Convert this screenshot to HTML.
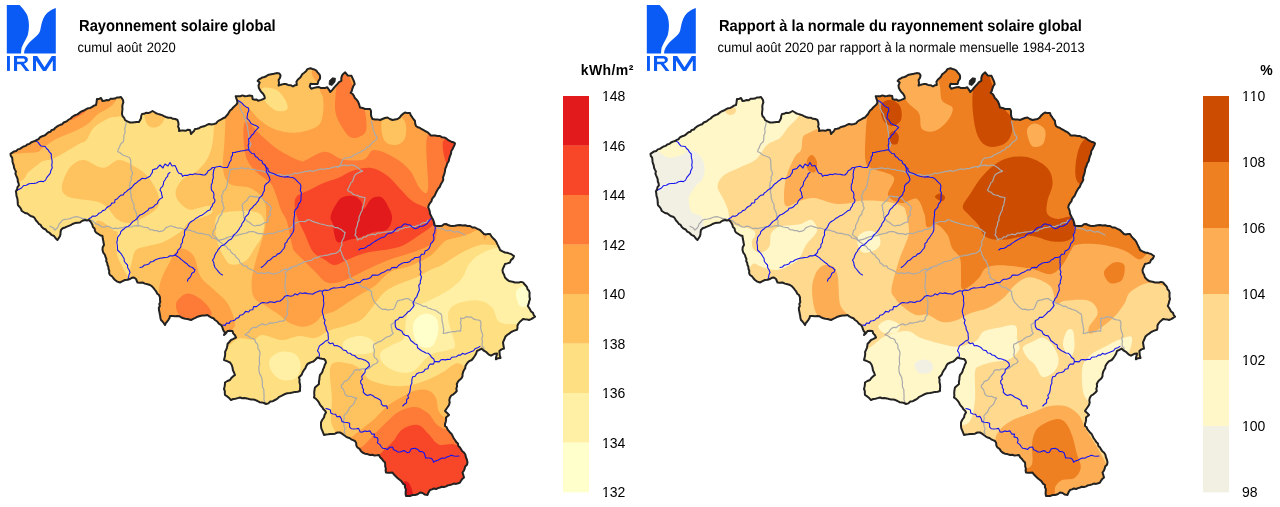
<!DOCTYPE html>
<html><head><meta charset="utf-8"><style>
html,body{margin:0;padding:0;background:#fff;width:1280px;height:507px;overflow:hidden}
svg{display:block}
svg{will-change:transform}
text{font-family:"Liberation Sans",sans-serif;fill:#000}
.t{font-weight:bold;font-size:14.75px;text-rendering:geometricPrecision}
.s{font-size:13px;text-rendering:geometricPrecision}
.lab{font-size:14px;font-kerning:none}
.unit{font-weight:bold;font-size:14px}
</style></head><body>
<svg width="1280" height="507" viewBox="0 0 1280 507">
<defs><clipPath id="bel"><path d="M10.5,153.8 L12.3,152.6 L14.1,151.4 L16.2,151.0 L17.8,149.4 L19.9,148.9 L21.7,147.7 L23.5,146.5 L25.6,145.9 L27.2,144.5 L29.3,143.9 L31.0,142.5 L32.9,141.6 L35.0,141.0 L36.7,139.9 L38.6,139.2 L39.9,137.4 L41.6,136.5 L43.6,135.8 L45.4,135.0 L46.9,133.6 L48.5,132.3 L50.5,131.8 L51.7,129.9 L53.9,129.5 L55.2,127.9 L56.8,126.7 L58.5,125.6 L60.3,124.8 L62.3,124.2 L63.7,122.5 L65.6,121.8 L67.3,120.8 L68.9,119.5 L70.7,118.5 L72.1,117.0 L73.8,115.9 L75.5,115.0 L77.5,114.4 L79.1,113.1 L80.7,111.9 L82.5,111.0 L84.5,110.2 L86.3,109.2 L88.2,108.2 L90.3,107.9 L92.2,106.9 L94.0,105.6 L96.0,105.0 L96.4,103.0 L96.7,101.0 L97.0,99.0 L99.1,98.9 L101.0,98.0 L102.5,101.0 L104.6,100.8 L106.6,99.9 L108.8,100.2 L110.6,98.8 L112.8,98.7 L114.9,98.6 L116.8,97.5 L118.9,97.4 L121.0,97.0 L123.0,100.0 L123.4,102.3 L122.6,104.5 L122.3,106.7 L122.5,109.0 L122.2,111.5 L122.0,114.0 L122.6,116.2 L124.2,117.9 L125.0,120.0 L127.4,121.4 L130.0,122.5 L132.3,122.5 L134.5,122.3 L136.7,122.1 L139.0,122.0 L140.1,120.1 L141.0,118.2 L141.2,116.0 L142.0,114.0 L144.0,113.8 L145.9,112.8 L148.0,113.1 L150.0,112.5 L152.5,111.0 L154.3,112.0 L156.0,113.2 L158.0,113.9 L160.0,114.5 L162.1,115.1 L164.0,116.1 L166.0,117.0 L168.3,117.8 L170.7,117.7 L172.9,118.8 L175.3,119.0 L177.5,120.0 L178.2,122.1 L178.6,124.3 L178.1,126.6 L179.1,128.7 L179.0,131.0 L181.2,130.5 L183.4,130.5 L185.6,130.8 L187.8,129.7 L190.0,130.0 L190.6,132.0 L191.0,134.0 L192.4,132.4 L194.0,130.9 L195.0,129.0 L197.1,128.7 L199.1,128.2 L200.9,127.0 L203.0,126.5 L205.0,126.0 L206.9,124.9 L209.0,124.0 L211.5,124.4 L214.0,124.0 L216.1,123.4 L217.5,121.5 L219.3,120.4 L221.2,119.4 L223.0,118.3 L225.0,117.5 L226.4,115.8 L227.9,114.2 L229.0,112.3 L230.1,110.5 L231.9,109.1 L233.2,107.4 L234.8,105.9 L236.5,104.5 L237.5,102.5 L237.1,100.4 L236.3,98.4 L235.7,96.3 L238.0,96.3 L240.3,96.2 L242.6,95.4 L244.9,96.2 L247.2,95.9 L249.5,95.5 L252.2,95.9 L252.6,99.1 L254.6,99.7 L256.6,99.5 L258.1,100.7 L261.3,99.9 L264.8,98.3 L264.4,95.9 L263.1,93.7 L261.3,92.0 L260.0,90.1 L258.9,88.0 L258.5,85.7 L259.7,82.5 L257.7,80.9 L258.9,79.4 L260.7,78.5 L262.4,77.4 L264.4,77.0 L266.3,76.3 L267.9,75.0 L270.0,74.6 L273.9,73.8 L276.6,73.1 L279.4,73.4 L280.6,75.4 L279.9,77.9 L278.6,80.1 L279.0,82.9 L278.6,85.7 L280.9,84.7 L283.4,84.1 L285.8,84.0 L288.1,84.9 L290.7,85.2 L292.9,86.5 L294.7,85.3 L296.8,84.9 L296.4,81.7 L297.9,79.5 L300.0,77.8 L301.2,76.1 L302.2,74.3 L303.9,73.0 L306.0,71.3 L307.4,69.1 L310.5,68.3 L312.5,69.0 L314.5,69.5 L316.3,70.6 L317.6,72.3 L319.6,74.6 L320.1,76.6 L320.0,78.6 L318.4,81.0 L317.6,84.1 L314.5,84.1 L312.5,84.1 L310.5,83.7 L309.7,86.5 L311.3,88.8 L314.0,87.9 L316.8,87.2 L319.0,87.1 L321.0,88.1 L323.1,88.0 L325.2,88.1 L327.1,87.2 L329.4,90.4 L330.2,92.0 L332.6,89.6 L334.1,87.7 L335.7,85.9 L337.3,84.1 L339.0,82.1 L341.3,80.9 L341.3,78.1 L342.1,75.4 L343.5,73.7 L345.2,72.3 L347.6,75.4 L351.5,75.8 L353.1,79.4 L354.1,81.7 L354.7,84.1 L353.2,86.3 L352.3,88.8 L351.8,90.9 L350.7,92.8 L352.7,94.0 L353.9,95.9 L354.8,98.0 L356.5,99.6 L357.9,101.4 L359.0,104.0 L360.0,107.5 L362.6,107.9 L365.0,109.0 L367.5,109.0 L370.0,109.0 L371.0,110.9 L371.0,113.0 L371.0,115.1 L371.6,117.1 L372.5,119.0 L375.0,119.5 L377.5,119.4 L380.0,120.0 L382.5,119.0 L384.9,118.0 L387.5,117.5 L389.9,119.0 L392.5,120.0 L395.0,119.5 L397.5,119.0 L399.6,117.6 L401.1,115.6 L402.9,113.9 L405.0,112.5 L407.5,113.1 L410.0,113.0 L410.8,115.3 L412.2,117.2 L413.5,119.2 L415.0,121.0 L415.2,123.6 L416.0,126.0 L417.7,127.2 L419.7,127.7 L421.4,129.0 L423.3,129.9 L425.0,131.0 L427.3,132.1 L429.2,133.7 L430.8,135.6 L433.1,135.5 L435.4,135.5 L437.7,136.1 L440.0,136.0 L441.8,137.2 L444.0,137.4 L446.0,138.2 L447.6,139.6 L449.3,140.7 L451.2,141.7 L453.3,142.2 L455.0,143.3 L454.4,145.4 L453.4,147.3 L452.5,149.2 L451.3,151.0 L451.0,153.6 L450.0,156.0 L449.2,158.6 L448.7,161.3 L447.2,163.5 L446.5,166.0 L445.3,168.6 L444.9,171.5 L444.4,173.6 L443.7,175.6 L443.0,177.6 L443.3,179.9 L442.3,181.8 L440.8,184.3 L439.7,187.0 L438.3,188.5 L437.3,190.2 L436.3,192.0 L435.5,193.8 L434.7,195.7 L433.3,197.2 L432.0,199.1 L431.4,201.4 L429.9,203.2 L428.8,205.1 L428.2,207.4 L429.1,209.4 L429.8,211.5 L430.0,213.8 L431.0,215.7 L432.0,217.7 L433.0,219.5 L433.7,221.4 L434.3,223.4 L434.6,225.4 L437.3,226.1 L440.0,226.0 L442.1,225.7 L443.9,224.3 L446.0,224.0 L448.1,225.0 L450.2,225.8 L452.5,226.0 L455.0,225.8 L457.5,225.2 L460.0,225.0 L462.5,225.4 L465.1,225.3 L467.5,226.0 L470.1,226.0 L472.4,227.5 L475.0,227.5 L477.4,228.9 L480.0,230.0 L482.0,232.0 L484.0,234.0 L486.0,234.5 L488.0,233.9 L490.0,234.0 L491.4,236.3 L493.1,238.2 L495.0,240.0 L496.3,241.9 L497.2,243.9 L498.2,245.9 L499.3,247.9 L500.0,250.0 L502.5,251.3 L505.0,252.5 L507.1,252.7 L509.0,253.4 L511.0,254.0 L514.0,256.0 L513.0,258.4 L510.9,260.1 L510.0,262.5 L507.5,263.4 L505.0,264.0 L504.2,266.0 L503.2,268.0 L502.5,270.0 L502.9,272.6 L504.2,275.0 L505.0,277.5 L507.5,280.0 L509.9,281.3 L512.5,281.7 L515.0,282.5 L517.0,282.5 L519.0,282.5 L521.0,281.9 L523.0,282.4 L524.3,284.0 L525.7,285.5 L527.0,287.1 L527.5,289.2 L529.0,290.7 L529.6,292.7 L529.5,294.8 L529.5,297.0 L530.0,299.0 L529.2,301.3 L528.7,303.7 L527.8,306.0 L529.0,307.8 L530.1,309.6 L531.1,311.5 L533.0,312.9 L533.7,315.0 L535.0,316.7 L533.1,318.0 L531.1,319.1 L529.0,320.0 L527.0,319.4 L525.0,319.3 L523.0,319.0 L521.4,320.6 L519.7,322.0 L518.3,323.8 L517.4,325.7 L517.5,327.7 L517.0,329.7 L515.0,330.4 L513.1,331.2 L511.2,332.0 L509.2,333.6 L507.1,335.0 L505.3,336.8 L504.6,338.8 L503.7,340.7 L503.0,342.7 L503.5,345.6 L504.0,348.6 L501.5,349.4 L499.4,351.0 L499.6,353.4 L499.8,355.7 L500.6,358.0 L498.1,358.2 L495.9,359.3 L496.0,357.3 L496.7,355.4 L497.0,353.4 L494.8,353.7 L492.9,354.6 L491.0,355.7 L488.5,354.3 L486.4,352.2 L483.8,350.7 L481.7,348.6 L479.4,349.9 L477.0,351.0 L476.2,353.5 L474.9,355.8 L473.4,358.0 L471.7,360.0 L469.3,361.1 L467.5,362.8 L466.3,364.5 L465.4,366.2 L465.2,368.4 L464.0,370.0 L463.1,372.0 L462.6,374.0 L462.5,376.3 L461.5,378.2 L459.6,379.9 L458.0,381.7 L456.8,384.0 L457.1,386.3 L456.3,388.7 L456.8,391.0 L455.2,392.7 L453.4,394.3 L451.3,395.5 L450.0,397.5 L449.3,400.0 L449.7,402.5 L449.0,405.0 L447.7,407.0 L446.3,409.0 L445.0,411.0 L447.1,412.9 L449.0,415.0 L446.0,417.5 L446.1,419.7 L445.7,421.8 L445.0,423.8 L445.0,426.0 L446.7,427.3 L447.5,429.3 L448.8,430.8 L450.0,432.5 L451.7,434.1 L452.7,436.1 L453.6,438.2 L455.0,440.0 L456.2,441.9 L457.9,443.5 L458.3,445.9 L460.0,447.5 L461.1,449.4 L462.3,451.2 L464.0,452.5 L465.4,454.8 L466.0,457.5 L467.0,459.9 L467.5,462.5 L467.0,464.7 L465.2,466.4 L464.7,468.6 L463.9,470.7 L462.5,472.5 L463.3,475.0 L464.0,477.5 L462.3,478.9 L461.1,480.6 L460.0,482.5 L458.1,483.3 L456.1,483.9 L453.9,483.6 L452.0,484.4 L450.0,485.0 L447.9,485.3 L446.1,486.4 L444.1,487.0 L441.9,486.8 L440.0,487.5 L438.0,488.1 L436.1,489.0 L433.9,488.5 L432.0,489.4 L430.0,490.0 L428.5,492.4 L427.5,495.0 L424.9,494.6 L422.6,493.0 L420.0,492.5 L417.7,494.2 L415.0,495.0 L412.4,495.1 L410.0,496.0 L408.0,496.1 L406.0,496.0 L405.6,493.8 L405.7,491.6 L405.9,489.4 L404.9,487.2 L405.0,485.0 L403.0,483.6 L401.7,481.6 L400.0,480.0 L398.3,478.7 L396.7,477.3 L395.2,475.8 L393.7,474.3 L392.5,472.5 L390.3,472.8 L388.2,472.7 L386.0,472.5 L385.6,470.5 L385.9,468.5 L385.2,466.5 L385.2,464.5 L385.0,462.5 L383.2,460.8 L381.9,458.9 L380.1,457.2 L379.0,455.0 L376.8,455.3 L374.5,455.5 L372.2,454.7 L370.0,455.0 L367.5,454.1 L364.9,453.7 L362.5,452.5 L360.8,450.9 L359.5,448.8 L357.5,447.5 L356.3,445.5 L356.2,443.0 L355.0,441.0 L353.1,440.2 L351.2,439.3 L349.5,438.0 L347.5,437.5 L345.6,436.3 L343.8,435.0 L342.0,433.6 L340.0,432.5 L337.4,432.5 L335.0,433.7 L332.5,434.0 L330.3,433.9 L328.2,434.3 L326.1,434.6 L324.0,435.0 L323.2,432.8 L322.3,430.6 L321.3,428.4 L321.0,426.0 L321.0,422.5 L322.2,419.8 L324.0,417.5 L324.6,414.8 L326.0,412.5 L325.1,410.7 L323.4,409.3 L322.5,407.5 L321.0,406.0 L319.8,404.4 L319.0,402.5 L317.6,400.6 L316.0,398.9 L314.0,397.5 L314.4,395.5 L314.2,393.5 L314.3,391.5 L314.6,389.5 L315.0,387.5 L317.0,385.7 L319.0,384.0 L318.9,381.7 L319.4,379.5 L319.5,377.2 L320.0,375.0 L321.4,373.4 L322.5,371.5 L323.0,369.4 L324.0,367.5 L324.7,364.9 L326.0,362.5 L325.4,360.5 L324.0,359.0 L321.8,358.7 L319.6,358.2 L317.5,357.5 L315.0,360.0 L313.4,361.5 L311.3,362.1 L309.4,363.0 L307.5,364.0 L306.2,366.1 L305.3,368.4 L303.7,370.4 L302.5,372.5 L301.8,374.5 L300.4,376.0 L299.0,377.5 L299.6,379.7 L299.4,382.0 L300.0,384.2 L300.2,386.5 L300.0,388.7 L300.0,391.0 L297.6,391.8 L295.0,391.9 L292.5,392.5 L290.0,393.0 L287.4,393.2 L285.0,394.0 L282.9,395.1 L280.9,396.2 L278.8,397.2 L277.1,398.9 L275.0,400.0 L272.8,401.2 L270.3,401.5 L268.4,403.4 L266.0,404.0 L264.0,403.0 L261.8,402.4 L259.5,402.2 L257.5,401.0 L255.5,400.1 L253.3,399.6 L251.2,399.4 L249.0,399.0 L246.8,398.4 L244.6,397.9 L242.2,398.3 L240.0,397.5 L237.7,398.1 L235.5,398.7 L233.2,399.0 L231.0,400.0 L229.2,398.1 L227.2,396.4 L225.0,395.0 L224.8,393.0 L224.8,390.9 L224.0,389.0 L224.5,386.9 L224.9,384.7 L225.0,382.5 L227.4,381.0 L230.0,380.0 L231.3,378.0 L233.0,376.4 L235.0,375.0 L234.0,372.5 L232.9,370.1 L232.5,367.5 L231.6,364.8 L230.0,362.5 L228.0,361.6 L226.1,360.7 L224.0,360.0 L224.5,358.0 L225.0,356.0 L225.2,354.0 L225.1,351.9 L226.0,350.0 L226.8,348.1 L227.3,346.1 L227.5,344.0 L229.3,342.0 L231.0,340.0 L233.5,338.8 L236.0,337.5 L235.0,335.3 L233.2,333.4 L232.5,331.0 L230.0,330.7 L227.5,331.0 L226.0,333.2 L224.0,335.0 L225.0,332.5 L223.6,330.8 L222.8,328.9 L222.2,326.8 L221.0,325.0 L218.8,323.6 L217.2,321.5 L215.0,320.0 L213.4,318.3 L211.2,317.5 L209.3,316.4 L207.5,315.0 L205.0,315.4 L202.5,315.5 L200.0,316.0 L197.6,316.7 L195.4,317.9 L193.2,318.9 L191.0,320.0 L187.5,319.0 L185.4,318.8 L183.4,318.2 L181.4,317.5 L179.6,316.3 L177.5,316.0 L175.0,316.2 L172.5,315.9 L170.0,316.0 L169.5,318.1 L168.4,319.8 L167.2,321.5 L165.8,323.1 L165.0,325.0 L163.8,323.2 L162.5,321.5 L161.0,320.0 L160.4,318.0 L160.2,316.0 L159.8,314.0 L159.4,312.0 L159.0,310.0 L158.8,308.0 L159.8,306.0 L159.3,304.0 L160.3,302.1 L160.0,300.0 L160.0,297.4 L159.0,295.0 L157.3,293.7 L156.3,291.7 L155.0,290.0 L153.6,288.1 L152.0,286.3 L150.0,285.0 L147.5,284.2 L144.9,283.6 L142.5,282.5 L140.0,282.8 L137.5,282.5 L136.0,279.0 L134.0,277.5 L131.8,277.8 L130.0,279.0 L127.6,279.8 L125.0,280.0 L122.5,281.2 L120.0,282.5 L117.3,281.6 L115.0,280.0 L113.4,278.3 L112.0,276.3 L110.0,275.0 L109.1,273.1 L109.3,270.9 L108.5,269.0 L108.4,266.9 L107.5,265.0 L107.2,262.9 L106.2,261.1 L106.4,258.9 L105.5,257.0 L105.0,255.0 L103.3,252.7 L102.5,250.0 L102.7,247.3 L104.0,245.0 L103.6,242.8 L103.2,240.5 L102.7,238.3 L102.5,236.0 L100.1,235.2 L98.1,233.8 L96.0,232.5 L94.9,230.7 L94.6,228.6 L92.9,227.1 L92.5,225.0 L91.6,223.2 L90.5,221.5 L89.0,220.0 L87.0,220.4 L85.0,220.0 L82.3,220.8 L80.0,222.5 L77.5,222.8 L74.9,223.1 L72.5,224.0 L70.7,225.1 L68.8,225.9 L66.9,226.7 L65.0,227.5 L62.7,228.3 L61.0,230.0 L60.6,232.0 L60.5,234.0 L60.0,236.0 L58.8,238.0 L57.5,240.0 L55.6,238.2 L54.0,236.0 L51.4,234.8 L49.4,232.7 L47.2,231.6 L45.7,229.5 L43.4,228.5 L41.6,226.8 L40.6,224.9 L38.7,223.8 L37.5,222.0 L36.0,220.5 L35.0,218.7 L33.7,217.0 L31.4,216.3 L29.3,215.1 L27.4,213.5 L25.0,213.0 L21.8,211.0 L20.9,208.8 L19.5,206.8 L17.9,205.0 L17.7,202.7 L17.6,200.4 L17.3,198.2 L16.5,196.0 L16.3,193.6 L15.9,191.3 L17.1,189.4 L17.5,187.1 L18.9,185.4 L18.6,183.4 L17.8,181.5 L17.7,179.4 L17.1,177.5 L16.2,175.6 L15.4,173.7 L15.9,171.5 L14.9,169.6 L14.0,167.7 L13.8,165.6 L13.1,163.7 L12.5,161.7 L12.4,159.6 L12.1,157.6 L10.8,155.8Z"/></clipPath></defs>
<g fill="#0a5af5">
<path d="M6.8,5 L19.5,5 C22,7.5 26,12 27.5,16 C29.5,22 29.3,29 27.8,35 C26.5,39 23,43.5 21.7,47.5 C21.2,50 21.1,52 21.1,53.6 L6.8,53.6 Z"/>
<path d="M55.8,53.6 L55.8,7.9 C51.5,9 47.5,12 45,15.5 C42,20 41,26 40.2,30.5 C39.3,34 36,36.5 32,40 C28,43.5 25.5,47 24.6,50 C24.2,51.5 24.1,52.5 24.1,53.6 Z"/>
<rect x="7" y="56" width="2.9" height="14.9"/>
<path d="M14,56 L14,70.9 L17.1,70.9 L17.1,64.2 L20.6,64.2 L25.8,70.9 L29.4,70.9 L23.9,63.8 C26.5,63 27.9,61.3 27.9,59.8 C27.9,57.2 26,56 23,56 Z M17.1,58.6 L22.6,58.6 C24.2,58.6 24.9,59.2 24.9,60.2 C24.9,61.2 24.2,61.7 22.6,61.7 L17.1,61.7 Z"/>
<path d="M33,56 L33,70.9 L36,70.9 L36,60.5 L43,70.9 L46,70.9 L52.8,60.5 L52.8,70.9 L55.8,70.9 L55.8,56 L51.8,56 L44.5,67.2 L37.2,56 Z"/>
</g>
<g transform="translate(640,0)"><g fill="#0a5af5">
<path d="M6.8,5 L19.5,5 C22,7.5 26,12 27.5,16 C29.5,22 29.3,29 27.8,35 C26.5,39 23,43.5 21.7,47.5 C21.2,50 21.1,52 21.1,53.6 L6.8,53.6 Z"/>
<path d="M55.8,53.6 L55.8,7.9 C51.5,9 47.5,12 45,15.5 C42,20 41,26 40.2,30.5 C39.3,34 36,36.5 32,40 C28,43.5 25.5,47 24.6,50 C24.2,51.5 24.1,52.5 24.1,53.6 Z"/>
<rect x="7" y="56" width="2.9" height="14.9"/>
<path d="M14,56 L14,70.9 L17.1,70.9 L17.1,64.2 L20.6,64.2 L25.8,70.9 L29.4,70.9 L23.9,63.8 C26.5,63 27.9,61.3 27.9,59.8 C27.9,57.2 26,56 23,56 Z M17.1,58.6 L22.6,58.6 C24.2,58.6 24.9,59.2 24.9,60.2 C24.9,61.2 24.2,61.7 22.6,61.7 L17.1,61.7 Z"/>
<path d="M33,56 L33,70.9 L36,70.9 L36,60.5 L43,70.9 L46,70.9 L52.8,60.5 L52.8,70.9 L55.8,70.9 L55.8,56 L51.8,56 L44.5,67.2 L37.2,56 Z"/>
</g></g>
<text x="79" y="31" class="t" transform="translate(0,31) scale(1,1.09) translate(0,-31)">Rayonnement solaire global</text>
<text x="77.5" y="52" class="s" style="word-spacing:1px" transform="translate(0,52) scale(1,1.06) translate(0,-52)">cumul août 2020</text>
<text x="719" y="31" class="t" style="font-size:14.68px" transform="translate(0,31) scale(1,1.09) translate(0,-31)">Rapport à la normale du rayonnement solaire global</text>
<text x="717.5" y="52" class="s" transform="translate(0,52) scale(1,1.06) translate(0,-52)">cumul août 2020 par rapport à la normale mensuelle 1984-2013</text>
<rect x="563" y="96.00" width="26" height="49.80" fill="#e31a1c"/>
<rect x="563" y="145.50" width="26" height="49.80" fill="#f84728"/>
<rect x="563" y="195.00" width="26" height="49.80" fill="#fd7b37"/>
<rect x="563" y="244.50" width="26" height="49.80" fill="#fea245"/>
<rect x="563" y="294.00" width="26" height="49.80" fill="#fec35e"/>
<rect x="563" y="343.50" width="26" height="49.80" fill="#fedf82"/>
<rect x="563" y="393.00" width="26" height="49.80" fill="#fff0a6"/>
<rect x="563" y="442.50" width="26" height="49.80" fill="#ffffcc"/>
<text x="602" y="101" class="lab">148</text>
<rect x="602.30" y="99.80" width="2.80" height="1.9" fill="#fff"/>
<rect x="606.95" y="99.80" width="3.00" height="1.9" fill="#fff"/>
<text x="602" y="151" class="lab">146</text>
<rect x="602.30" y="149.80" width="2.80" height="1.9" fill="#fff"/>
<rect x="606.95" y="149.80" width="3.00" height="1.9" fill="#fff"/>
<text x="602" y="200" class="lab">144</text>
<rect x="602.30" y="198.80" width="2.80" height="1.9" fill="#fff"/>
<rect x="606.95" y="198.80" width="3.00" height="1.9" fill="#fff"/>
<text x="602" y="250" class="lab">142</text>
<rect x="602.30" y="248.80" width="2.80" height="1.9" fill="#fff"/>
<rect x="606.95" y="248.80" width="3.00" height="1.9" fill="#fff"/>
<text x="602" y="299" class="lab">140</text>
<rect x="602.30" y="297.80" width="2.80" height="1.9" fill="#fff"/>
<rect x="606.95" y="297.80" width="3.00" height="1.9" fill="#fff"/>
<text x="602" y="349" class="lab">138</text>
<rect x="602.30" y="347.80" width="2.80" height="1.9" fill="#fff"/>
<rect x="606.95" y="347.80" width="3.00" height="1.9" fill="#fff"/>
<text x="602" y="398" class="lab">136</text>
<rect x="602.30" y="396.80" width="2.80" height="1.9" fill="#fff"/>
<rect x="606.95" y="396.80" width="3.00" height="1.9" fill="#fff"/>
<text x="602" y="448" class="lab">134</text>
<rect x="602.30" y="446.80" width="2.80" height="1.9" fill="#fff"/>
<rect x="606.95" y="446.80" width="3.00" height="1.9" fill="#fff"/>
<text x="602" y="497" class="lab">132</text>
<rect x="602.30" y="495.80" width="2.80" height="1.9" fill="#fff"/>
<rect x="606.95" y="495.80" width="3.00" height="1.9" fill="#fff"/>
<text x="580.8" y="75" class="unit" style="letter-spacing:0.4px">kWh/m²</text>
<rect x="1203" y="96.00" width="26" height="66.30" fill="#cc4c02"/>
<rect x="1203" y="162.00" width="26" height="66.30" fill="#ee8022"/>
<rect x="1203" y="228.00" width="26" height="66.30" fill="#fdae55"/>
<rect x="1203" y="294.00" width="26" height="66.30" fill="#fed98e"/>
<rect x="1203" y="360.00" width="26" height="66.30" fill="#fff7c8"/>
<rect x="1203" y="426.00" width="26" height="66.30" fill="#f2f0e2"/>
<text x="1242" y="101" class="lab">110</text>
<rect x="1242.30" y="99.80" width="2.80" height="1.9" fill="#fff"/>
<rect x="1246.95" y="99.80" width="3.00" height="1.9" fill="#fff"/>
<rect x="1250.09" y="99.80" width="2.80" height="1.9" fill="#fff"/>
<rect x="1254.74" y="99.80" width="3.00" height="1.9" fill="#fff"/>
<text x="1242" y="167" class="lab">108</text>
<rect x="1242.30" y="165.80" width="2.80" height="1.9" fill="#fff"/>
<rect x="1246.95" y="165.80" width="3.00" height="1.9" fill="#fff"/>
<text x="1242" y="233" class="lab">106</text>
<rect x="1242.30" y="231.80" width="2.80" height="1.9" fill="#fff"/>
<rect x="1246.95" y="231.80" width="3.00" height="1.9" fill="#fff"/>
<text x="1242" y="299" class="lab">104</text>
<rect x="1242.30" y="297.80" width="2.80" height="1.9" fill="#fff"/>
<rect x="1246.95" y="297.80" width="3.00" height="1.9" fill="#fff"/>
<text x="1242" y="365" class="lab">102</text>
<rect x="1242.30" y="363.80" width="2.80" height="1.9" fill="#fff"/>
<rect x="1246.95" y="363.80" width="3.00" height="1.9" fill="#fff"/>
<text x="1242" y="431" class="lab">100</text>
<rect x="1242.30" y="429.80" width="2.80" height="1.9" fill="#fff"/>
<rect x="1246.95" y="429.80" width="3.00" height="1.9" fill="#fff"/>
<text x="1242" y="497" class="lab">98</text>
<text x="1260.3" y="75" class="unit" style="letter-spacing:0px">%</text>
<g transform="translate(0,0)">
<g clip-path="url(#bel)">
<path d="M10.5,153.8 L12.3,152.6 L14.1,151.4 L16.2,151.0 L17.8,149.4 L19.9,148.9 L21.7,147.7 L23.5,146.5 L25.6,145.9 L27.2,144.5 L29.3,143.9 L31.0,142.5 L32.9,141.6 L35.0,141.0 L36.7,139.9 L38.6,139.2 L39.9,137.4 L41.6,136.5 L43.6,135.8 L45.4,135.0 L46.9,133.6 L48.5,132.3 L50.5,131.8 L51.7,129.9 L53.9,129.5 L55.2,127.9 L56.8,126.7 L58.5,125.6 L60.3,124.8 L62.3,124.2 L63.7,122.5 L65.6,121.8 L67.3,120.8 L68.9,119.5 L70.7,118.5 L72.1,117.0 L73.8,115.9 L75.5,115.0 L77.5,114.4 L79.1,113.1 L80.7,111.9 L82.5,111.0 L84.5,110.2 L86.3,109.2 L88.2,108.2 L90.3,107.9 L92.2,106.9 L94.0,105.6 L96.0,105.0 L96.4,103.0 L96.7,101.0 L97.0,99.0 L99.1,98.9 L101.0,98.0 L102.5,101.0 L104.6,100.8 L106.6,99.9 L108.8,100.2 L110.6,98.8 L112.8,98.7 L114.9,98.6 L116.8,97.5 L118.9,97.4 L121.0,97.0 L123.0,100.0 L123.4,102.3 L122.6,104.5 L122.3,106.7 L122.5,109.0 L122.2,111.5 L122.0,114.0 L122.6,116.2 L124.2,117.9 L125.0,120.0 L127.4,121.4 L130.0,122.5 L132.3,122.5 L134.5,122.3 L136.7,122.1 L139.0,122.0 L140.1,120.1 L141.0,118.2 L141.2,116.0 L142.0,114.0 L144.0,113.8 L145.9,112.8 L148.0,113.1 L150.0,112.5 L152.5,111.0 L154.3,112.0 L156.0,113.2 L158.0,113.9 L160.0,114.5 L162.1,115.1 L164.0,116.1 L166.0,117.0 L168.3,117.8 L170.7,117.7 L172.9,118.8 L175.3,119.0 L177.5,120.0 L178.2,122.1 L178.6,124.3 L178.1,126.6 L179.1,128.7 L179.0,131.0 L181.2,130.5 L183.4,130.5 L185.6,130.8 L187.8,129.7 L190.0,130.0 L190.6,132.0 L191.0,134.0 L192.4,132.4 L194.0,130.9 L195.0,129.0 L197.1,128.7 L199.1,128.2 L200.9,127.0 L203.0,126.5 L205.0,126.0 L206.9,124.9 L209.0,124.0 L211.5,124.4 L214.0,124.0 L216.1,123.4 L217.5,121.5 L219.3,120.4 L221.2,119.4 L223.0,118.3 L225.0,117.5 L226.4,115.8 L227.9,114.2 L229.0,112.3 L230.1,110.5 L231.9,109.1 L233.2,107.4 L234.8,105.9 L236.5,104.5 L237.5,102.5 L237.1,100.4 L236.3,98.4 L235.7,96.3 L238.0,96.3 L240.3,96.2 L242.6,95.4 L244.9,96.2 L247.2,95.9 L249.5,95.5 L252.2,95.9 L252.6,99.1 L254.6,99.7 L256.6,99.5 L258.1,100.7 L261.3,99.9 L264.8,98.3 L264.4,95.9 L263.1,93.7 L261.3,92.0 L260.0,90.1 L258.9,88.0 L258.5,85.7 L259.7,82.5 L257.7,80.9 L258.9,79.4 L260.7,78.5 L262.4,77.4 L264.4,77.0 L266.3,76.3 L267.9,75.0 L270.0,74.6 L273.9,73.8 L276.6,73.1 L279.4,73.4 L280.6,75.4 L279.9,77.9 L278.6,80.1 L279.0,82.9 L278.6,85.7 L280.9,84.7 L283.4,84.1 L285.8,84.0 L288.1,84.9 L290.7,85.2 L292.9,86.5 L294.7,85.3 L296.8,84.9 L296.4,81.7 L297.9,79.5 L300.0,77.8 L301.2,76.1 L302.2,74.3 L303.9,73.0 L306.0,71.3 L307.4,69.1 L310.5,68.3 L312.5,69.0 L314.5,69.5 L316.3,70.6 L317.6,72.3 L319.6,74.6 L320.1,76.6 L320.0,78.6 L318.4,81.0 L317.6,84.1 L314.5,84.1 L312.5,84.1 L310.5,83.7 L309.7,86.5 L311.3,88.8 L314.0,87.9 L316.8,87.2 L319.0,87.1 L321.0,88.1 L323.1,88.0 L325.2,88.1 L327.1,87.2 L329.4,90.4 L330.2,92.0 L332.6,89.6 L334.1,87.7 L335.7,85.9 L337.3,84.1 L339.0,82.1 L341.3,80.9 L341.3,78.1 L342.1,75.4 L343.5,73.7 L345.2,72.3 L347.6,75.4 L351.5,75.8 L353.1,79.4 L354.1,81.7 L354.7,84.1 L353.2,86.3 L352.3,88.8 L351.8,90.9 L350.7,92.8 L352.7,94.0 L353.9,95.9 L354.8,98.0 L356.5,99.6 L357.9,101.4 L359.0,104.0 L360.0,107.5 L362.6,107.9 L365.0,109.0 L367.5,109.0 L370.0,109.0 L371.0,110.9 L371.0,113.0 L371.0,115.1 L371.6,117.1 L372.5,119.0 L375.0,119.5 L377.5,119.4 L380.0,120.0 L382.5,119.0 L384.9,118.0 L387.5,117.5 L389.9,119.0 L392.5,120.0 L395.0,119.5 L397.5,119.0 L399.6,117.6 L401.1,115.6 L402.9,113.9 L405.0,112.5 L407.5,113.1 L410.0,113.0 L410.8,115.3 L412.2,117.2 L413.5,119.2 L415.0,121.0 L415.2,123.6 L416.0,126.0 L417.7,127.2 L419.7,127.7 L421.4,129.0 L423.3,129.9 L425.0,131.0 L427.3,132.1 L429.2,133.7 L430.8,135.6 L433.1,135.5 L435.4,135.5 L437.7,136.1 L440.0,136.0 L441.8,137.2 L444.0,137.4 L446.0,138.2 L447.6,139.6 L449.3,140.7 L451.2,141.7 L453.3,142.2 L455.0,143.3 L454.4,145.4 L453.4,147.3 L452.5,149.2 L451.3,151.0 L451.0,153.6 L450.0,156.0 L449.2,158.6 L448.7,161.3 L447.2,163.5 L446.5,166.0 L445.3,168.6 L444.9,171.5 L444.4,173.6 L443.7,175.6 L443.0,177.6 L443.3,179.9 L442.3,181.8 L440.8,184.3 L439.7,187.0 L438.3,188.5 L437.3,190.2 L436.3,192.0 L435.5,193.8 L434.7,195.7 L433.3,197.2 L432.0,199.1 L431.4,201.4 L429.9,203.2 L428.8,205.1 L428.2,207.4 L429.1,209.4 L429.8,211.5 L430.0,213.8 L431.0,215.7 L432.0,217.7 L433.0,219.5 L433.7,221.4 L434.3,223.4 L434.6,225.4 L437.3,226.1 L440.0,226.0 L442.1,225.7 L443.9,224.3 L446.0,224.0 L448.1,225.0 L450.2,225.8 L452.5,226.0 L455.0,225.8 L457.5,225.2 L460.0,225.0 L462.5,225.4 L465.1,225.3 L467.5,226.0 L470.1,226.0 L472.4,227.5 L475.0,227.5 L477.4,228.9 L480.0,230.0 L482.0,232.0 L484.0,234.0 L486.0,234.5 L488.0,233.9 L490.0,234.0 L491.4,236.3 L493.1,238.2 L495.0,240.0 L496.3,241.9 L497.2,243.9 L498.2,245.9 L499.3,247.9 L500.0,250.0 L502.5,251.3 L505.0,252.5 L507.1,252.7 L509.0,253.4 L511.0,254.0 L514.0,256.0 L513.0,258.4 L510.9,260.1 L510.0,262.5 L507.5,263.4 L505.0,264.0 L504.2,266.0 L503.2,268.0 L502.5,270.0 L502.9,272.6 L504.2,275.0 L505.0,277.5 L507.5,280.0 L509.9,281.3 L512.5,281.7 L515.0,282.5 L517.0,282.5 L519.0,282.5 L521.0,281.9 L523.0,282.4 L524.3,284.0 L525.7,285.5 L527.0,287.1 L527.5,289.2 L529.0,290.7 L529.6,292.7 L529.5,294.8 L529.5,297.0 L530.0,299.0 L529.2,301.3 L528.7,303.7 L527.8,306.0 L529.0,307.8 L530.1,309.6 L531.1,311.5 L533.0,312.9 L533.7,315.0 L535.0,316.7 L533.1,318.0 L531.1,319.1 L529.0,320.0 L527.0,319.4 L525.0,319.3 L523.0,319.0 L521.4,320.6 L519.7,322.0 L518.3,323.8 L517.4,325.7 L517.5,327.7 L517.0,329.7 L515.0,330.4 L513.1,331.2 L511.2,332.0 L509.2,333.6 L507.1,335.0 L505.3,336.8 L504.6,338.8 L503.7,340.7 L503.0,342.7 L503.5,345.6 L504.0,348.6 L501.5,349.4 L499.4,351.0 L499.6,353.4 L499.8,355.7 L500.6,358.0 L498.1,358.2 L495.9,359.3 L496.0,357.3 L496.7,355.4 L497.0,353.4 L494.8,353.7 L492.9,354.6 L491.0,355.7 L488.5,354.3 L486.4,352.2 L483.8,350.7 L481.7,348.6 L479.4,349.9 L477.0,351.0 L476.2,353.5 L474.9,355.8 L473.4,358.0 L471.7,360.0 L469.3,361.1 L467.5,362.8 L466.3,364.5 L465.4,366.2 L465.2,368.4 L464.0,370.0 L463.1,372.0 L462.6,374.0 L462.5,376.3 L461.5,378.2 L459.6,379.9 L458.0,381.7 L456.8,384.0 L457.1,386.3 L456.3,388.7 L456.8,391.0 L455.2,392.7 L453.4,394.3 L451.3,395.5 L450.0,397.5 L449.3,400.0 L449.7,402.5 L449.0,405.0 L447.7,407.0 L446.3,409.0 L445.0,411.0 L447.1,412.9 L449.0,415.0 L446.0,417.5 L446.1,419.7 L445.7,421.8 L445.0,423.8 L445.0,426.0 L446.7,427.3 L447.5,429.3 L448.8,430.8 L450.0,432.5 L451.7,434.1 L452.7,436.1 L453.6,438.2 L455.0,440.0 L456.2,441.9 L457.9,443.5 L458.3,445.9 L460.0,447.5 L461.1,449.4 L462.3,451.2 L464.0,452.5 L465.4,454.8 L466.0,457.5 L467.0,459.9 L467.5,462.5 L467.0,464.7 L465.2,466.4 L464.7,468.6 L463.9,470.7 L462.5,472.5 L463.3,475.0 L464.0,477.5 L462.3,478.9 L461.1,480.6 L460.0,482.5 L458.1,483.3 L456.1,483.9 L453.9,483.6 L452.0,484.4 L450.0,485.0 L447.9,485.3 L446.1,486.4 L444.1,487.0 L441.9,486.8 L440.0,487.5 L438.0,488.1 L436.1,489.0 L433.9,488.5 L432.0,489.4 L430.0,490.0 L428.5,492.4 L427.5,495.0 L424.9,494.6 L422.6,493.0 L420.0,492.5 L417.7,494.2 L415.0,495.0 L412.4,495.1 L410.0,496.0 L408.0,496.1 L406.0,496.0 L405.6,493.8 L405.7,491.6 L405.9,489.4 L404.9,487.2 L405.0,485.0 L403.0,483.6 L401.7,481.6 L400.0,480.0 L398.3,478.7 L396.7,477.3 L395.2,475.8 L393.7,474.3 L392.5,472.5 L390.3,472.8 L388.2,472.7 L386.0,472.5 L385.6,470.5 L385.9,468.5 L385.2,466.5 L385.2,464.5 L385.0,462.5 L383.2,460.8 L381.9,458.9 L380.1,457.2 L379.0,455.0 L376.8,455.3 L374.5,455.5 L372.2,454.7 L370.0,455.0 L367.5,454.1 L364.9,453.7 L362.5,452.5 L360.8,450.9 L359.5,448.8 L357.5,447.5 L356.3,445.5 L356.2,443.0 L355.0,441.0 L353.1,440.2 L351.2,439.3 L349.5,438.0 L347.5,437.5 L345.6,436.3 L343.8,435.0 L342.0,433.6 L340.0,432.5 L337.4,432.5 L335.0,433.7 L332.5,434.0 L330.3,433.9 L328.2,434.3 L326.1,434.6 L324.0,435.0 L323.2,432.8 L322.3,430.6 L321.3,428.4 L321.0,426.0 L321.0,422.5 L322.2,419.8 L324.0,417.5 L324.6,414.8 L326.0,412.5 L325.1,410.7 L323.4,409.3 L322.5,407.5 L321.0,406.0 L319.8,404.4 L319.0,402.5 L317.6,400.6 L316.0,398.9 L314.0,397.5 L314.4,395.5 L314.2,393.5 L314.3,391.5 L314.6,389.5 L315.0,387.5 L317.0,385.7 L319.0,384.0 L318.9,381.7 L319.4,379.5 L319.5,377.2 L320.0,375.0 L321.4,373.4 L322.5,371.5 L323.0,369.4 L324.0,367.5 L324.7,364.9 L326.0,362.5 L325.4,360.5 L324.0,359.0 L321.8,358.7 L319.6,358.2 L317.5,357.5 L315.0,360.0 L313.4,361.5 L311.3,362.1 L309.4,363.0 L307.5,364.0 L306.2,366.1 L305.3,368.4 L303.7,370.4 L302.5,372.5 L301.8,374.5 L300.4,376.0 L299.0,377.5 L299.6,379.7 L299.4,382.0 L300.0,384.2 L300.2,386.5 L300.0,388.7 L300.0,391.0 L297.6,391.8 L295.0,391.9 L292.5,392.5 L290.0,393.0 L287.4,393.2 L285.0,394.0 L282.9,395.1 L280.9,396.2 L278.8,397.2 L277.1,398.9 L275.0,400.0 L272.8,401.2 L270.3,401.5 L268.4,403.4 L266.0,404.0 L264.0,403.0 L261.8,402.4 L259.5,402.2 L257.5,401.0 L255.5,400.1 L253.3,399.6 L251.2,399.4 L249.0,399.0 L246.8,398.4 L244.6,397.9 L242.2,398.3 L240.0,397.5 L237.7,398.1 L235.5,398.7 L233.2,399.0 L231.0,400.0 L229.2,398.1 L227.2,396.4 L225.0,395.0 L224.8,393.0 L224.8,390.9 L224.0,389.0 L224.5,386.9 L224.9,384.7 L225.0,382.5 L227.4,381.0 L230.0,380.0 L231.3,378.0 L233.0,376.4 L235.0,375.0 L234.0,372.5 L232.9,370.1 L232.5,367.5 L231.6,364.8 L230.0,362.5 L228.0,361.6 L226.1,360.7 L224.0,360.0 L224.5,358.0 L225.0,356.0 L225.2,354.0 L225.1,351.9 L226.0,350.0 L226.8,348.1 L227.3,346.1 L227.5,344.0 L229.3,342.0 L231.0,340.0 L233.5,338.8 L236.0,337.5 L235.0,335.3 L233.2,333.4 L232.5,331.0 L230.0,330.7 L227.5,331.0 L226.0,333.2 L224.0,335.0 L225.0,332.5 L223.6,330.8 L222.8,328.9 L222.2,326.8 L221.0,325.0 L218.8,323.6 L217.2,321.5 L215.0,320.0 L213.4,318.3 L211.2,317.5 L209.3,316.4 L207.5,315.0 L205.0,315.4 L202.5,315.5 L200.0,316.0 L197.6,316.7 L195.4,317.9 L193.2,318.9 L191.0,320.0 L187.5,319.0 L185.4,318.8 L183.4,318.2 L181.4,317.5 L179.6,316.3 L177.5,316.0 L175.0,316.2 L172.5,315.9 L170.0,316.0 L169.5,318.1 L168.4,319.8 L167.2,321.5 L165.8,323.1 L165.0,325.0 L163.8,323.2 L162.5,321.5 L161.0,320.0 L160.4,318.0 L160.2,316.0 L159.8,314.0 L159.4,312.0 L159.0,310.0 L158.8,308.0 L159.8,306.0 L159.3,304.0 L160.3,302.1 L160.0,300.0 L160.0,297.4 L159.0,295.0 L157.3,293.7 L156.3,291.7 L155.0,290.0 L153.6,288.1 L152.0,286.3 L150.0,285.0 L147.5,284.2 L144.9,283.6 L142.5,282.5 L140.0,282.8 L137.5,282.5 L136.0,279.0 L134.0,277.5 L131.8,277.8 L130.0,279.0 L127.6,279.8 L125.0,280.0 L122.5,281.2 L120.0,282.5 L117.3,281.6 L115.0,280.0 L113.4,278.3 L112.0,276.3 L110.0,275.0 L109.1,273.1 L109.3,270.9 L108.5,269.0 L108.4,266.9 L107.5,265.0 L107.2,262.9 L106.2,261.1 L106.4,258.9 L105.5,257.0 L105.0,255.0 L103.3,252.7 L102.5,250.0 L102.7,247.3 L104.0,245.0 L103.6,242.8 L103.2,240.5 L102.7,238.3 L102.5,236.0 L100.1,235.2 L98.1,233.8 L96.0,232.5 L94.9,230.7 L94.6,228.6 L92.9,227.1 L92.5,225.0 L91.6,223.2 L90.5,221.5 L89.0,220.0 L87.0,220.4 L85.0,220.0 L82.3,220.8 L80.0,222.5 L77.5,222.8 L74.9,223.1 L72.5,224.0 L70.7,225.1 L68.8,225.9 L66.9,226.7 L65.0,227.5 L62.7,228.3 L61.0,230.0 L60.6,232.0 L60.5,234.0 L60.0,236.0 L58.8,238.0 L57.5,240.0 L55.6,238.2 L54.0,236.0 L51.4,234.8 L49.4,232.7 L47.2,231.6 L45.7,229.5 L43.4,228.5 L41.6,226.8 L40.6,224.9 L38.7,223.8 L37.5,222.0 L36.0,220.5 L35.0,218.7 L33.7,217.0 L31.4,216.3 L29.3,215.1 L27.4,213.5 L25.0,213.0 L21.8,211.0 L20.9,208.8 L19.5,206.8 L17.9,205.0 L17.7,202.7 L17.6,200.4 L17.3,198.2 L16.5,196.0 L16.3,193.6 L15.9,191.3 L17.1,189.4 L17.5,187.1 L18.9,185.4 L18.6,183.4 L17.8,181.5 L17.7,179.4 L17.1,177.5 L16.2,175.6 L15.4,173.7 L15.9,171.5 L14.9,169.6 L14.0,167.7 L13.8,165.6 L13.1,163.7 L12.5,161.7 L12.4,159.6 L12.1,157.6 L10.8,155.8Z" fill="#fec35e"/>
<path d="M125.0,88.0 C160.7,91.0 199.2,99.7 214.0,106.0 C228.8,112.3 214.3,118.9 214.0,125.6 C213.7,132.3 213.3,140.1 212.0,146.0 C210.7,151.9 208.8,156.6 206.0,161.0 C203.2,165.4 198.7,169.7 195.0,172.5 C191.3,175.3 187.2,175.1 184.0,178.0 C180.8,180.9 177.0,186.2 176.0,190.0 C175.0,193.8 175.9,197.3 178.0,200.6 C180.1,203.8 185.2,208.3 188.8,209.5 C192.4,210.7 195.9,208.4 199.4,207.8 C202.9,207.2 207.9,205.1 210.0,206.0 C212.1,206.9 213.6,210.9 211.8,213.0 C210.0,215.1 203.2,216.9 199.4,218.4 C195.6,219.9 191.8,219.9 188.8,222.0 C185.9,224.1 184.7,228.1 181.7,230.8 C178.7,233.5 174.6,235.9 171.0,238.0 C167.4,240.1 164.4,241.8 160.0,243.3 C155.6,244.8 148.5,245.6 144.4,246.8 C140.3,248.0 137.6,248.0 135.5,250.4 C133.4,252.8 132.9,257.7 132.0,261.0 C131.1,264.3 130.7,266.0 130.0,270.0 C129.3,274.0 133.0,280.8 128.0,285.0 C123.0,289.2 121.3,293.3 100.0,295.0 C78.7,296.7 16.7,329.5 0.0,295.0 C-16.7,260.5 -20.8,122.5 0.0,88.0 C20.8,53.5 89.3,85.0 125.0,88.0Z" fill="#fedf82"/>
<path d="M264.0,87.6 C266.6,87.1 273.1,87.8 276.7,90.0 C280.3,92.2 283.9,97.3 285.6,100.5 C287.3,103.7 288.5,107.7 287.0,109.4 C285.5,111.1 280.1,111.8 276.7,110.7 C273.3,109.6 269.0,106.0 266.4,103.0 C263.8,100.0 261.4,95.4 261.0,92.8 C260.6,90.2 261.4,88.1 264.0,87.6Z" fill="#fedf82"/>
<path d="M215.4,230.8 C215.2,225.5 214.2,218.3 218.0,215.0 C221.8,211.7 232.1,211.5 238.5,211.0 C244.9,210.5 251.9,210.5 256.2,212.0 C260.4,213.5 263.0,216.0 264.0,220.0 C265.0,224.0 263.6,231.2 262.0,236.0 C260.4,240.8 257.1,244.4 254.4,248.6 C251.7,252.8 249.4,258.3 245.6,261.0 C241.8,263.7 234.9,265.2 231.4,264.6 C227.9,264.0 226.4,260.5 224.3,257.5 C222.2,254.5 220.5,251.2 219.0,246.8 C217.5,242.4 215.6,236.1 215.4,230.8Z" fill="#fedf82"/>
<path d="M212.0,352.0 C213.6,341.8 220.3,351.2 224.7,349.0 C229.1,346.8 233.7,340.2 238.5,338.6 C243.3,337.1 249.6,340.3 253.6,339.7 C257.6,339.1 257.9,334.9 262.6,335.0 C267.3,335.1 275.9,339.8 282.0,340.0 C288.1,340.2 293.5,336.3 299.0,336.0 C304.5,335.7 310.0,338.9 315.0,338.0 C320.0,337.1 323.2,332.9 328.8,330.7 C334.4,328.5 342.9,326.8 348.5,324.8 C354.1,322.9 358.1,322.3 362.3,319.0 C366.6,315.7 370.5,309.3 374.0,305.0 C377.5,300.7 379.8,296.5 383.3,293.3 C386.8,290.1 389.3,288.4 395.0,285.7 C400.7,283.0 411.7,279.6 417.5,277.0 C423.3,274.4 426.2,271.8 430.0,270.0 C433.8,268.2 437.2,267.3 440.0,266.0 C442.8,264.7 442.8,264.4 446.7,262.0 C450.6,259.6 457.8,254.6 463.3,251.8 C468.9,249.0 474.7,246.1 480.0,245.0 C485.3,243.9 484.2,245.0 495.0,245.0 C505.8,245.0 536.7,228.3 545.0,245.0 C553.3,261.7 555.8,323.8 545.0,345.0 C534.2,366.2 494.2,368.9 480.0,372.0 C465.8,375.1 464.7,364.8 460.0,363.7 C455.3,362.6 454.7,364.3 452.0,365.6 C449.3,366.9 447.9,369.3 444.0,371.6 C440.1,373.9 434.2,377.1 428.3,379.4 C422.4,381.7 415.2,384.4 408.6,385.4 C402.0,386.4 395.5,386.4 388.9,385.4 C382.3,384.4 373.8,382.0 369.2,379.4 C364.6,376.8 364.6,372.2 361.3,369.6 C358.0,367.0 354.4,364.4 349.4,363.7 C344.3,363.0 333.9,359.6 331.0,365.6 C328.1,371.7 332.0,390.8 332.0,400.0 C332.0,409.2 330.3,414.7 331.0,421.0 C331.7,427.3 337.8,434.0 336.0,438.0 C334.2,442.0 326.0,448.0 320.0,445.0 C314.0,442.0 317.5,425.8 300.0,420.0 C282.5,414.2 229.7,421.3 215.0,410.0 C200.3,398.7 210.4,362.2 212.0,352.0Z" fill="#fedf82"/>
<path d="M3.0,150.0 C19.2,133.7 79.5,100.0 100.0,90.0 C120.5,80.0 122.3,86.0 126.0,90.0 C129.7,94.0 124.8,109.3 122.0,114.0 C119.2,118.7 113.7,115.8 109.0,118.0 C104.3,120.2 97.8,123.7 94.0,127.5 C90.2,131.3 88.5,137.8 86.0,140.6 C83.5,143.3 83.0,141.8 79.0,144.0 C75.0,146.2 66.4,151.5 62.0,154.0 C57.6,156.5 55.7,157.8 52.5,159.0 C49.3,160.2 45.5,160.0 43.0,161.0 C40.5,162.0 40.0,163.1 37.5,165.0 C35.0,166.9 30.5,170.0 28.0,172.5 C25.5,175.0 26.7,177.4 22.5,180.0 C18.3,182.6 6.2,193.0 3.0,188.0 C-0.2,183.0 -13.2,166.3 3.0,150.0Z" fill="#fec35e"/>
<path d="M145.0,108.0 C148.0,105.3 162.0,105.7 165.0,108.0 C168.0,110.3 164.7,118.8 163.0,122.0 C161.3,125.2 157.7,127.2 155.0,127.5 C152.3,127.8 148.7,127.2 147.0,124.0 C145.3,120.8 142.0,110.7 145.0,108.0Z" fill="#fec35e"/>
<path d="M61.8,187.5 C61.8,182.6 66.1,172.3 69.7,167.8 C73.3,163.2 78.0,159.9 83.5,159.9 C89.0,159.9 97.1,167.8 103.0,167.8 C108.9,167.8 113.4,159.9 119.0,159.9 C124.6,159.9 131.9,164.8 136.8,167.8 C141.7,170.7 145.0,173.0 148.6,177.6 C152.2,182.2 157.0,190.5 158.5,195.4 C160.0,200.3 159.8,203.6 157.5,207.2 C155.2,210.8 149.4,214.4 144.7,217.0 C139.9,219.6 133.6,222.7 129.0,223.0 C124.4,223.3 120.7,221.6 117.0,219.0 C113.3,216.4 110.6,210.1 107.0,207.2 C103.4,204.2 101.6,203.0 95.4,201.3 C89.2,199.7 75.3,199.6 69.7,197.3 C64.1,195.0 61.8,192.4 61.8,187.5Z" fill="#fec35e"/>
<path d="M95.0,224.0 C98.2,213.8 110.4,229.4 114.2,230.8 C118.0,232.2 117.5,230.5 117.8,232.6 C118.1,234.7 116.0,239.2 116.0,243.3 C116.0,247.5 116.6,253.4 117.8,257.5 C119.0,261.6 121.3,263.4 123.0,268.0 C124.7,272.6 132.7,281.0 128.0,285.0 C123.3,289.0 100.5,302.2 95.0,292.0 C89.5,281.8 91.8,234.2 95.0,224.0Z" fill="#fec35e"/>
<path d="M345.5,340.0 C348.3,338.2 355.6,336.0 360.0,336.0 C364.4,336.0 369.5,337.7 372.0,340.0 C374.5,342.3 376.2,347.7 375.0,350.0 C373.8,352.3 369.2,353.5 365.0,354.0 C360.8,354.5 353.7,354.2 350.0,353.0 C346.3,351.8 343.8,349.2 343.0,347.0 C342.2,344.8 342.7,341.8 345.5,340.0Z" fill="#fff0a6"/>
<path d="M381.0,352.0 C382.7,349.2 388.2,347.3 392.0,345.0 C395.8,342.7 401.7,342.2 404.0,338.0 C406.3,333.8 404.7,325.3 406.0,320.0 C407.3,314.7 409.1,308.8 412.0,306.0 C414.9,303.2 417.7,305.5 423.6,303.0 C429.5,300.5 441.0,295.0 447.3,291.0 C453.6,287.0 457.9,283.3 461.5,279.0 C465.1,274.7 465.9,268.9 468.6,265.0 C471.4,261.1 473.7,258.3 478.0,255.5 C482.3,252.7 489.9,249.2 494.6,248.4 C499.3,247.6 498.8,249.6 506.4,250.7 C514.0,251.8 534.4,243.1 540.0,255.0 C545.6,266.9 543.7,310.5 540.0,322.0 C536.3,333.5 524.8,324.0 518.0,324.0 C511.2,324.0 503.6,324.8 499.3,322.0 C495.0,319.2 495.8,311.1 492.2,307.5 C488.6,303.9 484.3,300.8 478.0,300.4 C471.7,300.0 459.4,302.1 454.4,305.0 C449.4,307.9 447.9,311.3 448.0,318.0 C448.1,324.7 455.0,339.7 455.0,345.0 C455.0,350.3 452.2,348.3 448.0,350.0 C443.8,351.7 435.9,351.4 430.0,355.0 C424.1,358.6 418.4,368.9 412.6,371.6 C406.8,374.3 400.1,372.6 395.0,371.0 C389.9,369.4 384.3,365.2 382.0,362.0 C379.7,358.8 379.3,354.8 381.0,352.0Z" fill="#fff0a6"/>
<path d="M269.5,360.0 C270.8,356.7 275.8,353.0 280.0,352.0 C284.2,351.0 291.6,351.8 295.0,354.0 C298.4,356.2 300.4,361.0 300.6,365.0 C300.8,369.0 299.1,375.5 296.0,378.0 C292.9,380.5 286.0,381.0 282.0,380.0 C278.0,379.0 274.1,375.3 272.0,372.0 C269.9,368.7 268.2,363.3 269.5,360.0Z" fill="#fff0a6"/>
<path d="M414.0,322.0 C415.7,318.3 420.3,314.7 424.0,314.0 C427.7,313.3 433.7,315.0 436.0,318.0 C438.3,321.0 438.7,327.3 438.0,332.0 C437.3,336.7 435.0,343.7 432.0,346.0 C429.0,348.3 423.0,347.7 420.0,346.0 C417.0,344.3 415.0,340.0 414.0,336.0 C413.0,332.0 412.3,325.7 414.0,322.0Z" fill="#ffffcc"/>
<path d="M516.0,292.0 C516.7,288.7 521.3,286.3 524.0,286.0 C526.7,285.7 531.0,287.0 532.0,290.0 C533.0,293.0 532.0,301.3 530.0,304.0 C528.0,306.7 522.3,308.0 520.0,306.0 C517.7,304.0 515.3,295.3 516.0,292.0Z" fill="#ffffcc"/>
<path d="M3.0,150.0 C18.3,139.7 80.8,101.7 100.0,92.0 C119.2,82.3 115.9,89.8 118.0,92.0 C120.1,94.2 115.9,101.3 112.5,105.0 C109.1,108.7 101.6,111.3 97.5,114.4 C93.4,117.5 91.8,121.0 88.0,123.8 C84.2,126.5 80.3,128.5 75.0,131.0 C69.7,133.5 61.3,136.2 56.0,139.0 C50.7,141.8 46.1,145.8 43.0,148.0 C39.9,150.2 40.7,151.2 37.5,152.0 C34.3,152.8 28.9,152.7 24.0,153.0 C19.1,153.3 11.5,154.5 8.0,154.0 C4.5,153.5 -12.3,160.3 3.0,150.0Z" fill="#fea245"/>
<path d="M230.0,92.0 C232.0,89.8 234.9,97.8 238.0,100.5 C241.1,103.2 244.7,104.6 248.5,108.0 C252.3,111.4 256.3,117.3 261.0,121.0 C265.7,124.7 270.7,128.1 276.7,130.0 C282.7,131.9 290.2,133.2 297.0,132.5 C303.8,131.8 313.4,129.2 317.7,126.0 C322.0,122.8 322.1,117.7 323.0,113.0 C323.9,108.3 323.5,102.2 323.0,98.0 C322.5,93.8 319.7,93.5 320.0,88.0 C320.3,82.5 298.3,68.8 325.0,65.0 C351.7,61.2 453.2,37.8 480.0,65.0 C506.8,92.2 486.0,200.8 486.0,228.0 C486.0,255.2 482.7,227.5 480.0,228.4 C477.3,229.3 473.3,232.0 470.0,233.4 C466.7,234.8 463.8,235.7 460.0,236.8 C456.2,237.9 450.3,238.5 447.0,240.0 C443.7,241.5 442.8,243.3 440.0,246.0 C437.2,248.7 435.0,252.7 430.0,256.0 C425.0,259.3 416.7,263.3 410.0,266.0 C403.3,268.7 395.9,268.6 390.0,272.0 C384.1,275.4 380.0,282.1 374.4,286.2 C368.8,290.3 363.2,292.7 356.6,296.8 C350.0,300.9 340.3,308.0 334.7,311.0 C329.1,314.0 326.1,313.0 322.8,315.0 C319.5,317.0 318.3,320.8 315.0,322.8 C311.7,324.8 307.3,326.8 303.0,326.8 C298.7,326.8 293.2,324.8 289.3,322.8 C285.4,320.8 283.0,317.6 279.4,315.0 C275.8,312.4 271.9,310.0 267.6,307.0 C263.3,304.0 256.4,301.8 253.8,297.2 C251.2,292.6 251.4,285.6 251.8,279.4 C252.2,273.2 254.3,266.6 256.0,260.0 C257.7,253.4 260.3,246.7 262.0,240.0 C263.7,233.3 265.7,226.7 266.0,220.0 C266.3,213.3 266.7,205.3 264.0,200.0 C261.3,194.7 255.7,190.7 250.0,188.0 C244.3,185.3 234.5,187.2 230.0,184.0 C225.5,180.8 223.9,176.1 223.0,169.0 C222.1,161.9 224.0,150.6 224.5,141.4 C225.0,132.2 225.1,122.0 226.0,113.8 C226.9,105.6 228.0,94.2 230.0,92.0Z" fill="#fea245"/>
<path d="M159.0,290.0 C159.7,279.1 165.9,269.5 169.4,262.6 C172.9,255.7 175.8,250.0 179.8,248.8 C183.8,247.7 190.2,251.1 193.6,255.7 C197.0,260.3 197.1,270.7 200.5,276.4 C203.9,282.1 209.7,285.4 214.3,290.0 C218.9,294.6 224.6,298.2 228.0,304.0 C231.4,309.8 235.5,320.1 235.0,324.8 C234.5,329.5 230.8,331.1 225.0,332.0 C219.2,332.9 210.0,330.7 200.0,330.0 C190.0,329.3 171.8,334.7 165.0,328.0 C158.2,321.3 158.3,300.9 159.0,290.0Z" fill="#fea245"/>
<path d="M340.0,445.0 C341.5,434.8 345.4,441.7 349.0,439.0 C352.6,436.3 357.5,432.4 361.8,429.0 C366.1,425.6 370.3,422.5 374.6,418.7 C378.9,414.9 383.2,409.4 387.4,406.0 C391.6,402.6 395.3,400.6 400.0,398.0 C404.7,395.4 410.9,391.8 415.6,390.5 C420.4,389.2 425.1,389.2 428.5,390.5 C431.9,391.8 434.3,394.6 436.0,398.0 C437.7,401.4 437.0,407.6 438.7,411.0 C440.4,414.4 443.4,417.0 446.4,418.7 C449.4,420.4 452.8,421.1 456.7,421.3 C460.6,421.5 467.8,406.9 470.0,420.0 C472.2,433.1 491.7,486.7 470.0,500.0 C448.3,513.3 361.7,509.2 340.0,500.0 C318.3,490.8 338.5,455.2 340.0,445.0Z" fill="#fea245"/>
<path d="M382.0,120.0 C383.8,115.7 391.2,113.7 395.0,114.0 C398.8,114.3 403.3,118.0 405.0,122.0 C406.7,126.0 406.5,134.2 405.0,138.0 C403.5,141.8 399.5,144.7 396.0,145.0 C392.5,145.3 386.3,144.2 384.0,140.0 C381.7,135.8 380.2,124.3 382.0,120.0Z" fill="#fec35e"/>
<path d="M70.0,115.0 C72.8,112.3 85.3,104.7 88.0,104.0 C90.7,103.3 87.7,108.8 86.0,111.0 C84.3,113.2 80.5,115.5 78.0,117.0 C75.5,118.5 72.3,120.3 71.0,120.0 C69.7,119.7 67.2,117.7 70.0,115.0Z" fill="#fd7b37"/>
<path d="M335.6,95.0 C336.0,89.9 336.3,86.3 338.0,82.5 C339.7,78.7 343.4,71.2 346.0,72.0 C348.6,72.8 350.6,81.6 353.6,87.6 C356.6,93.6 361.9,101.2 364.0,108.0 C366.1,114.8 366.9,124.0 366.4,128.7 C365.9,133.4 363.6,134.5 361.0,136.0 C358.4,137.5 354.0,138.8 351.0,137.6 C348.0,136.4 345.6,132.8 343.0,128.7 C340.4,124.6 336.8,118.6 335.6,113.0 C334.4,107.4 335.2,100.1 335.6,95.0Z" fill="#fd7b37"/>
<path d="M245.0,122.0 C247.8,119.3 256.1,131.4 261.7,136.0 C267.2,140.6 271.9,145.6 278.3,149.7 C284.7,153.8 295.2,159.1 300.0,160.7 C304.8,162.3 302.8,160.9 307.0,159.4 C311.2,157.9 319.0,151.7 325.0,151.7 C331.0,151.7 336.5,158.1 343.0,159.4 C349.5,160.7 358.8,161.0 364.0,159.4 C369.2,157.8 368.9,150.3 374.0,150.0 C379.1,149.7 388.6,154.3 394.6,157.7 C400.6,161.1 405.8,165.4 410.0,170.5 C414.2,175.6 417.0,185.5 420.0,188.5 C423.0,191.5 426.7,197.6 428.0,188.5 C429.3,179.4 423.5,143.8 428.0,134.0 C432.5,124.2 451.3,120.7 455.0,130.0 C458.7,139.3 452.5,175.8 450.0,190.0 C447.5,204.2 442.2,208.3 440.0,215.0 C437.8,221.7 437.8,225.8 437.0,230.0 C436.2,234.2 436.2,237.5 435.0,240.0 C433.8,242.5 432.2,243.5 430.0,245.0 C427.8,246.5 425.2,247.5 421.5,249.0 C417.8,250.5 412.9,252.2 407.7,254.0 C402.4,255.8 397.0,256.8 390.0,259.5 C383.0,262.2 372.5,266.9 365.5,270.2 C358.5,273.4 352.9,276.9 347.8,279.0 C342.7,281.1 338.8,282.6 335.0,283.0 C331.2,283.4 328.1,283.3 324.8,281.4 C321.5,279.5 318.3,274.9 315.0,271.6 C311.7,268.3 308.3,265.0 305.0,261.7 C301.7,258.4 297.2,254.6 295.0,251.8 C292.8,249.0 293.3,250.0 292.0,245.0 C290.7,240.0 288.8,227.6 287.0,221.8 C285.2,216.0 282.8,214.5 281.0,210.0 C279.2,205.5 277.8,199.5 276.0,195.0 C274.2,190.5 273.8,187.1 270.0,182.8 C266.2,178.5 257.6,174.1 253.4,169.0 C249.2,163.9 246.4,160.2 245.0,152.4 C243.6,144.6 242.2,124.7 245.0,122.0Z" fill="#fd7b37"/>
<path d="M176.0,304.0 C176.6,299.9 182.6,294.5 186.7,293.7 C190.8,292.9 196.4,296.1 200.5,299.0 C204.6,301.9 209.8,307.8 211.0,311.0 C212.2,314.2 212.1,316.8 207.4,318.0 C202.7,319.2 188.2,320.3 183.0,318.0 C177.8,315.7 175.4,308.1 176.0,304.0Z" fill="#fd7b37"/>
<path d="M350.0,450.0 C352.0,441.2 357.7,449.7 361.8,447.0 C365.9,444.3 370.3,438.3 374.6,434.0 C378.9,429.7 383.2,425.1 387.4,421.3 C391.6,417.5 395.3,413.4 400.0,411.0 C404.7,408.6 410.9,406.6 415.6,407.0 C420.4,407.4 425.1,410.8 428.5,413.6 C431.9,416.4 433.4,421.2 436.0,423.8 C438.6,426.4 441.0,427.7 444.0,429.0 C447.0,430.3 449.7,430.7 454.0,431.5 C458.3,432.3 467.3,422.6 470.0,434.0 C472.7,445.4 490.0,489.0 470.0,500.0 C450.0,511.0 370.0,508.3 350.0,500.0 C330.0,491.7 348.0,458.8 350.0,450.0Z" fill="#fd7b37"/>
<path d="M297.0,196.0 C299.1,193.8 303.1,193.1 307.4,191.0 C311.7,188.9 317.9,185.5 323.0,183.3 C328.1,181.1 332.9,180.1 338.0,178.0 C343.1,175.9 348.0,172.2 353.6,170.5 C359.2,168.8 365.9,167.2 371.5,168.0 C377.1,168.8 382.3,172.2 387.0,175.6 C391.7,179.0 395.4,184.2 399.7,188.5 C404.0,192.8 407.9,197.9 412.6,201.3 C417.3,204.7 424.6,206.1 428.0,209.0 C431.4,211.9 432.3,216.2 433.0,219.0 C433.7,221.8 434.5,223.2 432.0,226.0 C429.5,228.8 422.7,232.8 418.0,236.0 C413.3,239.2 408.7,242.8 404.0,245.0 C399.3,247.2 396.4,247.7 390.0,249.0 C383.6,250.3 372.5,251.2 365.5,253.0 C358.5,254.8 352.9,257.5 347.8,259.5 C342.7,261.5 338.5,265.0 334.7,265.0 C330.9,265.0 328.4,261.9 324.8,259.7 C321.2,257.5 316.3,256.0 313.0,251.8 C309.7,247.6 307.7,240.4 305.0,234.6 C302.3,228.8 298.7,221.8 297.0,216.7 C295.3,211.6 294.6,207.4 294.6,204.0 C294.6,200.6 294.9,198.2 297.0,196.0Z" fill="#f84728"/>
<path d="M443.0,141.5 C444.5,137.0 453.8,134.1 456.0,138.0 C458.2,141.9 457.5,160.5 456.0,165.0 C454.5,169.5 449.2,168.9 447.0,165.0 C444.8,161.1 441.5,146.0 443.0,141.5Z" fill="#f84728"/>
<path d="M370.0,470.0 C371.6,462.4 375.9,459.3 379.7,454.6 C383.5,449.9 388.8,446.1 392.6,441.8 C396.5,437.5 398.6,431.8 402.8,429.0 C407.0,426.2 413.7,424.2 418.0,425.0 C422.3,425.8 425.1,430.8 428.5,434.0 C431.9,437.2 434.4,442.7 438.7,444.4 C442.9,446.1 448.8,443.1 454.0,444.4 C459.2,445.7 467.3,442.7 470.0,452.0 C472.7,461.3 486.7,492.0 470.0,500.0 C453.3,508.0 386.7,505.0 370.0,500.0 C353.3,495.0 368.4,477.6 370.0,470.0Z" fill="#f84728"/>
<path d="M330.5,216.7 C330.9,213.5 333.7,208.2 335.6,205.0 C337.5,201.8 339.0,198.9 342.0,197.4 C345.0,195.9 350.4,195.3 353.6,196.0 C356.8,196.7 359.3,199.1 361.0,201.3 C362.7,203.5 362.2,209.4 364.0,209.0 C365.8,208.6 368.5,200.6 371.5,198.7 C374.5,196.8 378.8,195.7 381.8,197.4 C384.8,199.1 387.8,205.4 389.5,209.0 C391.2,212.6 392.4,215.6 392.0,219.0 C391.6,222.4 390.0,227.3 387.0,229.5 C384.0,231.7 378.3,230.8 374.0,232.0 C369.7,233.2 365.2,235.7 361.0,237.0 C356.8,238.3 352.3,239.1 348.5,240.0 C344.7,240.9 340.4,243.2 338.0,242.3 C335.6,241.4 335.2,237.6 334.4,234.6 C333.6,231.6 333.6,227.4 333.0,224.4 C332.4,221.4 330.1,219.9 330.5,216.7Z" fill="#e31a1c"/>
<path d="M400.0,485.0 C400.7,482.0 405.8,480.2 408.0,482.0 C410.2,483.8 413.7,493.0 413.0,496.0 C412.3,499.0 406.2,501.8 404.0,500.0 C401.8,498.2 399.3,488.0 400.0,485.0Z" fill="#e31a1c"/>
<g fill="none" stroke-linejoin="round" stroke-linecap="round"><path d="M122.4,98.0 L122.4,100.5 L123.0,102.9 L124.1,105.2 L124.9,107.5 L125.0,110.0 L125.2,112.3 L125.7,114.6 L125.3,117.0 L126.4,119.2 L126.3,121.6 L126.0,123.9 L125.5,126.2 L124.7,128.4 L125.0,130.8 L125.0,133.1 L123.9,135.3 L123.8,137.7 L123.7,140.0 L123.1,142.1 L121.1,143.6 L120.0,145.5 L119.3,147.6 L118.1,149.5 L117.7,151.8 L119.8,152.5 L121.5,154.1 L123.4,155.3 L125.5,156.0 L127.6,156.7 L129.6,157.7 L130.7,160.0 L130.7,162.6 L130.9,165.1 L130.9,167.7 L131.3,170.2 L132.5,172.5 L132.1,175.0 L131.0,177.3 L131.4,180.0 L130.1,182.3 L130.0,184.8 L129.6,187.3 L130.8,189.6 L130.2,192.3 L131.2,194.6 L131.0,197.2 L131.8,199.6 L132.5,202.0 L134.0,204.0 L134.0,206.5 L134.2,208.9 L135.5,211.0 L136.4,213.4 L136.8,215.9 L136.4,218.5 L138.0,220.8 L137.9,223.4 L138.5,225.8" stroke="#aaaaaa" stroke-width="1.2"/><path d="M50.0,226.2 L52.9,227.7 L55.0,230.0 L56.9,228.3 L58.3,226.3 L59.2,223.8 L61.0,222.0 L62.5,220.0 L65.0,219.3 L67.6,219.0 L70.1,218.6 L72.5,217.5 L75.0,216.9 L77.5,216.7 L80.0,217.5 L82.4,218.6 L85.0,218.6 L87.4,219.8 L90.0,220.0 L92.4,220.5 L94.0,222.2 L95.8,223.8 L98.2,224.3 L100.0,225.8 L102.1,226.9 L104.3,227.2 L106.8,226.1 L109.0,226.5 L111.1,227.7 L113.2,228.7 L115.5,228.1 L117.7,228.7 L119.9,227.9 L122.3,227.9 L124.5,227.0 L126.9,227.0 L129.2,227.0 L131.6,226.8 L133.8,226.0 L136.1,225.7 L138.5,225.8 L140.9,226.0 L143.1,227.0 L145.5,227.4 L147.9,227.7 L149.9,229.6 L152.3,229.8 L154.5,230.6 L157.0,230.6 L159.2,231.7 L161.9,231.2 L164.2,229.9 L166.0,227.6 L168.5,226.7 L171.0,225.8 L173.3,226.7 L175.6,227.3 L177.9,228.2 L180.5,228.0 L182.8,228.7 L185.0,229.8 L187.5,230.2 L190.0,230.2 L192.2,231.2 L194.6,231.7 L196.8,232.9 L199.2,233.4 L201.7,233.4 L204.1,234.2 L206.5,234.6 L208.8,234.9 L210.6,236.2 L212.2,238.0 L214.4,238.5 L216.6,239.1 L218.3,240.6 L220.5,239.9 L222.9,239.4 L225.1,238.6 L227.2,237.6 L229.5,236.8 L231.9,236.3 L234.3,235.8 L236.7,235.6 L239.0,234.6 L241.5,234.1 L243.9,233.5 L246.4,233.1 L248.7,231.9 L251.2,231.5 L253.8,231.7 L256.1,232.6 L258.3,233.6 L260.8,233.6 L263.3,233.9 L265.6,234.6 L267.9,233.5 L270.4,233.4 L272.9,233.6 L275.2,232.7 L277.5,231.7 L279.9,231.2 L282.4,231.1 L284.5,229.5 L286.9,229.3 L289.3,228.7 L291.8,227.2 L293.3,224.9 L295.2,222.8 L297.7,222.3 L300.1,221.5 L302.6,221.5 L305.2,221.7 L307.4,219.7 L310.0,220.0 L312.0,221.1 L314.1,221.9 L316.2,222.7 L318.4,223.2 L320.6,224.0 L322.8,224.3 L325.0,225.0 L327.5,225.6 L330.0,225.9 L332.6,225.8 L334.9,227.6 L337.5,227.5 L339.3,228.8 L341.5,229.6 L343.1,231.3 L345.0,232.5" stroke="#aaaaaa" stroke-width="1.2"/><path d="M236.0,97.0 L236.2,99.5 L237.2,101.6 L239.4,103.3 L240.2,105.5 L240.0,108.1 L241.1,110.2 L242.1,112.4 L243.6,114.3 L244.0,116.7 L244.9,118.9 L246.0,121.0 L246.4,123.6 L247.5,126.0 L247.6,128.7 L248.2,131.2 L248.5,133.8 L248.8,136.4 L249.0,139.1 L249.7,141.6 L251.0,144.0 L249.8,147.0 L248.8,150.0" stroke="#aaaaaa" stroke-width="1.2"/><path d="M230.0,169.6 L229.9,172.1 L229.0,174.5 L228.8,177.0 L228.0,179.4 L227.5,181.9 L227.2,184.4 L226.6,187.1 L225.5,189.5 L223.2,191.2 L222.8,194.0 L221.3,196.2 L222.3,198.5 L221.7,201.1 L223.1,203.3 L223.1,205.8 L224.2,208.0 L223.3,210.0 L222.0,211.9 L221.8,214.2 L220.1,215.8 L218.8,217.7 L218.3,219.9 L217.4,222.0 L216.3,224.0 L215.5,226.1 L215.6,228.6 L213.7,230.2 L213.1,232.4 L212.4,234.6 L214.6,236.4 L216.9,238.1 L218.3,240.6" stroke="#aaaaaa" stroke-width="1.2"/><path d="M230.0,169.6 L232.2,169.0 L234.4,168.6 L236.7,168.8 L238.9,168.3 L241.1,167.9 L243.4,168.2 L245.7,168.9 L247.9,168.0 L250.0,169.0 L252.2,169.5 L254.6,169.3 L256.7,170.3 L259.1,170.5 L261.3,170.9 L263.5,171.3 L265.6,172.5 L267.9,172.4 L269.9,173.9 L272.2,174.1 L274.4,174.5 L276.6,174.8 L279.0,174.3 L281.2,174.8 L283.4,175.5 L285.6,175.3 L287.9,175.1 L290.1,174.9 L292.3,174.6 L294.3,173.0 L296.6,173.4 L298.8,173.1 L301.0,172.5 L303.2,172.1 L305.4,171.3 L307.7,171.4 L309.8,170.4 L312.3,171.4 L314.5,170.9 L316.7,170.0 L318.9,169.6 L321.1,168.9 L323.4,169.5 L325.6,168.6 L327.9,168.7 L330.1,168.3 L332.2,167.4 L334.4,166.8 L336.6,166.6 L338.9,166.5 L341.1,166.0 L343.2,165.3 L345.5,165.2 L347.8,165.8 L350.0,165.0 L352.7,165.1 L355.2,166.0 L357.5,167.5 L359.9,169.5 L362.5,171.2" stroke="#aaaaaa" stroke-width="1.2"/><path d="M371.5,121.0 L372.0,123.3 L372.4,125.6 L373.0,127.9 L373.4,130.2 L374.4,132.4 L374.8,134.7 L376.8,136.5 L376.7,139.0 L374.8,140.9 L372.4,142.3 L370.8,144.5 L369.0,146.6 L366.5,147.3 L365.0,149.7 L362.5,150.5 L360.5,152.1 L358.1,153.0 L356.0,154.3 L353.8,155.0 L352.0,156.7 L349.7,157.3 L347.5,158.0 L344.9,157.9 L343.0,159.4 L341.5,161.8 L340.8,164.6 L337.5,167.5" stroke="#aaaaaa" stroke-width="1.2"/><path d="M362.5,171.2 L359.8,172.1 L357.3,173.3 L355.0,175.0 L354.0,177.0 L353.3,179.2 L352.7,181.4 L350.8,182.9 L350.0,185.0 L348.8,187.5 L347.5,190.0 L349.1,191.6 L351.4,192.3 L352.9,194.1 L355.0,195.0 L357.6,195.3 L359.9,196.7 L362.4,197.2 L365.0,197.5 L364.7,200.0 L364.1,202.5 L363.8,205.0 L362.5,207.4 L362.3,210.2 L360.9,212.5 L360.0,215.0 L358.9,217.4 L359.1,220.1 L357.7,222.4 L357.5,225.0 L356.6,227.4 L355.7,229.9 L355.9,232.6 L355.0,235.0 L356.8,237.2 L357.5,240.0" stroke="#aaaaaa" stroke-width="1.2"/><path d="M345.0,232.5 L344.4,235.1 L343.9,237.7 L342.5,240.0 L341.6,242.4 L341.9,245.2 L340.6,247.5 L340.0,250.0" stroke="#aaaaaa" stroke-width="1.2"/><path d="M357.5,240.0 L359.4,238.8 L361.9,239.0 L363.5,236.9 L366.0,237.0 L367.7,235.2 L370.0,235.0 L372.4,234.1 L375.2,234.8 L377.4,233.0 L380.0,233.2 L382.5,232.5 L385.0,232.2 L387.5,231.9 L390.0,231.7 L392.5,231.0 L395.0,231.2 L397.7,231.0 L399.8,229.1 L402.4,228.6 L404.8,227.5 L407.5,227.5 L409.9,226.6 L412.5,226.4 L415.1,226.6 L417.5,225.3 L420.0,225.0 L421.7,223.4 L423.8,222.7 L426.4,222.7 L427.7,220.4 L430.0,220.0" stroke="#aaaaaa" stroke-width="1.2"/><path d="M435.0,227.5 L437.5,228.1 L440.0,228.6 L442.6,228.8 L445.0,230.0 L447.4,231.0 L450.1,230.1 L452.5,231.3 L454.9,232.3 L457.6,231.4 L460.0,232.5 L462.5,233.8 L465.0,235.0" stroke="#aaaaaa" stroke-width="1.2"/><path d="M218.3,240.6 L220.2,242.3 L222.3,243.6 L224.1,245.4 L226.4,246.5 L227.7,248.8 L230.0,250.0 L231.1,252.1 L232.8,253.7 L234.9,254.9 L236.0,257.0 L237.7,258.6 L239.3,260.2 L239.9,262.7 L242.0,264.0 L243.7,266.0 L246.6,265.9 L248.0,268.3 L250.4,269.3 L252.7,270.3 L254.9,271.4 L256.8,273.0 L259.1,273.3 L261.4,272.9 L263.7,273.3 L266.0,273.3 L268.3,272.4 L270.6,273.4 L272.9,273.8 L275.2,273.8 L277.5,273.0 L279.7,272.3 L281.4,270.7 L283.5,269.8 L285.7,269.1 L288.3,269.5 L290.0,267.7 L292.2,267.2 L294.2,266.2 L296.7,266.1 L298.4,264.4 L300.7,263.9 L302.7,262.9 L304.6,261.5 L307.0,261.3 L309.3,260.7 L311.6,260.3 L313.5,258.5 L315.8,257.9 L318.1,257.4 L320.1,256.1 L322.6,256.0 L324.8,255.3 L327.5,255.2 L329.9,254.4 L332.4,253.6 L335.1,253.5 L337.5,252.4 L340.0,250.0" stroke="#aaaaaa" stroke-width="1.2"/><path d="M242.0,205.0 L243.5,203.1 L245.3,201.5 L247.3,200.1 L248.4,197.8 L250.0,196.0 L252.4,196.4 L254.8,196.9 L257.3,196.7 L259.6,197.6 L262.0,198.0 L263.4,199.8 L264.8,201.7 L267.2,202.6 L268.6,204.5 L270.4,205.9 L271.5,208.0 L270.4,210.2 L270.0,212.6 L270.5,215.2 L268.4,217.1 L267.9,219.5 L268.0,222.0 L265.8,222.4 L263.6,223.2 L261.7,224.5 L259.6,225.4 L257.2,225.3 L255.0,226.0 L252.8,225.2 L251.0,223.7 L249.3,222.3 L247.2,221.3 L245.8,219.4 L244.0,218.0 L243.5,215.4 L243.7,212.7 L242.8,210.2 L242.6,207.6 L242.0,205.0" stroke="#aaaaaa" stroke-width="1.2"/><path d="M292.2,267.2 L290.4,268.6 L288.5,269.6 L286.6,271.0 L285.0,272.5 L285.6,275.0 L285.8,277.5 L285.2,280.0 L285.4,282.5 L285.0,285.0 L284.9,287.6 L285.5,290.1 L286.1,292.5 L286.6,295.0 L286.8,297.5 L287.5,300.0 L288.1,302.5 L287.6,305.0 L288.0,307.5 L286.9,310.0 L287.5,312.5 L287.3,315.2 L285.3,317.3 L285.0,320.0 L282.7,321.3 L279.9,321.0 L277.6,322.1 L275.0,322.5 L272.5,323.1 L269.9,322.8 L267.6,324.5 L265.1,324.9 L262.4,323.9 L260.0,325.0 L258.0,326.0 L256.3,327.6 L253.7,327.3 L251.7,328.4 L250.0,330.0 L248.8,332.1 L246.8,333.4 L245.0,335.0 L247.3,335.5 L249.1,336.7 L250.9,338.2 L253.2,338.5 L255.0,340.0 L255.5,342.2 L257.3,343.9 L258.0,346.1 L257.9,348.5 L259.3,350.4 L260.0,352.5 L259.9,354.9 L259.4,357.2 L259.4,359.6 L259.4,362.0 L259.7,364.4 L258.8,366.8 L258.9,369.0 L259.1,371.3 L259.6,373.6 L260.7,375.6 L261.7,377.7 L262.0,380.0 L262.5,382.4 L262.3,384.8 L262.6,387.2 L263.8,389.5 L263.9,391.9 L264.0,394.4 L264.1,396.8 L263.9,399.3 L264.7,401.6 L265.0,404.0" stroke="#aaaaaa" stroke-width="1.2"/><path d="M340.0,250.0 L341.4,252.0 L341.9,254.4 L343.0,256.6 L343.8,258.8 L345.8,260.5 L346.8,262.7 L347.5,265.0 L348.6,267.4 L348.9,269.9 L348.6,272.6 L350.1,274.9 L350.0,277.5 L352.0,279.0 L354.3,280.1 L356.2,281.7 L358.1,283.4 L360.0,285.0 L361.7,286.6 L363.8,287.5 L366.2,287.8 L367.9,289.4 L370.0,290.3 L371.6,292.0 L371.6,294.3 L372.2,296.5 L372.8,298.7 L373.8,300.8 L375.2,302.9 L377.0,304.6 L378.5,306.5 L380.4,308.1 L382.5,309.5 L385.2,309.1 L387.9,310.1 L390.6,309.5 L393.3,309.5 L394.8,307.5 L395.6,305.2 L396.5,302.9 L397.7,300.8 L399.8,300.2 L402.0,299.8 L404.1,299.2 L406.2,298.5 L408.5,298.7 L410.4,300.2 L412.6,301.3 L414.7,302.6 L417.0,303.3 L419.3,304.2 L421.5,305.2 L423.5,306.4 L426.1,306.4 L427.9,308.0 L430.3,308.6 L432.4,309.5 L434.8,310.1 L436.9,311.3 L438.8,312.8 L441.0,313.9 L441.8,316.4 L441.9,319.1 L442.2,321.7 L442.9,324.3 L443.2,326.9 L443.8,330.1 L443.2,333.4 L445.7,333.1 L448.1,332.4 L450.6,332.0 L453.1,331.7 L455.6,331.6 L458.0,330.8 L460.6,331.2 L460.8,328.6 L461.3,326.0 L460.4,323.4 L461.0,320.8 L460.6,318.2 L463.6,318.5 L466.3,316.7 L469.3,317.1 L471.6,317.2 L473.4,318.9 L475.6,319.6 L477.8,320.0 L480.0,320.4 L480.9,322.5 L480.9,324.7 L480.6,327.0 L480.9,329.2 L481.4,331.3 L482.3,333.4 L482.8,336.0 L481.7,338.6 L482.5,341.2 L482.0,343.8 L482.3,346.4 L484.0,347.9 L484.1,350.5 L486.0,352.0" stroke="#aaaaaa" stroke-width="1.2"/><path d="M395.5,320.4 L393.7,323.0 L391.0,324.7 L391.3,327.0 L391.9,329.1 L392.0,331.4 L393.3,333.4 L391.3,335.0 L389.2,336.4 L386.6,337.0 L384.5,338.5 L382.5,340.0 L380.5,341.4 L378.0,341.9 L376.0,343.4 L373.8,344.3 L373.4,347.0 L374.4,349.7 L374.2,352.4 L373.8,355.1 L374.7,357.6 L376.9,359.3 L378.1,361.6 L376.2,363.5 L373.5,364.5 L371.4,366.3 L369.4,368.1 L367.0,369.0 L364.4,368.8 L361.8,368.9 L359.4,370.1 L356.8,369.7 L354.3,370.3 L353.4,372.8 L351.7,374.8 L350.0,376.8 L348.7,379.0 L346.9,380.6 L344.2,381.4 L343.1,383.8 L341.3,385.4 L341.6,387.8 L343.4,389.4 L344.2,391.6 L344.8,393.8 L346.4,395.6 L348.9,396.5 L351.7,396.3 L354.1,397.7 L356.7,398.2 L355.2,400.0 L354.5,402.4 L353.3,404.4 L351.5,406.0 L349.5,407.6 L348.4,410.0 L347.3,412.3 L345.4,414.0 L343.8,416.0 L344.3,418.6 L343.3,421.2 L343.8,423.8 L344.1,426.4 L345.0,428.8 L344.2,431.5 L345.0,434.0" stroke="#aaaaaa" stroke-width="1.2"/><path d="M36.2,141.2 L38.2,142.4 L39.5,144.4 L41.0,146.0 L45.3,146.5 L46.5,148.5 L48.3,150.0 L49.5,152.2 L51.3,154.0 L51.3,157.0 L52.0,160.0 L52.2,162.6 L51.7,165.2 L52.3,167.8 L50.9,170.4 L50.2,173.3 L48.3,175.6 L46.7,177.6 L45.6,180.1 L43.4,181.6 L40.9,181.3 L38.6,181.7 L36.4,183.0 L34.0,183.4 L31.6,183.5 L28.9,183.8 L26.4,185.3 L23.7,185.5 L21.5,187.9 L18.7,189.4 L15.8,191.4" stroke="#1414f0" stroke-width="1.1"/><path d="M88.8,218.8 L90.9,217.8 L92.5,216.0 L95.3,216.3 L97.3,215.1 L98.9,213.2 L101.1,212.5 L102.7,210.6 L105.0,210.0 L106.4,208.0 L108.3,206.5 L110.6,205.5 L111.8,203.1 L114.6,202.7 L115.1,199.7 L117.5,198.8 L118.9,196.8 L120.6,195.3 L123.2,194.9 L124.5,192.8 L126.4,191.6 L128.0,189.9 L130.0,188.8 L131.8,187.5 L133.2,185.7 L134.6,183.9 L136.6,182.8 L138.1,181.2 L140.0,180.0 L142.2,178.3 L145.2,178.7 L147.6,177.5 L150.0,176.2 L151.1,174.3 L152.4,172.4 L152.5,170.0 L154.7,169.1 L157.0,168.5 L158.3,166.6 L160.0,165.0 L163.0,168.0 L163.9,165.9 L165.0,164.0 L168.0,166.0 L170.0,162.5 L172.0,166.0 L175.0,165.5 L176.4,168.3 L177.5,171.2 L178.9,173.2 L181.5,173.9 L182.5,176.2" stroke="#1414f0" stroke-width="1.1"/><path d="M182.5,176.2 L184.9,175.2 L187.5,175.4 L189.9,174.2 L192.6,174.6 L195.0,173.8 L197.5,174.2 L200.0,174.2 L202.5,174.9 L205.0,175.0 L206.9,173.2 L208.2,170.7 L210.7,169.4 L212.5,167.5 L215.0,167.3 L217.5,166.7 L220.0,166.2 L222.4,167.3 L224.9,167.5 L227.5,167.5 L228.6,164.9 L229.6,162.3 L231.2,160.0 L231.1,157.4 L232.6,155.1 L232.5,152.5 L235.0,152.4 L237.5,151.8 L240.0,151.2 L242.2,150.8 L244.4,150.6 L246.5,149.9 L248.8,150.0 L248.7,147.8 L248.1,145.6 L248.8,143.4 L248.8,141.2 L248.5,139.0 L250.4,137.5 L251.6,135.2 L253.6,133.8 L254.8,131.3 L256.8,129.4 L258.7,127.4 L256.3,125.8 L253.6,124.8 L251.0,123.5 L249.3,120.7 L247.0,118.4 L247.3,115.8 L247.6,113.2 L248.8,110.7 L248.5,108.0 L246.1,106.9 L244.0,105.4 L242.3,103.4 L240.2,101.8 L238.0,100.5" stroke="#1414f0" stroke-width="1.1"/><path d="M170.0,172.5 L168.1,173.9 L167.6,176.3 L166.0,177.9 L165.0,180.0 L163.7,181.8 L163.4,184.2 L162.6,186.3 L160.9,187.9 L160.0,190.0 L161.4,192.3 L161.8,194.9 L162.5,197.5 L160.2,198.9 L158.3,200.8 L157.3,203.6 L155.0,205.0 L153.5,206.8 L151.5,207.9 L149.1,208.3 L147.9,210.6 L145.9,211.6 L144.1,213.0 L142.2,214.2 L140.0,215.0 L138.3,216.6 L137.0,218.7 L135.1,220.1 L133.1,221.4 L131.4,223.1 L130.0,225.0 L128.2,226.4 L126.0,227.1 L124.3,228.7 L122.5,230.0 L120.8,231.6 L120.3,234.0 L118.9,235.7 L117.5,237.5 L117.4,240.0 L116.8,242.5 L117.3,245.0 L117.5,247.5 L117.5,250.0 L120.0,252.5 L121.6,254.4 L122.8,256.5 L124.1,258.5 L124.3,261.2 L125.7,263.2 L127.5,265.0 L127.7,267.7 L129.1,270.0 L130.0,272.5 L128.9,274.9 L128.6,277.6 L127.5,280.0" stroke="#1414f0" stroke-width="1.1"/><path d="M215.0,167.5 L213.8,169.9 L213.4,172.4 L213.1,174.9 L213.4,177.6 L212.5,180.0 L212.4,182.5 L211.3,184.9 L211.2,187.5 L211.5,190.1 L213.5,192.3 L214.0,194.8 L213.6,197.7 L215.0,200.0 L214.5,202.3 L212.8,203.9 L212.2,206.1 L210.8,207.9 L210.0,210.0 L207.6,210.8 L205.8,212.4 L203.8,213.9 L201.8,215.2 L199.5,216.1 L197.5,217.5 L195.5,218.6 L193.8,220.1 L191.9,221.3 L190.0,222.5 L188.7,224.3 L187.8,226.5 L186.7,228.4 L185.0,230.0 L184.4,232.5 L184.6,235.1 L183.3,237.5 L182.5,239.9 L182.5,242.5 L181.0,244.3 L180.9,246.7 L179.6,248.6 L177.9,250.2 L177.5,252.5 L175.0,255.0" stroke="#1414f0" stroke-width="1.1"/><path d="M140.0,267.5 L142.4,267.0 L144.2,265.1 L146.6,264.7 L148.9,263.9 L150.6,261.9 L153.0,261.5 L155.0,260.0 L157.4,259.1 L159.9,258.2 L162.4,257.9 L165.0,257.5 L167.6,257.3 L169.9,255.7 L172.6,255.9 L175.0,255.0 L177.1,256.3 L179.3,257.6 L181.1,259.4 L183.1,260.9 L185.0,262.5 L186.9,263.7 L188.4,265.5 L190.3,266.8 L192.5,267.5 L195.0,270.0 L194.1,272.1 L191.9,273.3 L191.1,275.5 L190.0,277.5 L188.1,279.0 L187.5,281.2" stroke="#1414f0" stroke-width="1.1"/><path d="M248.8,150.0 L250.3,151.8 L251.8,153.5 L254.5,153.9 L255.3,156.5 L257.5,157.5 L259.0,159.7 L261.8,160.7 L262.8,163.5 L265.0,165.0 L265.8,167.1 L267.9,168.5 L268.1,171.0 L270.0,172.5 L272.6,173.2 L275.0,174.3 L277.4,175.5 L280.0,176.2 L282.5,176.8 L285.0,177.1 L287.5,176.6 L290.0,177.2 L292.5,177.5 L294.7,178.6 L296.5,180.3 L298.1,182.2 L300.0,183.8 L300.9,185.9 L300.7,188.2 L300.2,190.6 L301.5,192.7 L301.2,195.0 L300.9,197.5 L301.1,200.1 L300.0,202.5 L298.4,204.2 L298.0,206.6 L296.7,208.4 L295.0,210.0 L294.4,212.5 L294.6,215.0 L294.2,217.5 L293.8,220.0 L293.8,222.5 L293.8,225.0 L293.9,227.5 L293.8,230.0 L293.0,232.3 L291.7,234.3 L290.4,236.3 L289.1,238.2 L287.5,240.0 L286.8,242.1 L284.9,243.7 L284.9,246.2 L284.0,248.3 L282.5,250.0 L281.1,251.8 L279.6,253.4 L277.3,254.1 L276.0,256.0 L273.6,256.7 L271.8,258.3 L270.0,260.0 L267.8,260.9 L266.4,262.9 L264.8,264.6 L263.1,266.1 L261.2,267.5" stroke="#1414f0" stroke-width="1.1"/><path d="M265.0,165.0 L266.1,167.0 L266.3,169.3 L266.4,171.7 L267.6,173.7 L268.6,175.7 L269.6,177.8 L270.0,180.0 L268.5,182.3 L266.2,183.8 L264.7,185.7 L264.4,188.1 L264.4,190.6 L263.1,192.7 L262.5,195.0 L260.8,196.6 L259.1,198.2 L258.5,200.6 L257.0,202.3 L255.7,204.2 L253.8,205.6 L252.5,207.5 L250.5,209.1 L249.2,211.3 L248.5,213.8 L246.7,215.6 L245.0,217.5 L244.6,219.8 L243.5,221.7 L242.0,223.5 L241.5,225.7 L240.0,227.5 L238.8,229.7 L237.3,231.7 L235.6,233.6 L233.5,235.2 L232.5,237.5 L231.0,239.3 L228.8,240.2 L227.2,241.9 L225.6,243.5 L223.8,244.9 L221.5,245.7 L220.0,247.5 L218.3,249.3 L217.2,251.5 L215.7,253.4 L214.7,255.6 L214.0,258.1 L212.5,260.0 L213.7,262.4 L214.1,265.0 L215.0,267.5 L216.8,269.5 L218.4,271.6 L220.2,273.6 L222.5,275.0" stroke="#1414f0" stroke-width="1.1"/><path d="M358.8,250.0 L360.8,248.5 L363.5,248.5 L365.7,247.6 L367.7,245.8 L370.0,245.0 L371.9,243.4 L373.9,242.1 L375.9,240.7 L378.1,239.6 L380.2,238.3 L382.5,237.5 L384.9,236.7 L386.4,234.6 L388.5,233.3 L391.2,233.1 L393.3,231.8 L395.0,230.0 L396.7,228.2 L398.8,227.3 L401.4,226.9 L402.9,224.9 L405.0,223.8 L407.5,224.6 L410.0,225.0 L412.3,227.1 L415.0,228.8 L417.6,228.0 L419.8,226.2 L422.6,226.3 L425.0,225.0 L427.2,223.5 L428.7,221.2 L430.5,219.2 L432.5,217.5" stroke="#1414f0" stroke-width="1.1"/><path d="M432.5,217.5 L433.5,219.9 L433.6,222.5 L433.9,225.0 L435.4,227.3 L435.0,230.0 L434.7,232.5 L433.3,234.9 L433.9,237.5 L433.8,240.0 L432.5,242.0 L430.7,243.6 L430.1,246.1 L429.2,248.3 L427.5,250.0 L425.1,251.1 L424.3,254.0 L421.3,254.4 L420.0,256.8 L417.5,257.5 L415.1,257.5 L413.3,259.1 L411.2,260.0 L409.6,261.8 L407.4,262.4 L405.0,262.5 L402.6,263.0 L400.5,264.2 L398.4,265.5 L396.8,267.6 L394.0,267.4 L391.6,267.9 L390.0,270.0 L387.6,269.9 L385.6,271.1 L383.6,272.3 L381.5,273.0 L379.5,274.4 L377.5,275.3 L375.0,275.0 L372.4,275.1 L370.8,277.4 L368.7,278.5 L366.4,279.3 L363.8,279.3 L361.7,280.5 L360.0,282.5 L357.7,282.6 L355.4,282.9 L353.3,284.1 L351.0,284.4 L348.7,284.6 L346.6,285.4 L344.7,287.4 L342.2,287.0 L340.0,287.5 L337.8,287.8 L335.5,288.0 L333.2,287.9 L331.1,288.7 L329.1,290.0 L326.9,290.4 L324.5,290.1 L322.5,291.2 L322.2,293.7 L323.4,295.9 L323.6,298.3 L323.4,300.7 L323.9,303.0 L323.6,305.7 L322.9,308.4 L322.2,311.1 L322.8,313.9 L323.5,316.0 L323.7,318.3 L325.1,320.2 L324.2,322.7 L325.0,324.8 L326.0,326.9 L326.1,329.1 L327.1,331.2 L328.1,333.3 L328.1,335.5 L328.4,337.7 L328.2,340.0 L325.7,340.9 L323.8,342.7 L321.7,344.3 L319.4,345.9 L318.4,348.6 L317.5,350.9 L319.1,353.0 L319.5,355.2 L318.8,357.5" stroke="#1414f0" stroke-width="1.1"/><path d="M222.5,325.0 L225.1,325.4 L226.5,323.0 L229.1,323.4 L230.6,321.0 L232.9,320.8 L235.0,320.0 L236.5,318.2 L238.8,317.6 L239.9,315.2 L242.4,314.8 L244.1,313.3 L245.5,311.4 L248.7,312.0 L250.0,310.0 L252.7,309.8 L253.6,306.6 L256.5,306.6 L258.4,305.1 L260.3,303.6 L262.5,302.5 L265.0,302.8 L267.5,303.0 L270.0,301.8 L272.5,302.1 L275.0,302.5 L277.0,301.3 L279.8,301.3 L281.7,299.8 L283.4,298.2 L285.0,296.2 L287.5,295.5 L290.3,296.2 L292.8,295.8 L295.0,293.8 L297.5,294.9 L300.0,292.8 L302.5,293.5 L305.0,292.9 L307.5,293.6 L310.0,293.8 L312.7,294.3 L315.0,292.7 L317.4,291.7 L319.8,290.8 L322.5,291.2" stroke="#1414f0" stroke-width="1.1"/><path d="M328.2,342.0 L330.0,343.7 L332.8,343.0 L334.2,345.8 L336.8,345.5 L339.0,346.4 L341.3,347.8 L343.2,350.0 L346.1,350.6 L347.7,353.0 L350.3,353.3 L352.1,355.0 L354.6,355.5 L356.4,357.3 L358.4,358.6 L360.8,358.8 L363.1,359.6 L365.3,360.2 L367.3,361.6 L369.1,363.5 L369.4,366.0 L367.3,367.8 L365.3,369.6 L364.9,372.7 L363.0,374.6 L361.6,376.6 L362.4,379.1 L360.6,380.9 L360.8,383.3 L362.3,385.2 L362.3,387.7 L363.6,389.6 L363.2,392.2 L365.0,394.0 L367.2,395.5 L370.2,394.6 L372.7,395.5 L374.8,397.3 L377.2,398.2 L379.5,399.4 L381.1,401.1 L381.4,404.2 L383.1,405.9 L386.7,405.8 L387.4,408.5" stroke="#1414f0" stroke-width="1.1"/><path d="M420.0,256.8 L420.2,259.3 L419.9,261.9 L420.2,264.4 L420.2,266.9 L419.9,269.5 L421.0,272.0 L420.2,274.2 L421.4,276.6 L421.1,278.8 L420.3,281.0 L420.3,283.3 L418.7,285.4 L419.1,287.7 L419.4,290.0 L418.4,292.2 L417.5,294.5 L416.7,296.8 L415.0,298.7 L414.2,300.8 L412.9,302.8 L414.1,305.4 L412.8,307.4 L411.3,309.1 L409.8,310.9 L407.7,312.1 L406.3,313.9 L404.4,315.7 L402.5,317.4 L399.6,317.4 L397.9,319.5 L395.5,320.4 L395.1,323.6 L395.5,326.9 L397.1,329.1 L399.7,329.9 L402.0,331.2 L403.1,333.7 L405.1,335.3 L408.1,335.9 L409.6,338.0 L410.7,340.5 L412.8,342.0 L414.6,343.7 L417.1,344.7 L417.5,347.8 L419.5,349.3 L421.5,350.8 L423.7,351.7 L425.8,353.0 L428.4,353.3 L430.2,355.1 L431.5,357.3 L433.8,359.0 L434.5,361.6 L436.7,361.6 L439.0,361.9 L440.9,359.8 L443.1,359.6 L445.4,359.9 L447.6,359.4 L450.1,359.5 L451.7,357.2 L454.0,357.0 L456.3,356.8 L458.2,355.1 L460.6,355.1 L462.4,353.4 L465.1,354.2 L467.2,353.2 L469.3,352.4 L471.5,351.6 L473.6,350.8 L475.2,348.5 L477.8,347.8 L480.0,346.4" stroke="#1414f0" stroke-width="1.1"/><path d="M434.5,361.6 L433.4,364.1 L430.2,364.0 L428.6,365.8 L427.9,368.8 L425.1,369.3 L423.8,371.5 L421.5,372.5 L418.9,372.7 L416.7,373.8 L415.2,376.2 L412.8,376.8 L412.0,378.9 L411.8,381.2 L411.8,383.5 L410.7,385.5 L410.4,388.0 L410.1,390.5 L409.5,393.0 L407.8,395.3 L408.5,398.0 L406.6,399.7 L406.6,402.7 L404.5,404.2 L402.8,406.0" stroke="#1414f0" stroke-width="1.1"/><path d="M325.9,408.5 L328.3,409.1 L330.4,410.0 L330.8,413.1 L333.0,414.0 L335.6,414.3 L336.9,416.8 L339.9,416.4 L341.3,418.7 L342.0,421.6 L344.5,422.2 L347.2,422.5 L349.6,423.3 L349.6,427.1 L351.2,428.7 L354.0,429.0 L356.3,428.8 L358.6,428.4 L360.2,432.0 L362.4,432.1 L364.9,430.9 L367.0,431.5 L370.0,430.9 L371.8,434.1 L374.6,434.0 L374.0,436.9 L377.3,437.8 L378.1,440.0 L377.4,442.9 L379.7,444.4 L381.1,446.5 L382.7,448.3 L385.2,448.6 L387.4,449.5 L389.6,447.3 L392.6,447.0 L393.6,449.7 L395.8,450.5 L397.6,451.9 L400.3,452.0 L402.4,451.1 L404.6,450.6 L407.2,452.8 L409.4,452.3 L411.1,448.9 L413.4,448.5 L415.6,448.4 L418.0,449.5 L419.3,451.4 L422.1,451.6 L424.0,452.8 L424.9,455.2 L425.6,458.0 L428.4,458.0 L431.1,458.2 L432.7,459.8 L433.6,462.3 L435.6,460.9 L437.9,460.3 L440.1,459.1 L442.2,458.0 L444.8,458.2 L446.9,457.1 L449.1,456.3 L451.3,455.2 L454.0,456.0 L456.5,456.3 L459.0,456.0" stroke="#1414f0" stroke-width="1.1"/></g>
</g>
<path d="M10.5,153.8 L12.3,152.6 L14.1,151.4 L16.2,151.0 L17.8,149.4 L19.9,148.9 L21.7,147.7 L23.5,146.5 L25.6,145.9 L27.2,144.5 L29.3,143.9 L31.0,142.5 L32.9,141.6 L35.0,141.0 L36.7,139.9 L38.6,139.2 L39.9,137.4 L41.6,136.5 L43.6,135.8 L45.4,135.0 L46.9,133.6 L48.5,132.3 L50.5,131.8 L51.7,129.9 L53.9,129.5 L55.2,127.9 L56.8,126.7 L58.5,125.6 L60.3,124.8 L62.3,124.2 L63.7,122.5 L65.6,121.8 L67.3,120.8 L68.9,119.5 L70.7,118.5 L72.1,117.0 L73.8,115.9 L75.5,115.0 L77.5,114.4 L79.1,113.1 L80.7,111.9 L82.5,111.0 L84.5,110.2 L86.3,109.2 L88.2,108.2 L90.3,107.9 L92.2,106.9 L94.0,105.6 L96.0,105.0 L96.4,103.0 L96.7,101.0 L97.0,99.0 L99.1,98.9 L101.0,98.0 L102.5,101.0 L104.6,100.8 L106.6,99.9 L108.8,100.2 L110.6,98.8 L112.8,98.7 L114.9,98.6 L116.8,97.5 L118.9,97.4 L121.0,97.0 L123.0,100.0 L123.4,102.3 L122.6,104.5 L122.3,106.7 L122.5,109.0 L122.2,111.5 L122.0,114.0 L122.6,116.2 L124.2,117.9 L125.0,120.0 L127.4,121.4 L130.0,122.5 L132.3,122.5 L134.5,122.3 L136.7,122.1 L139.0,122.0 L140.1,120.1 L141.0,118.2 L141.2,116.0 L142.0,114.0 L144.0,113.8 L145.9,112.8 L148.0,113.1 L150.0,112.5 L152.5,111.0 L154.3,112.0 L156.0,113.2 L158.0,113.9 L160.0,114.5 L162.1,115.1 L164.0,116.1 L166.0,117.0 L168.3,117.8 L170.7,117.7 L172.9,118.8 L175.3,119.0 L177.5,120.0 L178.2,122.1 L178.6,124.3 L178.1,126.6 L179.1,128.7 L179.0,131.0 L181.2,130.5 L183.4,130.5 L185.6,130.8 L187.8,129.7 L190.0,130.0 L190.6,132.0 L191.0,134.0 L192.4,132.4 L194.0,130.9 L195.0,129.0 L197.1,128.7 L199.1,128.2 L200.9,127.0 L203.0,126.5 L205.0,126.0 L206.9,124.9 L209.0,124.0 L211.5,124.4 L214.0,124.0 L216.1,123.4 L217.5,121.5 L219.3,120.4 L221.2,119.4 L223.0,118.3 L225.0,117.5 L226.4,115.8 L227.9,114.2 L229.0,112.3 L230.1,110.5 L231.9,109.1 L233.2,107.4 L234.8,105.9 L236.5,104.5 L237.5,102.5 L237.1,100.4 L236.3,98.4 L235.7,96.3 L238.0,96.3 L240.3,96.2 L242.6,95.4 L244.9,96.2 L247.2,95.9 L249.5,95.5 L252.2,95.9 L252.6,99.1 L254.6,99.7 L256.6,99.5 L258.1,100.7 L261.3,99.9 L264.8,98.3 L264.4,95.9 L263.1,93.7 L261.3,92.0 L260.0,90.1 L258.9,88.0 L258.5,85.7 L259.7,82.5 L257.7,80.9 L258.9,79.4 L260.7,78.5 L262.4,77.4 L264.4,77.0 L266.3,76.3 L267.9,75.0 L270.0,74.6 L273.9,73.8 L276.6,73.1 L279.4,73.4 L280.6,75.4 L279.9,77.9 L278.6,80.1 L279.0,82.9 L278.6,85.7 L280.9,84.7 L283.4,84.1 L285.8,84.0 L288.1,84.9 L290.7,85.2 L292.9,86.5 L294.7,85.3 L296.8,84.9 L296.4,81.7 L297.9,79.5 L300.0,77.8 L301.2,76.1 L302.2,74.3 L303.9,73.0 L306.0,71.3 L307.4,69.1 L310.5,68.3 L312.5,69.0 L314.5,69.5 L316.3,70.6 L317.6,72.3 L319.6,74.6 L320.1,76.6 L320.0,78.6 L318.4,81.0 L317.6,84.1 L314.5,84.1 L312.5,84.1 L310.5,83.7 L309.7,86.5 L311.3,88.8 L314.0,87.9 L316.8,87.2 L319.0,87.1 L321.0,88.1 L323.1,88.0 L325.2,88.1 L327.1,87.2 L329.4,90.4 L330.2,92.0 L332.6,89.6 L334.1,87.7 L335.7,85.9 L337.3,84.1 L339.0,82.1 L341.3,80.9 L341.3,78.1 L342.1,75.4 L343.5,73.7 L345.2,72.3 L347.6,75.4 L351.5,75.8 L353.1,79.4 L354.1,81.7 L354.7,84.1 L353.2,86.3 L352.3,88.8 L351.8,90.9 L350.7,92.8 L352.7,94.0 L353.9,95.9 L354.8,98.0 L356.5,99.6 L357.9,101.4 L359.0,104.0 L360.0,107.5 L362.6,107.9 L365.0,109.0 L367.5,109.0 L370.0,109.0 L371.0,110.9 L371.0,113.0 L371.0,115.1 L371.6,117.1 L372.5,119.0 L375.0,119.5 L377.5,119.4 L380.0,120.0 L382.5,119.0 L384.9,118.0 L387.5,117.5 L389.9,119.0 L392.5,120.0 L395.0,119.5 L397.5,119.0 L399.6,117.6 L401.1,115.6 L402.9,113.9 L405.0,112.5 L407.5,113.1 L410.0,113.0 L410.8,115.3 L412.2,117.2 L413.5,119.2 L415.0,121.0 L415.2,123.6 L416.0,126.0 L417.7,127.2 L419.7,127.7 L421.4,129.0 L423.3,129.9 L425.0,131.0 L427.3,132.1 L429.2,133.7 L430.8,135.6 L433.1,135.5 L435.4,135.5 L437.7,136.1 L440.0,136.0 L441.8,137.2 L444.0,137.4 L446.0,138.2 L447.6,139.6 L449.3,140.7 L451.2,141.7 L453.3,142.2 L455.0,143.3 L454.4,145.4 L453.4,147.3 L452.5,149.2 L451.3,151.0 L451.0,153.6 L450.0,156.0 L449.2,158.6 L448.7,161.3 L447.2,163.5 L446.5,166.0 L445.3,168.6 L444.9,171.5 L444.4,173.6 L443.7,175.6 L443.0,177.6 L443.3,179.9 L442.3,181.8 L440.8,184.3 L439.7,187.0 L438.3,188.5 L437.3,190.2 L436.3,192.0 L435.5,193.8 L434.7,195.7 L433.3,197.2 L432.0,199.1 L431.4,201.4 L429.9,203.2 L428.8,205.1 L428.2,207.4 L429.1,209.4 L429.8,211.5 L430.0,213.8 L431.0,215.7 L432.0,217.7 L433.0,219.5 L433.7,221.4 L434.3,223.4 L434.6,225.4 L437.3,226.1 L440.0,226.0 L442.1,225.7 L443.9,224.3 L446.0,224.0 L448.1,225.0 L450.2,225.8 L452.5,226.0 L455.0,225.8 L457.5,225.2 L460.0,225.0 L462.5,225.4 L465.1,225.3 L467.5,226.0 L470.1,226.0 L472.4,227.5 L475.0,227.5 L477.4,228.9 L480.0,230.0 L482.0,232.0 L484.0,234.0 L486.0,234.5 L488.0,233.9 L490.0,234.0 L491.4,236.3 L493.1,238.2 L495.0,240.0 L496.3,241.9 L497.2,243.9 L498.2,245.9 L499.3,247.9 L500.0,250.0 L502.5,251.3 L505.0,252.5 L507.1,252.7 L509.0,253.4 L511.0,254.0 L514.0,256.0 L513.0,258.4 L510.9,260.1 L510.0,262.5 L507.5,263.4 L505.0,264.0 L504.2,266.0 L503.2,268.0 L502.5,270.0 L502.9,272.6 L504.2,275.0 L505.0,277.5 L507.5,280.0 L509.9,281.3 L512.5,281.7 L515.0,282.5 L517.0,282.5 L519.0,282.5 L521.0,281.9 L523.0,282.4 L524.3,284.0 L525.7,285.5 L527.0,287.1 L527.5,289.2 L529.0,290.7 L529.6,292.7 L529.5,294.8 L529.5,297.0 L530.0,299.0 L529.2,301.3 L528.7,303.7 L527.8,306.0 L529.0,307.8 L530.1,309.6 L531.1,311.5 L533.0,312.9 L533.7,315.0 L535.0,316.7 L533.1,318.0 L531.1,319.1 L529.0,320.0 L527.0,319.4 L525.0,319.3 L523.0,319.0 L521.4,320.6 L519.7,322.0 L518.3,323.8 L517.4,325.7 L517.5,327.7 L517.0,329.7 L515.0,330.4 L513.1,331.2 L511.2,332.0 L509.2,333.6 L507.1,335.0 L505.3,336.8 L504.6,338.8 L503.7,340.7 L503.0,342.7 L503.5,345.6 L504.0,348.6 L501.5,349.4 L499.4,351.0 L499.6,353.4 L499.8,355.7 L500.6,358.0 L498.1,358.2 L495.9,359.3 L496.0,357.3 L496.7,355.4 L497.0,353.4 L494.8,353.7 L492.9,354.6 L491.0,355.7 L488.5,354.3 L486.4,352.2 L483.8,350.7 L481.7,348.6 L479.4,349.9 L477.0,351.0 L476.2,353.5 L474.9,355.8 L473.4,358.0 L471.7,360.0 L469.3,361.1 L467.5,362.8 L466.3,364.5 L465.4,366.2 L465.2,368.4 L464.0,370.0 L463.1,372.0 L462.6,374.0 L462.5,376.3 L461.5,378.2 L459.6,379.9 L458.0,381.7 L456.8,384.0 L457.1,386.3 L456.3,388.7 L456.8,391.0 L455.2,392.7 L453.4,394.3 L451.3,395.5 L450.0,397.5 L449.3,400.0 L449.7,402.5 L449.0,405.0 L447.7,407.0 L446.3,409.0 L445.0,411.0 L447.1,412.9 L449.0,415.0 L446.0,417.5 L446.1,419.7 L445.7,421.8 L445.0,423.8 L445.0,426.0 L446.7,427.3 L447.5,429.3 L448.8,430.8 L450.0,432.5 L451.7,434.1 L452.7,436.1 L453.6,438.2 L455.0,440.0 L456.2,441.9 L457.9,443.5 L458.3,445.9 L460.0,447.5 L461.1,449.4 L462.3,451.2 L464.0,452.5 L465.4,454.8 L466.0,457.5 L467.0,459.9 L467.5,462.5 L467.0,464.7 L465.2,466.4 L464.7,468.6 L463.9,470.7 L462.5,472.5 L463.3,475.0 L464.0,477.5 L462.3,478.9 L461.1,480.6 L460.0,482.5 L458.1,483.3 L456.1,483.9 L453.9,483.6 L452.0,484.4 L450.0,485.0 L447.9,485.3 L446.1,486.4 L444.1,487.0 L441.9,486.8 L440.0,487.5 L438.0,488.1 L436.1,489.0 L433.9,488.5 L432.0,489.4 L430.0,490.0 L428.5,492.4 L427.5,495.0 L424.9,494.6 L422.6,493.0 L420.0,492.5 L417.7,494.2 L415.0,495.0 L412.4,495.1 L410.0,496.0 L408.0,496.1 L406.0,496.0 L405.6,493.8 L405.7,491.6 L405.9,489.4 L404.9,487.2 L405.0,485.0 L403.0,483.6 L401.7,481.6 L400.0,480.0 L398.3,478.7 L396.7,477.3 L395.2,475.8 L393.7,474.3 L392.5,472.5 L390.3,472.8 L388.2,472.7 L386.0,472.5 L385.6,470.5 L385.9,468.5 L385.2,466.5 L385.2,464.5 L385.0,462.5 L383.2,460.8 L381.9,458.9 L380.1,457.2 L379.0,455.0 L376.8,455.3 L374.5,455.5 L372.2,454.7 L370.0,455.0 L367.5,454.1 L364.9,453.7 L362.5,452.5 L360.8,450.9 L359.5,448.8 L357.5,447.5 L356.3,445.5 L356.2,443.0 L355.0,441.0 L353.1,440.2 L351.2,439.3 L349.5,438.0 L347.5,437.5 L345.6,436.3 L343.8,435.0 L342.0,433.6 L340.0,432.5 L337.4,432.5 L335.0,433.7 L332.5,434.0 L330.3,433.9 L328.2,434.3 L326.1,434.6 L324.0,435.0 L323.2,432.8 L322.3,430.6 L321.3,428.4 L321.0,426.0 L321.0,422.5 L322.2,419.8 L324.0,417.5 L324.6,414.8 L326.0,412.5 L325.1,410.7 L323.4,409.3 L322.5,407.5 L321.0,406.0 L319.8,404.4 L319.0,402.5 L317.6,400.6 L316.0,398.9 L314.0,397.5 L314.4,395.5 L314.2,393.5 L314.3,391.5 L314.6,389.5 L315.0,387.5 L317.0,385.7 L319.0,384.0 L318.9,381.7 L319.4,379.5 L319.5,377.2 L320.0,375.0 L321.4,373.4 L322.5,371.5 L323.0,369.4 L324.0,367.5 L324.7,364.9 L326.0,362.5 L325.4,360.5 L324.0,359.0 L321.8,358.7 L319.6,358.2 L317.5,357.5 L315.0,360.0 L313.4,361.5 L311.3,362.1 L309.4,363.0 L307.5,364.0 L306.2,366.1 L305.3,368.4 L303.7,370.4 L302.5,372.5 L301.8,374.5 L300.4,376.0 L299.0,377.5 L299.6,379.7 L299.4,382.0 L300.0,384.2 L300.2,386.5 L300.0,388.7 L300.0,391.0 L297.6,391.8 L295.0,391.9 L292.5,392.5 L290.0,393.0 L287.4,393.2 L285.0,394.0 L282.9,395.1 L280.9,396.2 L278.8,397.2 L277.1,398.9 L275.0,400.0 L272.8,401.2 L270.3,401.5 L268.4,403.4 L266.0,404.0 L264.0,403.0 L261.8,402.4 L259.5,402.2 L257.5,401.0 L255.5,400.1 L253.3,399.6 L251.2,399.4 L249.0,399.0 L246.8,398.4 L244.6,397.9 L242.2,398.3 L240.0,397.5 L237.7,398.1 L235.5,398.7 L233.2,399.0 L231.0,400.0 L229.2,398.1 L227.2,396.4 L225.0,395.0 L224.8,393.0 L224.8,390.9 L224.0,389.0 L224.5,386.9 L224.9,384.7 L225.0,382.5 L227.4,381.0 L230.0,380.0 L231.3,378.0 L233.0,376.4 L235.0,375.0 L234.0,372.5 L232.9,370.1 L232.5,367.5 L231.6,364.8 L230.0,362.5 L228.0,361.6 L226.1,360.7 L224.0,360.0 L224.5,358.0 L225.0,356.0 L225.2,354.0 L225.1,351.9 L226.0,350.0 L226.8,348.1 L227.3,346.1 L227.5,344.0 L229.3,342.0 L231.0,340.0 L233.5,338.8 L236.0,337.5 L235.0,335.3 L233.2,333.4 L232.5,331.0 L230.0,330.7 L227.5,331.0 L226.0,333.2 L224.0,335.0 L225.0,332.5 L223.6,330.8 L222.8,328.9 L222.2,326.8 L221.0,325.0 L218.8,323.6 L217.2,321.5 L215.0,320.0 L213.4,318.3 L211.2,317.5 L209.3,316.4 L207.5,315.0 L205.0,315.4 L202.5,315.5 L200.0,316.0 L197.6,316.7 L195.4,317.9 L193.2,318.9 L191.0,320.0 L187.5,319.0 L185.4,318.8 L183.4,318.2 L181.4,317.5 L179.6,316.3 L177.5,316.0 L175.0,316.2 L172.5,315.9 L170.0,316.0 L169.5,318.1 L168.4,319.8 L167.2,321.5 L165.8,323.1 L165.0,325.0 L163.8,323.2 L162.5,321.5 L161.0,320.0 L160.4,318.0 L160.2,316.0 L159.8,314.0 L159.4,312.0 L159.0,310.0 L158.8,308.0 L159.8,306.0 L159.3,304.0 L160.3,302.1 L160.0,300.0 L160.0,297.4 L159.0,295.0 L157.3,293.7 L156.3,291.7 L155.0,290.0 L153.6,288.1 L152.0,286.3 L150.0,285.0 L147.5,284.2 L144.9,283.6 L142.5,282.5 L140.0,282.8 L137.5,282.5 L136.0,279.0 L134.0,277.5 L131.8,277.8 L130.0,279.0 L127.6,279.8 L125.0,280.0 L122.5,281.2 L120.0,282.5 L117.3,281.6 L115.0,280.0 L113.4,278.3 L112.0,276.3 L110.0,275.0 L109.1,273.1 L109.3,270.9 L108.5,269.0 L108.4,266.9 L107.5,265.0 L107.2,262.9 L106.2,261.1 L106.4,258.9 L105.5,257.0 L105.0,255.0 L103.3,252.7 L102.5,250.0 L102.7,247.3 L104.0,245.0 L103.6,242.8 L103.2,240.5 L102.7,238.3 L102.5,236.0 L100.1,235.2 L98.1,233.8 L96.0,232.5 L94.9,230.7 L94.6,228.6 L92.9,227.1 L92.5,225.0 L91.6,223.2 L90.5,221.5 L89.0,220.0 L87.0,220.4 L85.0,220.0 L82.3,220.8 L80.0,222.5 L77.5,222.8 L74.9,223.1 L72.5,224.0 L70.7,225.1 L68.8,225.9 L66.9,226.7 L65.0,227.5 L62.7,228.3 L61.0,230.0 L60.6,232.0 L60.5,234.0 L60.0,236.0 L58.8,238.0 L57.5,240.0 L55.6,238.2 L54.0,236.0 L51.4,234.8 L49.4,232.7 L47.2,231.6 L45.7,229.5 L43.4,228.5 L41.6,226.8 L40.6,224.9 L38.7,223.8 L37.5,222.0 L36.0,220.5 L35.0,218.7 L33.7,217.0 L31.4,216.3 L29.3,215.1 L27.4,213.5 L25.0,213.0 L21.8,211.0 L20.9,208.8 L19.5,206.8 L17.9,205.0 L17.7,202.7 L17.6,200.4 L17.3,198.2 L16.5,196.0 L16.3,193.6 L15.9,191.3 L17.1,189.4 L17.5,187.1 L18.9,185.4 L18.6,183.4 L17.8,181.5 L17.7,179.4 L17.1,177.5 L16.2,175.6 L15.4,173.7 L15.9,171.5 L14.9,169.6 L14.0,167.7 L13.8,165.6 L13.1,163.7 L12.5,161.7 L12.4,159.6 L12.1,157.6 L10.8,155.8Z" fill="none" stroke="#222" stroke-width="2" stroke-linejoin="round"/>
<path d="M329,84.5 L329.5,80.5 L332.5,77.8 L335.5,78.3 L335,82 L332,85.5Z" fill="#222" stroke="#222" stroke-width="0.8" stroke-linejoin="round"/>
</g>
<g transform="translate(640,0)">
<g clip-path="url(#bel)">
<path d="M10.5,153.8 L12.3,152.6 L14.1,151.4 L16.2,151.0 L17.8,149.4 L19.9,148.9 L21.7,147.7 L23.5,146.5 L25.6,145.9 L27.2,144.5 L29.3,143.9 L31.0,142.5 L32.9,141.6 L35.0,141.0 L36.7,139.9 L38.6,139.2 L39.9,137.4 L41.6,136.5 L43.6,135.8 L45.4,135.0 L46.9,133.6 L48.5,132.3 L50.5,131.8 L51.7,129.9 L53.9,129.5 L55.2,127.9 L56.8,126.7 L58.5,125.6 L60.3,124.8 L62.3,124.2 L63.7,122.5 L65.6,121.8 L67.3,120.8 L68.9,119.5 L70.7,118.5 L72.1,117.0 L73.8,115.9 L75.5,115.0 L77.5,114.4 L79.1,113.1 L80.7,111.9 L82.5,111.0 L84.5,110.2 L86.3,109.2 L88.2,108.2 L90.3,107.9 L92.2,106.9 L94.0,105.6 L96.0,105.0 L96.4,103.0 L96.7,101.0 L97.0,99.0 L99.1,98.9 L101.0,98.0 L102.5,101.0 L104.6,100.8 L106.6,99.9 L108.8,100.2 L110.6,98.8 L112.8,98.7 L114.9,98.6 L116.8,97.5 L118.9,97.4 L121.0,97.0 L123.0,100.0 L123.4,102.3 L122.6,104.5 L122.3,106.7 L122.5,109.0 L122.2,111.5 L122.0,114.0 L122.6,116.2 L124.2,117.9 L125.0,120.0 L127.4,121.4 L130.0,122.5 L132.3,122.5 L134.5,122.3 L136.7,122.1 L139.0,122.0 L140.1,120.1 L141.0,118.2 L141.2,116.0 L142.0,114.0 L144.0,113.8 L145.9,112.8 L148.0,113.1 L150.0,112.5 L152.5,111.0 L154.3,112.0 L156.0,113.2 L158.0,113.9 L160.0,114.5 L162.1,115.1 L164.0,116.1 L166.0,117.0 L168.3,117.8 L170.7,117.7 L172.9,118.8 L175.3,119.0 L177.5,120.0 L178.2,122.1 L178.6,124.3 L178.1,126.6 L179.1,128.7 L179.0,131.0 L181.2,130.5 L183.4,130.5 L185.6,130.8 L187.8,129.7 L190.0,130.0 L190.6,132.0 L191.0,134.0 L192.4,132.4 L194.0,130.9 L195.0,129.0 L197.1,128.7 L199.1,128.2 L200.9,127.0 L203.0,126.5 L205.0,126.0 L206.9,124.9 L209.0,124.0 L211.5,124.4 L214.0,124.0 L216.1,123.4 L217.5,121.5 L219.3,120.4 L221.2,119.4 L223.0,118.3 L225.0,117.5 L226.4,115.8 L227.9,114.2 L229.0,112.3 L230.1,110.5 L231.9,109.1 L233.2,107.4 L234.8,105.9 L236.5,104.5 L237.5,102.5 L237.1,100.4 L236.3,98.4 L235.7,96.3 L238.0,96.3 L240.3,96.2 L242.6,95.4 L244.9,96.2 L247.2,95.9 L249.5,95.5 L252.2,95.9 L252.6,99.1 L254.6,99.7 L256.6,99.5 L258.1,100.7 L261.3,99.9 L264.8,98.3 L264.4,95.9 L263.1,93.7 L261.3,92.0 L260.0,90.1 L258.9,88.0 L258.5,85.7 L259.7,82.5 L257.7,80.9 L258.9,79.4 L260.7,78.5 L262.4,77.4 L264.4,77.0 L266.3,76.3 L267.9,75.0 L270.0,74.6 L273.9,73.8 L276.6,73.1 L279.4,73.4 L280.6,75.4 L279.9,77.9 L278.6,80.1 L279.0,82.9 L278.6,85.7 L280.9,84.7 L283.4,84.1 L285.8,84.0 L288.1,84.9 L290.7,85.2 L292.9,86.5 L294.7,85.3 L296.8,84.9 L296.4,81.7 L297.9,79.5 L300.0,77.8 L301.2,76.1 L302.2,74.3 L303.9,73.0 L306.0,71.3 L307.4,69.1 L310.5,68.3 L312.5,69.0 L314.5,69.5 L316.3,70.6 L317.6,72.3 L319.6,74.6 L320.1,76.6 L320.0,78.6 L318.4,81.0 L317.6,84.1 L314.5,84.1 L312.5,84.1 L310.5,83.7 L309.7,86.5 L311.3,88.8 L314.0,87.9 L316.8,87.2 L319.0,87.1 L321.0,88.1 L323.1,88.0 L325.2,88.1 L327.1,87.2 L329.4,90.4 L330.2,92.0 L332.6,89.6 L334.1,87.7 L335.7,85.9 L337.3,84.1 L339.0,82.1 L341.3,80.9 L341.3,78.1 L342.1,75.4 L343.5,73.7 L345.2,72.3 L347.6,75.4 L351.5,75.8 L353.1,79.4 L354.1,81.7 L354.7,84.1 L353.2,86.3 L352.3,88.8 L351.8,90.9 L350.7,92.8 L352.7,94.0 L353.9,95.9 L354.8,98.0 L356.5,99.6 L357.9,101.4 L359.0,104.0 L360.0,107.5 L362.6,107.9 L365.0,109.0 L367.5,109.0 L370.0,109.0 L371.0,110.9 L371.0,113.0 L371.0,115.1 L371.6,117.1 L372.5,119.0 L375.0,119.5 L377.5,119.4 L380.0,120.0 L382.5,119.0 L384.9,118.0 L387.5,117.5 L389.9,119.0 L392.5,120.0 L395.0,119.5 L397.5,119.0 L399.6,117.6 L401.1,115.6 L402.9,113.9 L405.0,112.5 L407.5,113.1 L410.0,113.0 L410.8,115.3 L412.2,117.2 L413.5,119.2 L415.0,121.0 L415.2,123.6 L416.0,126.0 L417.7,127.2 L419.7,127.7 L421.4,129.0 L423.3,129.9 L425.0,131.0 L427.3,132.1 L429.2,133.7 L430.8,135.6 L433.1,135.5 L435.4,135.5 L437.7,136.1 L440.0,136.0 L441.8,137.2 L444.0,137.4 L446.0,138.2 L447.6,139.6 L449.3,140.7 L451.2,141.7 L453.3,142.2 L455.0,143.3 L454.4,145.4 L453.4,147.3 L452.5,149.2 L451.3,151.0 L451.0,153.6 L450.0,156.0 L449.2,158.6 L448.7,161.3 L447.2,163.5 L446.5,166.0 L445.3,168.6 L444.9,171.5 L444.4,173.6 L443.7,175.6 L443.0,177.6 L443.3,179.9 L442.3,181.8 L440.8,184.3 L439.7,187.0 L438.3,188.5 L437.3,190.2 L436.3,192.0 L435.5,193.8 L434.7,195.7 L433.3,197.2 L432.0,199.1 L431.4,201.4 L429.9,203.2 L428.8,205.1 L428.2,207.4 L429.1,209.4 L429.8,211.5 L430.0,213.8 L431.0,215.7 L432.0,217.7 L433.0,219.5 L433.7,221.4 L434.3,223.4 L434.6,225.4 L437.3,226.1 L440.0,226.0 L442.1,225.7 L443.9,224.3 L446.0,224.0 L448.1,225.0 L450.2,225.8 L452.5,226.0 L455.0,225.8 L457.5,225.2 L460.0,225.0 L462.5,225.4 L465.1,225.3 L467.5,226.0 L470.1,226.0 L472.4,227.5 L475.0,227.5 L477.4,228.9 L480.0,230.0 L482.0,232.0 L484.0,234.0 L486.0,234.5 L488.0,233.9 L490.0,234.0 L491.4,236.3 L493.1,238.2 L495.0,240.0 L496.3,241.9 L497.2,243.9 L498.2,245.9 L499.3,247.9 L500.0,250.0 L502.5,251.3 L505.0,252.5 L507.1,252.7 L509.0,253.4 L511.0,254.0 L514.0,256.0 L513.0,258.4 L510.9,260.1 L510.0,262.5 L507.5,263.4 L505.0,264.0 L504.2,266.0 L503.2,268.0 L502.5,270.0 L502.9,272.6 L504.2,275.0 L505.0,277.5 L507.5,280.0 L509.9,281.3 L512.5,281.7 L515.0,282.5 L517.0,282.5 L519.0,282.5 L521.0,281.9 L523.0,282.4 L524.3,284.0 L525.7,285.5 L527.0,287.1 L527.5,289.2 L529.0,290.7 L529.6,292.7 L529.5,294.8 L529.5,297.0 L530.0,299.0 L529.2,301.3 L528.7,303.7 L527.8,306.0 L529.0,307.8 L530.1,309.6 L531.1,311.5 L533.0,312.9 L533.7,315.0 L535.0,316.7 L533.1,318.0 L531.1,319.1 L529.0,320.0 L527.0,319.4 L525.0,319.3 L523.0,319.0 L521.4,320.6 L519.7,322.0 L518.3,323.8 L517.4,325.7 L517.5,327.7 L517.0,329.7 L515.0,330.4 L513.1,331.2 L511.2,332.0 L509.2,333.6 L507.1,335.0 L505.3,336.8 L504.6,338.8 L503.7,340.7 L503.0,342.7 L503.5,345.6 L504.0,348.6 L501.5,349.4 L499.4,351.0 L499.6,353.4 L499.8,355.7 L500.6,358.0 L498.1,358.2 L495.9,359.3 L496.0,357.3 L496.7,355.4 L497.0,353.4 L494.8,353.7 L492.9,354.6 L491.0,355.7 L488.5,354.3 L486.4,352.2 L483.8,350.7 L481.7,348.6 L479.4,349.9 L477.0,351.0 L476.2,353.5 L474.9,355.8 L473.4,358.0 L471.7,360.0 L469.3,361.1 L467.5,362.8 L466.3,364.5 L465.4,366.2 L465.2,368.4 L464.0,370.0 L463.1,372.0 L462.6,374.0 L462.5,376.3 L461.5,378.2 L459.6,379.9 L458.0,381.7 L456.8,384.0 L457.1,386.3 L456.3,388.7 L456.8,391.0 L455.2,392.7 L453.4,394.3 L451.3,395.5 L450.0,397.5 L449.3,400.0 L449.7,402.5 L449.0,405.0 L447.7,407.0 L446.3,409.0 L445.0,411.0 L447.1,412.9 L449.0,415.0 L446.0,417.5 L446.1,419.7 L445.7,421.8 L445.0,423.8 L445.0,426.0 L446.7,427.3 L447.5,429.3 L448.8,430.8 L450.0,432.5 L451.7,434.1 L452.7,436.1 L453.6,438.2 L455.0,440.0 L456.2,441.9 L457.9,443.5 L458.3,445.9 L460.0,447.5 L461.1,449.4 L462.3,451.2 L464.0,452.5 L465.4,454.8 L466.0,457.5 L467.0,459.9 L467.5,462.5 L467.0,464.7 L465.2,466.4 L464.7,468.6 L463.9,470.7 L462.5,472.5 L463.3,475.0 L464.0,477.5 L462.3,478.9 L461.1,480.6 L460.0,482.5 L458.1,483.3 L456.1,483.9 L453.9,483.6 L452.0,484.4 L450.0,485.0 L447.9,485.3 L446.1,486.4 L444.1,487.0 L441.9,486.8 L440.0,487.5 L438.0,488.1 L436.1,489.0 L433.9,488.5 L432.0,489.4 L430.0,490.0 L428.5,492.4 L427.5,495.0 L424.9,494.6 L422.6,493.0 L420.0,492.5 L417.7,494.2 L415.0,495.0 L412.4,495.1 L410.0,496.0 L408.0,496.1 L406.0,496.0 L405.6,493.8 L405.7,491.6 L405.9,489.4 L404.9,487.2 L405.0,485.0 L403.0,483.6 L401.7,481.6 L400.0,480.0 L398.3,478.7 L396.7,477.3 L395.2,475.8 L393.7,474.3 L392.5,472.5 L390.3,472.8 L388.2,472.7 L386.0,472.5 L385.6,470.5 L385.9,468.5 L385.2,466.5 L385.2,464.5 L385.0,462.5 L383.2,460.8 L381.9,458.9 L380.1,457.2 L379.0,455.0 L376.8,455.3 L374.5,455.5 L372.2,454.7 L370.0,455.0 L367.5,454.1 L364.9,453.7 L362.5,452.5 L360.8,450.9 L359.5,448.8 L357.5,447.5 L356.3,445.5 L356.2,443.0 L355.0,441.0 L353.1,440.2 L351.2,439.3 L349.5,438.0 L347.5,437.5 L345.6,436.3 L343.8,435.0 L342.0,433.6 L340.0,432.5 L337.4,432.5 L335.0,433.7 L332.5,434.0 L330.3,433.9 L328.2,434.3 L326.1,434.6 L324.0,435.0 L323.2,432.8 L322.3,430.6 L321.3,428.4 L321.0,426.0 L321.0,422.5 L322.2,419.8 L324.0,417.5 L324.6,414.8 L326.0,412.5 L325.1,410.7 L323.4,409.3 L322.5,407.5 L321.0,406.0 L319.8,404.4 L319.0,402.5 L317.6,400.6 L316.0,398.9 L314.0,397.5 L314.4,395.5 L314.2,393.5 L314.3,391.5 L314.6,389.5 L315.0,387.5 L317.0,385.7 L319.0,384.0 L318.9,381.7 L319.4,379.5 L319.5,377.2 L320.0,375.0 L321.4,373.4 L322.5,371.5 L323.0,369.4 L324.0,367.5 L324.7,364.9 L326.0,362.5 L325.4,360.5 L324.0,359.0 L321.8,358.7 L319.6,358.2 L317.5,357.5 L315.0,360.0 L313.4,361.5 L311.3,362.1 L309.4,363.0 L307.5,364.0 L306.2,366.1 L305.3,368.4 L303.7,370.4 L302.5,372.5 L301.8,374.5 L300.4,376.0 L299.0,377.5 L299.6,379.7 L299.4,382.0 L300.0,384.2 L300.2,386.5 L300.0,388.7 L300.0,391.0 L297.6,391.8 L295.0,391.9 L292.5,392.5 L290.0,393.0 L287.4,393.2 L285.0,394.0 L282.9,395.1 L280.9,396.2 L278.8,397.2 L277.1,398.9 L275.0,400.0 L272.8,401.2 L270.3,401.5 L268.4,403.4 L266.0,404.0 L264.0,403.0 L261.8,402.4 L259.5,402.2 L257.5,401.0 L255.5,400.1 L253.3,399.6 L251.2,399.4 L249.0,399.0 L246.8,398.4 L244.6,397.9 L242.2,398.3 L240.0,397.5 L237.7,398.1 L235.5,398.7 L233.2,399.0 L231.0,400.0 L229.2,398.1 L227.2,396.4 L225.0,395.0 L224.8,393.0 L224.8,390.9 L224.0,389.0 L224.5,386.9 L224.9,384.7 L225.0,382.5 L227.4,381.0 L230.0,380.0 L231.3,378.0 L233.0,376.4 L235.0,375.0 L234.0,372.5 L232.9,370.1 L232.5,367.5 L231.6,364.8 L230.0,362.5 L228.0,361.6 L226.1,360.7 L224.0,360.0 L224.5,358.0 L225.0,356.0 L225.2,354.0 L225.1,351.9 L226.0,350.0 L226.8,348.1 L227.3,346.1 L227.5,344.0 L229.3,342.0 L231.0,340.0 L233.5,338.8 L236.0,337.5 L235.0,335.3 L233.2,333.4 L232.5,331.0 L230.0,330.7 L227.5,331.0 L226.0,333.2 L224.0,335.0 L225.0,332.5 L223.6,330.8 L222.8,328.9 L222.2,326.8 L221.0,325.0 L218.8,323.6 L217.2,321.5 L215.0,320.0 L213.4,318.3 L211.2,317.5 L209.3,316.4 L207.5,315.0 L205.0,315.4 L202.5,315.5 L200.0,316.0 L197.6,316.7 L195.4,317.9 L193.2,318.9 L191.0,320.0 L187.5,319.0 L185.4,318.8 L183.4,318.2 L181.4,317.5 L179.6,316.3 L177.5,316.0 L175.0,316.2 L172.5,315.9 L170.0,316.0 L169.5,318.1 L168.4,319.8 L167.2,321.5 L165.8,323.1 L165.0,325.0 L163.8,323.2 L162.5,321.5 L161.0,320.0 L160.4,318.0 L160.2,316.0 L159.8,314.0 L159.4,312.0 L159.0,310.0 L158.8,308.0 L159.8,306.0 L159.3,304.0 L160.3,302.1 L160.0,300.0 L160.0,297.4 L159.0,295.0 L157.3,293.7 L156.3,291.7 L155.0,290.0 L153.6,288.1 L152.0,286.3 L150.0,285.0 L147.5,284.2 L144.9,283.6 L142.5,282.5 L140.0,282.8 L137.5,282.5 L136.0,279.0 L134.0,277.5 L131.8,277.8 L130.0,279.0 L127.6,279.8 L125.0,280.0 L122.5,281.2 L120.0,282.5 L117.3,281.6 L115.0,280.0 L113.4,278.3 L112.0,276.3 L110.0,275.0 L109.1,273.1 L109.3,270.9 L108.5,269.0 L108.4,266.9 L107.5,265.0 L107.2,262.9 L106.2,261.1 L106.4,258.9 L105.5,257.0 L105.0,255.0 L103.3,252.7 L102.5,250.0 L102.7,247.3 L104.0,245.0 L103.6,242.8 L103.2,240.5 L102.7,238.3 L102.5,236.0 L100.1,235.2 L98.1,233.8 L96.0,232.5 L94.9,230.7 L94.6,228.6 L92.9,227.1 L92.5,225.0 L91.6,223.2 L90.5,221.5 L89.0,220.0 L87.0,220.4 L85.0,220.0 L82.3,220.8 L80.0,222.5 L77.5,222.8 L74.9,223.1 L72.5,224.0 L70.7,225.1 L68.8,225.9 L66.9,226.7 L65.0,227.5 L62.7,228.3 L61.0,230.0 L60.6,232.0 L60.5,234.0 L60.0,236.0 L58.8,238.0 L57.5,240.0 L55.6,238.2 L54.0,236.0 L51.4,234.8 L49.4,232.7 L47.2,231.6 L45.7,229.5 L43.4,228.5 L41.6,226.8 L40.6,224.9 L38.7,223.8 L37.5,222.0 L36.0,220.5 L35.0,218.7 L33.7,217.0 L31.4,216.3 L29.3,215.1 L27.4,213.5 L25.0,213.0 L21.8,211.0 L20.9,208.8 L19.5,206.8 L17.9,205.0 L17.7,202.7 L17.6,200.4 L17.3,198.2 L16.5,196.0 L16.3,193.6 L15.9,191.3 L17.1,189.4 L17.5,187.1 L18.9,185.4 L18.6,183.4 L17.8,181.5 L17.7,179.4 L17.1,177.5 L16.2,175.6 L15.4,173.7 L15.9,171.5 L14.9,169.6 L14.0,167.7 L13.8,165.6 L13.1,163.7 L12.5,161.7 L12.4,159.6 L12.1,157.6 L10.8,155.8Z" fill="#fed98e"/>
<path d="M0.0,100.0 C26.8,67.3 134.2,98.0 161.0,100.0 C187.8,102.0 161.9,108.7 161.0,112.0 C160.1,115.3 157.8,117.4 155.6,120.0 C153.4,122.6 150.6,124.5 148.0,127.5 C145.4,130.5 143.5,135.1 140.0,138.0 C136.5,140.9 130.9,141.4 127.0,145.0 C123.0,148.6 120.8,155.5 116.3,159.3 C111.8,163.1 105.2,164.8 99.7,167.6 C94.2,170.4 86.7,172.8 83.0,176.0 C79.3,179.2 77.4,183.0 77.6,187.0 C77.8,191.0 82.3,196.2 84.0,200.0 C85.7,203.8 87.0,206.8 88.0,210.0 C89.0,213.2 88.6,216.9 90.0,219.5 C91.4,222.1 93.7,224.5 96.3,225.8 C98.9,227.1 102.9,226.6 105.8,227.4 C108.7,228.2 112.1,229.2 113.7,230.5 C115.3,231.8 115.5,233.4 115.2,235.2 C114.9,237.0 112.2,239.1 112.0,241.5 C111.8,243.9 112.1,247.6 113.7,249.4 C115.3,251.2 118.9,253.1 121.5,252.6 C124.1,252.1 127.8,249.5 129.4,246.3 C131.0,243.2 129.7,236.8 131.0,233.7 C132.3,230.5 135.2,228.7 137.3,227.4 C139.4,226.1 139.8,226.3 143.6,225.8 C147.4,225.3 155.3,225.2 160.0,224.2 C164.7,223.2 168.7,218.9 171.5,220.0 C174.3,221.1 177.9,226.8 177.0,231.0 C176.1,235.2 168.8,240.6 166.0,245.0 C163.2,249.4 162.2,254.2 160.0,257.3 C157.8,260.4 156.8,261.5 153.0,263.6 C149.2,265.7 142.6,269.5 137.3,270.0 C132.1,270.5 125.4,267.9 121.5,266.8 C117.6,265.7 115.8,263.1 113.7,263.6 C111.6,264.1 110.5,267.3 109.0,270.0 C107.5,272.7 106.5,275.7 105.0,280.0 C103.5,284.3 117.5,293.3 100.0,296.0 C82.5,298.7 16.7,328.7 0.0,296.0 C-16.7,263.3 -26.8,132.7 0.0,100.0Z" fill="#fff7c8"/>
<path d="M217.0,240.0 C217.0,236.8 219.5,234.5 222.0,233.0 C224.5,231.5 229.2,230.5 232.0,231.0 C234.8,231.5 237.7,233.7 239.0,236.0 C240.3,238.3 241.0,242.5 240.0,245.0 C239.0,247.5 236.0,249.8 233.0,251.0 C230.0,252.2 224.7,253.8 222.0,252.0 C219.3,250.2 217.0,243.2 217.0,240.0Z" fill="#fff7c8"/>
<path d="M238.4,326.0 C239.1,323.8 244.4,320.2 248.0,320.0 C251.6,319.8 258.4,322.9 259.7,325.0 C261.0,327.1 258.6,331.3 256.0,332.6 C253.4,333.9 246.9,334.1 244.0,333.0 C241.1,331.9 237.7,328.2 238.4,326.0Z" fill="#fff7c8"/>
<path d="M212.0,350.0 C214.6,338.1 222.2,350.9 227.8,348.6 C233.4,346.3 239.0,338.9 245.5,336.0 C252.0,333.1 260.9,330.6 266.8,330.9 C272.7,331.2 275.7,335.9 281.0,338.0 C286.3,340.1 292.9,341.8 298.8,343.3 C304.7,344.8 311.3,346.8 316.6,346.8 C321.9,346.8 327.3,344.5 330.8,343.3 C334.3,342.1 335.7,341.3 337.8,339.4 C339.9,337.4 340.1,333.6 343.7,331.6 C347.3,329.6 354.1,328.6 359.4,327.6 C364.6,326.6 372.2,323.6 375.2,325.6 C378.2,327.6 376.5,335.4 377.2,339.4 C377.9,343.3 380.5,346.0 379.2,349.3 C377.9,352.6 373.6,357.1 369.3,359.2 C365.0,361.3 358.4,360.9 353.5,362.0 C348.6,363.1 343.1,364.3 340.0,366.0 C336.9,367.7 335.8,366.3 335.0,372.0 C334.2,377.7 335.8,391.8 335.0,400.0 C334.2,408.2 332.8,416.8 330.0,421.0 C327.2,425.2 323.0,425.2 318.0,425.0 C313.0,424.8 317.7,420.8 300.0,420.0 C282.3,419.2 226.7,431.7 212.0,420.0 C197.3,408.3 209.4,361.9 212.0,350.0Z" fill="#fff7c8"/>
<path d="M383.0,347.3 C384.0,344.7 389.7,343.0 393.0,341.4 C396.3,339.8 399.5,336.8 402.8,337.5 C406.1,338.2 410.1,341.8 412.7,345.4 C415.3,349.0 418.3,354.9 418.6,359.2 C418.9,363.5 417.3,368.0 414.7,371.0 C412.1,374.0 406.1,378.0 402.8,377.0 C399.5,376.0 397.6,368.3 395.0,365.0 C392.4,361.7 389.0,360.1 387.0,357.2 C385.0,354.2 382.0,349.9 383.0,347.3Z" fill="#fff7c8"/>
<path d="M423.0,345.0 C422.5,340.7 425.3,333.3 427.0,331.0 C428.7,328.7 431.8,328.2 433.0,331.0 C434.2,333.8 434.9,343.7 434.4,348.0 C433.9,352.3 431.9,357.5 430.0,357.0 C428.1,356.5 423.5,349.3 423.0,345.0Z" fill="#fff7c8"/>
<path d="M442.3,368.0 C443.3,361.4 446.6,358.6 450.2,355.2 C453.8,351.8 459.0,349.9 464.0,347.3 C469.0,344.7 475.3,340.3 480.0,339.4 C484.7,338.5 493.7,331.6 492.0,342.0 C490.3,352.4 476.2,391.7 470.0,402.0 C463.8,412.3 459.3,405.2 455.0,404.0 C450.7,402.8 446.1,401.0 444.0,395.0 C441.9,389.0 441.3,374.6 442.3,368.0Z" fill="#fff7c8"/>
<path d="M85.0,110.0 C85.3,108.7 88.2,106.7 90.0,106.5 C91.8,106.3 95.3,107.8 96.0,109.0 C96.7,110.2 95.3,113.1 94.0,114.0 C92.7,114.9 89.5,115.2 88.0,114.5 C86.5,113.8 84.7,111.3 85.0,110.0Z" fill="#fed98e"/>
<path d="M0.0,148.0 C2.8,132.3 11.9,149.4 16.6,151.0 C21.3,152.6 23.9,156.8 28.0,157.5 C32.1,158.2 37.5,156.2 41.4,155.0 C45.3,153.8 47.9,149.6 51.3,150.0 C54.6,150.4 59.3,154.6 61.5,157.7 C63.7,160.8 64.6,165.0 64.7,168.8 C64.8,172.5 63.4,177.3 62.0,180.0 C60.6,182.7 58.4,182.5 56.4,185.0 C54.4,187.5 51.3,192.5 50.0,195.0 C48.7,197.5 48.5,197.2 48.7,200.0 C48.9,202.8 49.2,208.7 51.3,211.5 C53.4,214.3 59.4,214.1 61.5,216.7 C63.6,219.3 63.2,222.3 64.0,227.0 C64.8,231.7 76.7,242.0 66.0,245.0 C55.3,248.0 11.0,261.2 0.0,245.0 C-11.0,228.8 -2.8,163.7 0.0,148.0Z" fill="#f2f0e2"/>
<path d="M274.6,364.0 C275.3,361.8 280.1,359.7 283.0,359.5 C285.9,359.3 290.7,360.9 292.0,363.0 C293.3,365.1 293.2,370.3 291.0,372.0 C288.8,373.7 281.7,374.3 279.0,373.0 C276.3,371.7 273.9,366.2 274.6,364.0Z" fill="#f2f0e2"/>
<path d="M180.0,100.0 C180.0,111.2 180.7,122.6 180.0,127.5 C179.3,132.4 177.9,128.5 176.0,129.4 C174.1,130.3 170.9,131.7 168.8,133.0 C166.6,134.3 164.3,134.2 163.0,137.0 C161.7,139.8 162.3,146.7 161.0,150.0 C159.7,153.3 157.4,152.3 155.0,156.6 C152.6,160.9 148.4,169.6 146.6,176.0 C144.8,182.4 144.0,189.9 144.0,195.0 C144.0,200.1 143.9,205.4 146.6,206.3 C149.3,207.2 155.8,202.1 160.4,200.7 C165.0,199.3 168.7,197.5 174.2,198.0 C179.7,198.5 188.1,202.6 193.6,203.5 C199.1,204.4 202.8,204.0 207.4,203.5 C212.0,203.0 215.0,201.1 221.0,200.7 C227.0,200.3 236.5,200.4 243.3,201.3 C250.1,202.2 258.1,203.9 262.0,206.0 C265.9,208.1 265.2,209.7 266.4,214.0 C267.6,218.3 269.2,226.8 269.0,232.0 C268.8,237.2 266.7,240.2 265.0,245.0 C263.3,249.8 261.2,253.2 259.0,260.5 C256.8,267.8 252.2,282.4 251.5,288.7 C250.8,294.9 253.2,295.1 255.0,298.0 C256.8,300.9 258.6,303.2 262.0,306.0 C265.4,308.8 271.4,313.4 275.7,314.9 C280.0,316.4 283.6,313.7 288.0,314.9 C292.4,316.1 297.6,321.1 302.4,322.0 C307.2,322.9 311.9,321.7 316.6,320.2 C321.3,318.7 325.5,315.1 330.8,313.0 C336.1,310.9 342.9,310.5 348.5,307.8 C354.1,305.1 360.1,300.8 364.5,297.0 C368.9,293.2 370.8,288.3 375.0,285.0 C379.2,281.7 383.7,277.0 389.6,277.2 C395.5,277.4 405.9,281.6 410.3,286.0 C414.7,290.4 413.8,301.3 416.2,303.8 C418.6,306.3 419.6,301.3 425.0,300.8 C430.4,300.3 443.4,298.8 448.8,300.8 C454.2,302.8 457.7,308.2 457.7,312.7 C457.7,317.1 449.8,324.1 448.8,327.5 C447.8,330.9 447.9,334.9 451.8,333.4 C455.8,331.9 467.1,323.5 472.5,318.6 C477.9,313.7 481.3,308.2 484.3,303.8 C487.3,299.4 486.4,295.5 490.3,292.0 C494.2,288.5 502.1,284.0 508.0,283.0 C513.9,282.0 519.6,284.8 525.8,286.0 C532.0,287.2 541.8,327.7 545.0,290.0 C548.2,252.3 605.8,98.3 545.0,60.0 C484.2,21.7 240.8,53.3 180.0,60.0 C119.2,66.7 180.0,88.8 180.0,100.0Z" fill="#fdae55"/>
<path d="M172.0,291.3 C171.7,284.7 173.3,279.2 175.0,275.0 C176.7,270.8 179.2,267.5 182.0,266.0 C184.8,264.5 189.4,264.3 192.0,266.0 C194.6,267.7 196.4,269.7 197.7,276.0 C199.0,282.3 198.3,297.2 200.0,304.0 C201.7,310.8 209.2,314.4 208.0,317.0 C206.8,319.6 197.8,319.9 192.6,319.5 C187.4,319.1 180.4,319.1 177.0,314.4 C173.6,309.7 172.3,297.9 172.0,291.3Z" fill="#fdae55"/>
<path d="M354.7,446.0 C356.1,434.6 355.7,435.9 358.4,431.7 C361.1,427.5 365.4,424.2 371.0,421.0 C376.6,417.8 385.9,415.1 392.2,412.7 C398.5,410.2 403.4,407.4 409.0,406.3 C414.6,405.2 421.1,404.9 426.0,406.3 C430.9,407.7 435.5,411.3 438.7,414.8 C441.9,418.3 442.9,423.5 445.0,427.4 C447.1,431.3 449.0,434.0 451.4,438.0 C453.8,442.0 456.8,446.2 459.6,451.5 C462.4,456.8 466.3,461.9 468.0,470.0 C469.7,478.1 489.7,495.0 470.0,500.0 C450.3,505.0 369.2,509.0 350.0,500.0 C330.8,491.0 353.3,457.4 354.7,446.0Z" fill="#fdae55"/>
<path d="M236.0,60.0 C184.5,66.3 237.3,89.1 236.0,98.0 C234.7,106.9 229.8,106.5 228.0,113.3 C226.2,120.1 225.8,131.2 225.4,139.0 C225.0,146.8 224.5,155.2 225.4,160.0 C226.3,164.8 226.1,165.2 230.8,168.0 C235.5,170.8 250.8,172.5 253.7,177.0 C256.6,181.5 246.7,190.7 248.0,195.0 C249.3,199.3 256.5,202.4 261.3,203.0 C266.1,203.6 272.9,196.9 276.7,198.7 C280.5,200.5 282.7,209.3 284.4,214.0 C286.1,218.7 284.9,225.3 287.0,227.0 C289.1,228.7 293.6,223.1 297.0,224.4 C300.4,225.7 304.9,230.7 307.4,234.6 C309.9,238.5 309.9,244.1 312.0,248.0 C314.1,251.9 318.5,253.5 320.0,258.0 C321.5,262.5 320.7,269.8 321.0,275.0 C321.3,280.2 320.2,287.4 322.0,289.0 C323.8,290.6 328.6,286.9 331.6,284.8 C334.6,282.7 337.7,279.2 340.0,276.5 C342.3,273.8 342.3,270.2 345.6,268.3 C348.9,266.4 352.7,265.3 360.0,265.3 C367.3,265.3 381.2,266.8 389.6,268.3 C398.0,269.8 404.9,274.7 410.3,274.2 C415.7,273.7 418.8,269.2 422.2,265.3 C425.6,261.4 428.5,253.9 431.0,250.5 C433.5,247.1 432.1,245.6 437.0,244.6 C441.9,243.6 452.7,243.6 460.6,244.6 C468.5,245.6 477.9,248.0 484.3,250.5 C490.7,253.0 495.1,258.9 499.0,259.4 C502.9,259.9 504.5,255.1 508.0,253.5 C511.5,251.9 513.8,252.2 520.0,250.0 C526.2,247.8 540.8,271.7 545.0,240.0 C549.2,208.3 596.5,90.0 545.0,60.0 C493.5,30.0 287.5,53.7 236.0,60.0Z" fill="#ee8022"/>
<path d="M167.0,160.0 C167.7,157.5 170.3,154.7 172.0,155.0 C173.7,155.3 176.5,159.2 177.0,162.0 C177.5,164.8 176.5,170.7 175.0,172.0 C173.5,173.3 169.3,172.0 168.0,170.0 C166.7,168.0 166.3,162.5 167.0,160.0Z" fill="#ee8022"/>
<path d="M464.0,272.0 C464.7,268.6 470.6,263.6 474.0,262.4 C477.4,261.2 483.0,262.1 484.3,265.0 C485.6,267.9 484.4,277.0 482.0,280.0 C479.6,283.0 473.0,284.3 470.0,283.0 C467.0,281.7 463.3,275.4 464.0,272.0Z" fill="#ee8022"/>
<path d="M386.0,469.7 C388.4,467.2 391.2,467.9 392.2,463.3 C393.2,458.7 391.5,447.8 392.2,442.2 C392.9,436.6 394.4,432.8 396.5,429.6 C398.6,426.4 401.5,425.0 405.0,423.2 C408.5,421.4 414.1,419.0 417.6,419.0 C421.1,419.0 423.6,420.4 426.0,423.2 C428.4,426.0 430.5,431.1 432.3,436.0 C434.1,440.9 435.2,447.5 436.6,452.8 C438.0,458.1 441.2,463.4 440.8,467.6 C440.4,471.8 437.7,475.9 434.5,478.0 C431.3,480.1 425.0,478.8 421.8,480.2 C418.6,481.6 417.3,483.3 415.5,486.6 C413.7,489.9 417.1,497.8 411.2,500.0 C405.3,502.2 385.5,503.7 380.0,500.0 C374.5,496.3 377.0,483.1 378.0,478.0 C379.0,472.9 383.6,472.1 386.0,469.7Z" fill="#ee8022"/>
<path d="M258.7,80.0 C256.4,85.9 263.0,95.0 266.4,100.5 C269.8,106.0 276.4,108.6 279.0,113.3 C281.6,118.0 279.2,125.7 281.8,128.7 C284.4,131.6 290.3,132.3 294.6,131.0 C298.9,129.7 304.4,124.8 307.4,121.0 C310.4,117.2 313.5,111.4 312.6,108.0 C311.7,104.6 304.1,104.3 302.0,100.5 C299.9,96.7 300.9,89.2 299.7,85.0 C298.5,80.8 297.9,78.3 294.6,75.0 C291.3,71.7 286.0,64.2 280.0,65.0 C274.0,65.8 261.0,74.1 258.7,80.0Z" fill="#fdae55"/>
<path d="M387.0,130.0 C387.5,126.2 392.0,123.5 395.0,123.5 C398.0,123.5 403.7,126.6 405.0,130.0 C406.3,133.4 405.2,141.3 403.0,144.0 C400.8,146.7 394.7,148.3 392.0,146.0 C389.3,143.7 386.5,133.8 387.0,130.0Z" fill="#fdae55"/>
<path d="M333.0,90.0 C333.8,84.0 335.8,80.7 338.0,77.4 C340.2,74.1 343.4,68.3 346.0,70.0 C348.6,71.7 350.6,81.3 353.6,87.6 C356.6,93.9 361.0,102.9 364.0,108.0 C367.0,113.1 370.2,114.1 371.5,118.4 C372.8,122.7 372.8,129.5 371.5,133.8 C370.2,138.1 367.8,141.9 364.0,144.0 C360.2,146.1 352.8,147.9 348.5,146.6 C344.2,145.3 340.6,142.0 338.0,136.4 C335.4,130.8 333.8,121.0 333.0,113.3 C332.2,105.6 332.2,96.0 333.0,90.0Z" fill="#cc4c02"/>
<path d="M241.0,105.0 C242.2,101.7 246.8,99.8 250.0,100.0 C253.2,100.2 258.2,102.7 260.0,106.0 C261.8,109.3 262.3,116.7 261.0,120.0 C259.7,123.3 255.0,126.0 252.0,126.0 C249.0,126.0 244.8,123.5 243.0,120.0 C241.2,116.5 239.8,108.3 241.0,105.0Z" fill="#cc4c02"/>
<path d="M249.0,135.0 C249.7,133.0 252.4,130.8 254.0,131.0 C255.6,131.2 258.2,133.8 258.7,136.0 C259.2,138.2 258.4,142.8 257.0,144.0 C255.6,145.2 251.3,144.5 250.0,143.0 C248.7,141.5 248.3,137.0 249.0,135.0Z" fill="#cc4c02"/>
<path d="M322.8,206.4 C323.2,203.0 327.5,198.3 330.5,193.6 C333.5,188.9 336.9,182.7 340.8,178.0 C344.7,173.3 348.9,168.8 353.6,165.4 C358.3,162.0 363.0,159.0 369.0,157.7 C375.0,156.4 383.1,156.0 389.5,157.7 C395.9,159.4 403.5,163.7 407.4,168.0 C411.2,172.3 412.6,177.8 412.6,183.3 C412.6,188.9 408.3,196.2 407.4,201.3 C406.5,206.4 405.7,211.1 407.4,214.0 C409.1,216.9 413.8,218.6 417.7,219.0 C421.6,219.4 427.7,215.8 430.5,216.7 C433.3,217.6 434.3,220.7 434.4,224.4 C434.5,228.1 434.5,235.8 431.0,238.7 C427.5,241.6 420.2,242.1 413.3,241.6 C406.4,241.1 397.9,236.0 389.6,235.7 C381.4,235.4 371.1,239.5 363.8,239.7 C356.5,239.9 350.3,239.6 346.0,237.0 C341.7,234.4 341.0,228.2 338.0,224.4 C335.0,220.6 330.5,217.0 328.0,214.0 C325.5,211.0 322.4,209.8 322.8,206.4Z" fill="#cc4c02"/>
<path d="M295.0,197.0 C294.7,195.7 298.3,193.6 300.0,193.6 C301.7,193.6 304.7,195.7 305.0,197.0 C305.3,198.3 303.7,201.3 302.0,201.3 C300.3,201.3 295.3,198.3 295.0,197.0Z" fill="#cc4c02"/>
<path d="M440.8,144.0 C443.2,139.6 446.8,137.0 450.0,138.0 C453.2,139.0 459.2,142.2 460.0,150.0 C460.8,157.8 458.7,179.6 455.0,185.0 C451.3,190.4 441.2,185.9 438.0,182.5 C434.8,179.1 435.1,171.0 435.6,164.6 C436.1,158.2 438.4,148.4 440.8,144.0Z" fill="#cc4c02"/>
<g fill="none" stroke-linejoin="round" stroke-linecap="round"><path d="M122.4,98.0 L122.4,100.5 L123.0,102.9 L124.1,105.2 L124.9,107.5 L125.0,110.0 L125.2,112.3 L125.7,114.6 L125.3,117.0 L126.4,119.2 L126.3,121.6 L126.0,123.9 L125.5,126.2 L124.7,128.4 L125.0,130.8 L125.0,133.1 L123.9,135.3 L123.8,137.7 L123.7,140.0 L123.1,142.1 L121.1,143.6 L120.0,145.5 L119.3,147.6 L118.1,149.5 L117.7,151.8 L119.8,152.5 L121.5,154.1 L123.4,155.3 L125.5,156.0 L127.6,156.7 L129.6,157.7 L130.7,160.0 L130.7,162.6 L130.9,165.1 L130.9,167.7 L131.3,170.2 L132.5,172.5 L132.1,175.0 L131.0,177.3 L131.4,180.0 L130.1,182.3 L130.0,184.8 L129.6,187.3 L130.8,189.6 L130.2,192.3 L131.2,194.6 L131.0,197.2 L131.8,199.6 L132.5,202.0 L134.0,204.0 L134.0,206.5 L134.2,208.9 L135.5,211.0 L136.4,213.4 L136.8,215.9 L136.4,218.5 L138.0,220.8 L137.9,223.4 L138.5,225.8" stroke="#aaaaaa" stroke-width="1.2"/><path d="M50.0,226.2 L52.9,227.7 L55.0,230.0 L56.9,228.3 L58.3,226.3 L59.2,223.8 L61.0,222.0 L62.5,220.0 L65.0,219.3 L67.6,219.0 L70.1,218.6 L72.5,217.5 L75.0,216.9 L77.5,216.7 L80.0,217.5 L82.4,218.6 L85.0,218.6 L87.4,219.8 L90.0,220.0 L92.4,220.5 L94.0,222.2 L95.8,223.8 L98.2,224.3 L100.0,225.8 L102.1,226.9 L104.3,227.2 L106.8,226.1 L109.0,226.5 L111.1,227.7 L113.2,228.7 L115.5,228.1 L117.7,228.7 L119.9,227.9 L122.3,227.9 L124.5,227.0 L126.9,227.0 L129.2,227.0 L131.6,226.8 L133.8,226.0 L136.1,225.7 L138.5,225.8 L140.9,226.0 L143.1,227.0 L145.5,227.4 L147.9,227.7 L149.9,229.6 L152.3,229.8 L154.5,230.6 L157.0,230.6 L159.2,231.7 L161.9,231.2 L164.2,229.9 L166.0,227.6 L168.5,226.7 L171.0,225.8 L173.3,226.7 L175.6,227.3 L177.9,228.2 L180.5,228.0 L182.8,228.7 L185.0,229.8 L187.5,230.2 L190.0,230.2 L192.2,231.2 L194.6,231.7 L196.8,232.9 L199.2,233.4 L201.7,233.4 L204.1,234.2 L206.5,234.6 L208.8,234.9 L210.6,236.2 L212.2,238.0 L214.4,238.5 L216.6,239.1 L218.3,240.6 L220.5,239.9 L222.9,239.4 L225.1,238.6 L227.2,237.6 L229.5,236.8 L231.9,236.3 L234.3,235.8 L236.7,235.6 L239.0,234.6 L241.5,234.1 L243.9,233.5 L246.4,233.1 L248.7,231.9 L251.2,231.5 L253.8,231.7 L256.1,232.6 L258.3,233.6 L260.8,233.6 L263.3,233.9 L265.6,234.6 L267.9,233.5 L270.4,233.4 L272.9,233.6 L275.2,232.7 L277.5,231.7 L279.9,231.2 L282.4,231.1 L284.5,229.5 L286.9,229.3 L289.3,228.7 L291.8,227.2 L293.3,224.9 L295.2,222.8 L297.7,222.3 L300.1,221.5 L302.6,221.5 L305.2,221.7 L307.4,219.7 L310.0,220.0 L312.0,221.1 L314.1,221.9 L316.2,222.7 L318.4,223.2 L320.6,224.0 L322.8,224.3 L325.0,225.0 L327.5,225.6 L330.0,225.9 L332.6,225.8 L334.9,227.6 L337.5,227.5 L339.3,228.8 L341.5,229.6 L343.1,231.3 L345.0,232.5" stroke="#aaaaaa" stroke-width="1.2"/><path d="M236.0,97.0 L236.2,99.5 L237.2,101.6 L239.4,103.3 L240.2,105.5 L240.0,108.1 L241.1,110.2 L242.1,112.4 L243.6,114.3 L244.0,116.7 L244.9,118.9 L246.0,121.0 L246.4,123.6 L247.5,126.0 L247.6,128.7 L248.2,131.2 L248.5,133.8 L248.8,136.4 L249.0,139.1 L249.7,141.6 L251.0,144.0 L249.8,147.0 L248.8,150.0" stroke="#aaaaaa" stroke-width="1.2"/><path d="M230.0,169.6 L229.9,172.1 L229.0,174.5 L228.8,177.0 L228.0,179.4 L227.5,181.9 L227.2,184.4 L226.6,187.1 L225.5,189.5 L223.2,191.2 L222.8,194.0 L221.3,196.2 L222.3,198.5 L221.7,201.1 L223.1,203.3 L223.1,205.8 L224.2,208.0 L223.3,210.0 L222.0,211.9 L221.8,214.2 L220.1,215.8 L218.8,217.7 L218.3,219.9 L217.4,222.0 L216.3,224.0 L215.5,226.1 L215.6,228.6 L213.7,230.2 L213.1,232.4 L212.4,234.6 L214.6,236.4 L216.9,238.1 L218.3,240.6" stroke="#aaaaaa" stroke-width="1.2"/><path d="M230.0,169.6 L232.2,169.0 L234.4,168.6 L236.7,168.8 L238.9,168.3 L241.1,167.9 L243.4,168.2 L245.7,168.9 L247.9,168.0 L250.0,169.0 L252.2,169.5 L254.6,169.3 L256.7,170.3 L259.1,170.5 L261.3,170.9 L263.5,171.3 L265.6,172.5 L267.9,172.4 L269.9,173.9 L272.2,174.1 L274.4,174.5 L276.6,174.8 L279.0,174.3 L281.2,174.8 L283.4,175.5 L285.6,175.3 L287.9,175.1 L290.1,174.9 L292.3,174.6 L294.3,173.0 L296.6,173.4 L298.8,173.1 L301.0,172.5 L303.2,172.1 L305.4,171.3 L307.7,171.4 L309.8,170.4 L312.3,171.4 L314.5,170.9 L316.7,170.0 L318.9,169.6 L321.1,168.9 L323.4,169.5 L325.6,168.6 L327.9,168.7 L330.1,168.3 L332.2,167.4 L334.4,166.8 L336.6,166.6 L338.9,166.5 L341.1,166.0 L343.2,165.3 L345.5,165.2 L347.8,165.8 L350.0,165.0 L352.7,165.1 L355.2,166.0 L357.5,167.5 L359.9,169.5 L362.5,171.2" stroke="#aaaaaa" stroke-width="1.2"/><path d="M371.5,121.0 L372.0,123.3 L372.4,125.6 L373.0,127.9 L373.4,130.2 L374.4,132.4 L374.8,134.7 L376.8,136.5 L376.7,139.0 L374.8,140.9 L372.4,142.3 L370.8,144.5 L369.0,146.6 L366.5,147.3 L365.0,149.7 L362.5,150.5 L360.5,152.1 L358.1,153.0 L356.0,154.3 L353.8,155.0 L352.0,156.7 L349.7,157.3 L347.5,158.0 L344.9,157.9 L343.0,159.4 L341.5,161.8 L340.8,164.6 L337.5,167.5" stroke="#aaaaaa" stroke-width="1.2"/><path d="M362.5,171.2 L359.8,172.1 L357.3,173.3 L355.0,175.0 L354.0,177.0 L353.3,179.2 L352.7,181.4 L350.8,182.9 L350.0,185.0 L348.8,187.5 L347.5,190.0 L349.1,191.6 L351.4,192.3 L352.9,194.1 L355.0,195.0 L357.6,195.3 L359.9,196.7 L362.4,197.2 L365.0,197.5 L364.7,200.0 L364.1,202.5 L363.8,205.0 L362.5,207.4 L362.3,210.2 L360.9,212.5 L360.0,215.0 L358.9,217.4 L359.1,220.1 L357.7,222.4 L357.5,225.0 L356.6,227.4 L355.7,229.9 L355.9,232.6 L355.0,235.0 L356.8,237.2 L357.5,240.0" stroke="#aaaaaa" stroke-width="1.2"/><path d="M345.0,232.5 L344.4,235.1 L343.9,237.7 L342.5,240.0 L341.6,242.4 L341.9,245.2 L340.6,247.5 L340.0,250.0" stroke="#aaaaaa" stroke-width="1.2"/><path d="M357.5,240.0 L359.4,238.8 L361.9,239.0 L363.5,236.9 L366.0,237.0 L367.7,235.2 L370.0,235.0 L372.4,234.1 L375.2,234.8 L377.4,233.0 L380.0,233.2 L382.5,232.5 L385.0,232.2 L387.5,231.9 L390.0,231.7 L392.5,231.0 L395.0,231.2 L397.7,231.0 L399.8,229.1 L402.4,228.6 L404.8,227.5 L407.5,227.5 L409.9,226.6 L412.5,226.4 L415.1,226.6 L417.5,225.3 L420.0,225.0 L421.7,223.4 L423.8,222.7 L426.4,222.7 L427.7,220.4 L430.0,220.0" stroke="#aaaaaa" stroke-width="1.2"/><path d="M435.0,227.5 L437.5,228.1 L440.0,228.6 L442.6,228.8 L445.0,230.0 L447.4,231.0 L450.1,230.1 L452.5,231.3 L454.9,232.3 L457.6,231.4 L460.0,232.5 L462.5,233.8 L465.0,235.0" stroke="#aaaaaa" stroke-width="1.2"/><path d="M218.3,240.6 L220.2,242.3 L222.3,243.6 L224.1,245.4 L226.4,246.5 L227.7,248.8 L230.0,250.0 L231.1,252.1 L232.8,253.7 L234.9,254.9 L236.0,257.0 L237.7,258.6 L239.3,260.2 L239.9,262.7 L242.0,264.0 L243.7,266.0 L246.6,265.9 L248.0,268.3 L250.4,269.3 L252.7,270.3 L254.9,271.4 L256.8,273.0 L259.1,273.3 L261.4,272.9 L263.7,273.3 L266.0,273.3 L268.3,272.4 L270.6,273.4 L272.9,273.8 L275.2,273.8 L277.5,273.0 L279.7,272.3 L281.4,270.7 L283.5,269.8 L285.7,269.1 L288.3,269.5 L290.0,267.7 L292.2,267.2 L294.2,266.2 L296.7,266.1 L298.4,264.4 L300.7,263.9 L302.7,262.9 L304.6,261.5 L307.0,261.3 L309.3,260.7 L311.6,260.3 L313.5,258.5 L315.8,257.9 L318.1,257.4 L320.1,256.1 L322.6,256.0 L324.8,255.3 L327.5,255.2 L329.9,254.4 L332.4,253.6 L335.1,253.5 L337.5,252.4 L340.0,250.0" stroke="#aaaaaa" stroke-width="1.2"/><path d="M242.0,205.0 L243.5,203.1 L245.3,201.5 L247.3,200.1 L248.4,197.8 L250.0,196.0 L252.4,196.4 L254.8,196.9 L257.3,196.7 L259.6,197.6 L262.0,198.0 L263.4,199.8 L264.8,201.7 L267.2,202.6 L268.6,204.5 L270.4,205.9 L271.5,208.0 L270.4,210.2 L270.0,212.6 L270.5,215.2 L268.4,217.1 L267.9,219.5 L268.0,222.0 L265.8,222.4 L263.6,223.2 L261.7,224.5 L259.6,225.4 L257.2,225.3 L255.0,226.0 L252.8,225.2 L251.0,223.7 L249.3,222.3 L247.2,221.3 L245.8,219.4 L244.0,218.0 L243.5,215.4 L243.7,212.7 L242.8,210.2 L242.6,207.6 L242.0,205.0" stroke="#aaaaaa" stroke-width="1.2"/><path d="M292.2,267.2 L290.4,268.6 L288.5,269.6 L286.6,271.0 L285.0,272.5 L285.6,275.0 L285.8,277.5 L285.2,280.0 L285.4,282.5 L285.0,285.0 L284.9,287.6 L285.5,290.1 L286.1,292.5 L286.6,295.0 L286.8,297.5 L287.5,300.0 L288.1,302.5 L287.6,305.0 L288.0,307.5 L286.9,310.0 L287.5,312.5 L287.3,315.2 L285.3,317.3 L285.0,320.0 L282.7,321.3 L279.9,321.0 L277.6,322.1 L275.0,322.5 L272.5,323.1 L269.9,322.8 L267.6,324.5 L265.1,324.9 L262.4,323.9 L260.0,325.0 L258.0,326.0 L256.3,327.6 L253.7,327.3 L251.7,328.4 L250.0,330.0 L248.8,332.1 L246.8,333.4 L245.0,335.0 L247.3,335.5 L249.1,336.7 L250.9,338.2 L253.2,338.5 L255.0,340.0 L255.5,342.2 L257.3,343.9 L258.0,346.1 L257.9,348.5 L259.3,350.4 L260.0,352.5 L259.9,354.9 L259.4,357.2 L259.4,359.6 L259.4,362.0 L259.7,364.4 L258.8,366.8 L258.9,369.0 L259.1,371.3 L259.6,373.6 L260.7,375.6 L261.7,377.7 L262.0,380.0 L262.5,382.4 L262.3,384.8 L262.6,387.2 L263.8,389.5 L263.9,391.9 L264.0,394.4 L264.1,396.8 L263.9,399.3 L264.7,401.6 L265.0,404.0" stroke="#aaaaaa" stroke-width="1.2"/><path d="M340.0,250.0 L341.4,252.0 L341.9,254.4 L343.0,256.6 L343.8,258.8 L345.8,260.5 L346.8,262.7 L347.5,265.0 L348.6,267.4 L348.9,269.9 L348.6,272.6 L350.1,274.9 L350.0,277.5 L352.0,279.0 L354.3,280.1 L356.2,281.7 L358.1,283.4 L360.0,285.0 L361.7,286.6 L363.8,287.5 L366.2,287.8 L367.9,289.4 L370.0,290.3 L371.6,292.0 L371.6,294.3 L372.2,296.5 L372.8,298.7 L373.8,300.8 L375.2,302.9 L377.0,304.6 L378.5,306.5 L380.4,308.1 L382.5,309.5 L385.2,309.1 L387.9,310.1 L390.6,309.5 L393.3,309.5 L394.8,307.5 L395.6,305.2 L396.5,302.9 L397.7,300.8 L399.8,300.2 L402.0,299.8 L404.1,299.2 L406.2,298.5 L408.5,298.7 L410.4,300.2 L412.6,301.3 L414.7,302.6 L417.0,303.3 L419.3,304.2 L421.5,305.2 L423.5,306.4 L426.1,306.4 L427.9,308.0 L430.3,308.6 L432.4,309.5 L434.8,310.1 L436.9,311.3 L438.8,312.8 L441.0,313.9 L441.8,316.4 L441.9,319.1 L442.2,321.7 L442.9,324.3 L443.2,326.9 L443.8,330.1 L443.2,333.4 L445.7,333.1 L448.1,332.4 L450.6,332.0 L453.1,331.7 L455.6,331.6 L458.0,330.8 L460.6,331.2 L460.8,328.6 L461.3,326.0 L460.4,323.4 L461.0,320.8 L460.6,318.2 L463.6,318.5 L466.3,316.7 L469.3,317.1 L471.6,317.2 L473.4,318.9 L475.6,319.6 L477.8,320.0 L480.0,320.4 L480.9,322.5 L480.9,324.7 L480.6,327.0 L480.9,329.2 L481.4,331.3 L482.3,333.4 L482.8,336.0 L481.7,338.6 L482.5,341.2 L482.0,343.8 L482.3,346.4 L484.0,347.9 L484.1,350.5 L486.0,352.0" stroke="#aaaaaa" stroke-width="1.2"/><path d="M395.5,320.4 L393.7,323.0 L391.0,324.7 L391.3,327.0 L391.9,329.1 L392.0,331.4 L393.3,333.4 L391.3,335.0 L389.2,336.4 L386.6,337.0 L384.5,338.5 L382.5,340.0 L380.5,341.4 L378.0,341.9 L376.0,343.4 L373.8,344.3 L373.4,347.0 L374.4,349.7 L374.2,352.4 L373.8,355.1 L374.7,357.6 L376.9,359.3 L378.1,361.6 L376.2,363.5 L373.5,364.5 L371.4,366.3 L369.4,368.1 L367.0,369.0 L364.4,368.8 L361.8,368.9 L359.4,370.1 L356.8,369.7 L354.3,370.3 L353.4,372.8 L351.7,374.8 L350.0,376.8 L348.7,379.0 L346.9,380.6 L344.2,381.4 L343.1,383.8 L341.3,385.4 L341.6,387.8 L343.4,389.4 L344.2,391.6 L344.8,393.8 L346.4,395.6 L348.9,396.5 L351.7,396.3 L354.1,397.7 L356.7,398.2 L355.2,400.0 L354.5,402.4 L353.3,404.4 L351.5,406.0 L349.5,407.6 L348.4,410.0 L347.3,412.3 L345.4,414.0 L343.8,416.0 L344.3,418.6 L343.3,421.2 L343.8,423.8 L344.1,426.4 L345.0,428.8 L344.2,431.5 L345.0,434.0" stroke="#aaaaaa" stroke-width="1.2"/><path d="M36.2,141.2 L38.2,142.4 L39.5,144.4 L41.0,146.0 L45.3,146.5 L46.5,148.5 L48.3,150.0 L49.5,152.2 L51.3,154.0 L51.3,157.0 L52.0,160.0 L52.2,162.6 L51.7,165.2 L52.3,167.8 L50.9,170.4 L50.2,173.3 L48.3,175.6 L46.7,177.6 L45.6,180.1 L43.4,181.6 L40.9,181.3 L38.6,181.7 L36.4,183.0 L34.0,183.4 L31.6,183.5 L28.9,183.8 L26.4,185.3 L23.7,185.5 L21.5,187.9 L18.7,189.4 L15.8,191.4" stroke="#1414f0" stroke-width="1.1"/><path d="M88.8,218.8 L90.9,217.8 L92.5,216.0 L95.3,216.3 L97.3,215.1 L98.9,213.2 L101.1,212.5 L102.7,210.6 L105.0,210.0 L106.4,208.0 L108.3,206.5 L110.6,205.5 L111.8,203.1 L114.6,202.7 L115.1,199.7 L117.5,198.8 L118.9,196.8 L120.6,195.3 L123.2,194.9 L124.5,192.8 L126.4,191.6 L128.0,189.9 L130.0,188.8 L131.8,187.5 L133.2,185.7 L134.6,183.9 L136.6,182.8 L138.1,181.2 L140.0,180.0 L142.2,178.3 L145.2,178.7 L147.6,177.5 L150.0,176.2 L151.1,174.3 L152.4,172.4 L152.5,170.0 L154.7,169.1 L157.0,168.5 L158.3,166.6 L160.0,165.0 L163.0,168.0 L163.9,165.9 L165.0,164.0 L168.0,166.0 L170.0,162.5 L172.0,166.0 L175.0,165.5 L176.4,168.3 L177.5,171.2 L178.9,173.2 L181.5,173.9 L182.5,176.2" stroke="#1414f0" stroke-width="1.1"/><path d="M182.5,176.2 L184.9,175.2 L187.5,175.4 L189.9,174.2 L192.6,174.6 L195.0,173.8 L197.5,174.2 L200.0,174.2 L202.5,174.9 L205.0,175.0 L206.9,173.2 L208.2,170.7 L210.7,169.4 L212.5,167.5 L215.0,167.3 L217.5,166.7 L220.0,166.2 L222.4,167.3 L224.9,167.5 L227.5,167.5 L228.6,164.9 L229.6,162.3 L231.2,160.0 L231.1,157.4 L232.6,155.1 L232.5,152.5 L235.0,152.4 L237.5,151.8 L240.0,151.2 L242.2,150.8 L244.4,150.6 L246.5,149.9 L248.8,150.0 L248.7,147.8 L248.1,145.6 L248.8,143.4 L248.8,141.2 L248.5,139.0 L250.4,137.5 L251.6,135.2 L253.6,133.8 L254.8,131.3 L256.8,129.4 L258.7,127.4 L256.3,125.8 L253.6,124.8 L251.0,123.5 L249.3,120.7 L247.0,118.4 L247.3,115.8 L247.6,113.2 L248.8,110.7 L248.5,108.0 L246.1,106.9 L244.0,105.4 L242.3,103.4 L240.2,101.8 L238.0,100.5" stroke="#1414f0" stroke-width="1.1"/><path d="M170.0,172.5 L168.1,173.9 L167.6,176.3 L166.0,177.9 L165.0,180.0 L163.7,181.8 L163.4,184.2 L162.6,186.3 L160.9,187.9 L160.0,190.0 L161.4,192.3 L161.8,194.9 L162.5,197.5 L160.2,198.9 L158.3,200.8 L157.3,203.6 L155.0,205.0 L153.5,206.8 L151.5,207.9 L149.1,208.3 L147.9,210.6 L145.9,211.6 L144.1,213.0 L142.2,214.2 L140.0,215.0 L138.3,216.6 L137.0,218.7 L135.1,220.1 L133.1,221.4 L131.4,223.1 L130.0,225.0 L128.2,226.4 L126.0,227.1 L124.3,228.7 L122.5,230.0 L120.8,231.6 L120.3,234.0 L118.9,235.7 L117.5,237.5 L117.4,240.0 L116.8,242.5 L117.3,245.0 L117.5,247.5 L117.5,250.0 L120.0,252.5 L121.6,254.4 L122.8,256.5 L124.1,258.5 L124.3,261.2 L125.7,263.2 L127.5,265.0 L127.7,267.7 L129.1,270.0 L130.0,272.5 L128.9,274.9 L128.6,277.6 L127.5,280.0" stroke="#1414f0" stroke-width="1.1"/><path d="M215.0,167.5 L213.8,169.9 L213.4,172.4 L213.1,174.9 L213.4,177.6 L212.5,180.0 L212.4,182.5 L211.3,184.9 L211.2,187.5 L211.5,190.1 L213.5,192.3 L214.0,194.8 L213.6,197.7 L215.0,200.0 L214.5,202.3 L212.8,203.9 L212.2,206.1 L210.8,207.9 L210.0,210.0 L207.6,210.8 L205.8,212.4 L203.8,213.9 L201.8,215.2 L199.5,216.1 L197.5,217.5 L195.5,218.6 L193.8,220.1 L191.9,221.3 L190.0,222.5 L188.7,224.3 L187.8,226.5 L186.7,228.4 L185.0,230.0 L184.4,232.5 L184.6,235.1 L183.3,237.5 L182.5,239.9 L182.5,242.5 L181.0,244.3 L180.9,246.7 L179.6,248.6 L177.9,250.2 L177.5,252.5 L175.0,255.0" stroke="#1414f0" stroke-width="1.1"/><path d="M140.0,267.5 L142.4,267.0 L144.2,265.1 L146.6,264.7 L148.9,263.9 L150.6,261.9 L153.0,261.5 L155.0,260.0 L157.4,259.1 L159.9,258.2 L162.4,257.9 L165.0,257.5 L167.6,257.3 L169.9,255.7 L172.6,255.9 L175.0,255.0 L177.1,256.3 L179.3,257.6 L181.1,259.4 L183.1,260.9 L185.0,262.5 L186.9,263.7 L188.4,265.5 L190.3,266.8 L192.5,267.5 L195.0,270.0 L194.1,272.1 L191.9,273.3 L191.1,275.5 L190.0,277.5 L188.1,279.0 L187.5,281.2" stroke="#1414f0" stroke-width="1.1"/><path d="M248.8,150.0 L250.3,151.8 L251.8,153.5 L254.5,153.9 L255.3,156.5 L257.5,157.5 L259.0,159.7 L261.8,160.7 L262.8,163.5 L265.0,165.0 L265.8,167.1 L267.9,168.5 L268.1,171.0 L270.0,172.5 L272.6,173.2 L275.0,174.3 L277.4,175.5 L280.0,176.2 L282.5,176.8 L285.0,177.1 L287.5,176.6 L290.0,177.2 L292.5,177.5 L294.7,178.6 L296.5,180.3 L298.1,182.2 L300.0,183.8 L300.9,185.9 L300.7,188.2 L300.2,190.6 L301.5,192.7 L301.2,195.0 L300.9,197.5 L301.1,200.1 L300.0,202.5 L298.4,204.2 L298.0,206.6 L296.7,208.4 L295.0,210.0 L294.4,212.5 L294.6,215.0 L294.2,217.5 L293.8,220.0 L293.8,222.5 L293.8,225.0 L293.9,227.5 L293.8,230.0 L293.0,232.3 L291.7,234.3 L290.4,236.3 L289.1,238.2 L287.5,240.0 L286.8,242.1 L284.9,243.7 L284.9,246.2 L284.0,248.3 L282.5,250.0 L281.1,251.8 L279.6,253.4 L277.3,254.1 L276.0,256.0 L273.6,256.7 L271.8,258.3 L270.0,260.0 L267.8,260.9 L266.4,262.9 L264.8,264.6 L263.1,266.1 L261.2,267.5" stroke="#1414f0" stroke-width="1.1"/><path d="M265.0,165.0 L266.1,167.0 L266.3,169.3 L266.4,171.7 L267.6,173.7 L268.6,175.7 L269.6,177.8 L270.0,180.0 L268.5,182.3 L266.2,183.8 L264.7,185.7 L264.4,188.1 L264.4,190.6 L263.1,192.7 L262.5,195.0 L260.8,196.6 L259.1,198.2 L258.5,200.6 L257.0,202.3 L255.7,204.2 L253.8,205.6 L252.5,207.5 L250.5,209.1 L249.2,211.3 L248.5,213.8 L246.7,215.6 L245.0,217.5 L244.6,219.8 L243.5,221.7 L242.0,223.5 L241.5,225.7 L240.0,227.5 L238.8,229.7 L237.3,231.7 L235.6,233.6 L233.5,235.2 L232.5,237.5 L231.0,239.3 L228.8,240.2 L227.2,241.9 L225.6,243.5 L223.8,244.9 L221.5,245.7 L220.0,247.5 L218.3,249.3 L217.2,251.5 L215.7,253.4 L214.7,255.6 L214.0,258.1 L212.5,260.0 L213.7,262.4 L214.1,265.0 L215.0,267.5 L216.8,269.5 L218.4,271.6 L220.2,273.6 L222.5,275.0" stroke="#1414f0" stroke-width="1.1"/><path d="M358.8,250.0 L360.8,248.5 L363.5,248.5 L365.7,247.6 L367.7,245.8 L370.0,245.0 L371.9,243.4 L373.9,242.1 L375.9,240.7 L378.1,239.6 L380.2,238.3 L382.5,237.5 L384.9,236.7 L386.4,234.6 L388.5,233.3 L391.2,233.1 L393.3,231.8 L395.0,230.0 L396.7,228.2 L398.8,227.3 L401.4,226.9 L402.9,224.9 L405.0,223.8 L407.5,224.6 L410.0,225.0 L412.3,227.1 L415.0,228.8 L417.6,228.0 L419.8,226.2 L422.6,226.3 L425.0,225.0 L427.2,223.5 L428.7,221.2 L430.5,219.2 L432.5,217.5" stroke="#1414f0" stroke-width="1.1"/><path d="M432.5,217.5 L433.5,219.9 L433.6,222.5 L433.9,225.0 L435.4,227.3 L435.0,230.0 L434.7,232.5 L433.3,234.9 L433.9,237.5 L433.8,240.0 L432.5,242.0 L430.7,243.6 L430.1,246.1 L429.2,248.3 L427.5,250.0 L425.1,251.1 L424.3,254.0 L421.3,254.4 L420.0,256.8 L417.5,257.5 L415.1,257.5 L413.3,259.1 L411.2,260.0 L409.6,261.8 L407.4,262.4 L405.0,262.5 L402.6,263.0 L400.5,264.2 L398.4,265.5 L396.8,267.6 L394.0,267.4 L391.6,267.9 L390.0,270.0 L387.6,269.9 L385.6,271.1 L383.6,272.3 L381.5,273.0 L379.5,274.4 L377.5,275.3 L375.0,275.0 L372.4,275.1 L370.8,277.4 L368.7,278.5 L366.4,279.3 L363.8,279.3 L361.7,280.5 L360.0,282.5 L357.7,282.6 L355.4,282.9 L353.3,284.1 L351.0,284.4 L348.7,284.6 L346.6,285.4 L344.7,287.4 L342.2,287.0 L340.0,287.5 L337.8,287.8 L335.5,288.0 L333.2,287.9 L331.1,288.7 L329.1,290.0 L326.9,290.4 L324.5,290.1 L322.5,291.2 L322.2,293.7 L323.4,295.9 L323.6,298.3 L323.4,300.7 L323.9,303.0 L323.6,305.7 L322.9,308.4 L322.2,311.1 L322.8,313.9 L323.5,316.0 L323.7,318.3 L325.1,320.2 L324.2,322.7 L325.0,324.8 L326.0,326.9 L326.1,329.1 L327.1,331.2 L328.1,333.3 L328.1,335.5 L328.4,337.7 L328.2,340.0 L325.7,340.9 L323.8,342.7 L321.7,344.3 L319.4,345.9 L318.4,348.6 L317.5,350.9 L319.1,353.0 L319.5,355.2 L318.8,357.5" stroke="#1414f0" stroke-width="1.1"/><path d="M222.5,325.0 L225.1,325.4 L226.5,323.0 L229.1,323.4 L230.6,321.0 L232.9,320.8 L235.0,320.0 L236.5,318.2 L238.8,317.6 L239.9,315.2 L242.4,314.8 L244.1,313.3 L245.5,311.4 L248.7,312.0 L250.0,310.0 L252.7,309.8 L253.6,306.6 L256.5,306.6 L258.4,305.1 L260.3,303.6 L262.5,302.5 L265.0,302.8 L267.5,303.0 L270.0,301.8 L272.5,302.1 L275.0,302.5 L277.0,301.3 L279.8,301.3 L281.7,299.8 L283.4,298.2 L285.0,296.2 L287.5,295.5 L290.3,296.2 L292.8,295.8 L295.0,293.8 L297.5,294.9 L300.0,292.8 L302.5,293.5 L305.0,292.9 L307.5,293.6 L310.0,293.8 L312.7,294.3 L315.0,292.7 L317.4,291.7 L319.8,290.8 L322.5,291.2" stroke="#1414f0" stroke-width="1.1"/><path d="M328.2,342.0 L330.0,343.7 L332.8,343.0 L334.2,345.8 L336.8,345.5 L339.0,346.4 L341.3,347.8 L343.2,350.0 L346.1,350.6 L347.7,353.0 L350.3,353.3 L352.1,355.0 L354.6,355.5 L356.4,357.3 L358.4,358.6 L360.8,358.8 L363.1,359.6 L365.3,360.2 L367.3,361.6 L369.1,363.5 L369.4,366.0 L367.3,367.8 L365.3,369.6 L364.9,372.7 L363.0,374.6 L361.6,376.6 L362.4,379.1 L360.6,380.9 L360.8,383.3 L362.3,385.2 L362.3,387.7 L363.6,389.6 L363.2,392.2 L365.0,394.0 L367.2,395.5 L370.2,394.6 L372.7,395.5 L374.8,397.3 L377.2,398.2 L379.5,399.4 L381.1,401.1 L381.4,404.2 L383.1,405.9 L386.7,405.8 L387.4,408.5" stroke="#1414f0" stroke-width="1.1"/><path d="M420.0,256.8 L420.2,259.3 L419.9,261.9 L420.2,264.4 L420.2,266.9 L419.9,269.5 L421.0,272.0 L420.2,274.2 L421.4,276.6 L421.1,278.8 L420.3,281.0 L420.3,283.3 L418.7,285.4 L419.1,287.7 L419.4,290.0 L418.4,292.2 L417.5,294.5 L416.7,296.8 L415.0,298.7 L414.2,300.8 L412.9,302.8 L414.1,305.4 L412.8,307.4 L411.3,309.1 L409.8,310.9 L407.7,312.1 L406.3,313.9 L404.4,315.7 L402.5,317.4 L399.6,317.4 L397.9,319.5 L395.5,320.4 L395.1,323.6 L395.5,326.9 L397.1,329.1 L399.7,329.9 L402.0,331.2 L403.1,333.7 L405.1,335.3 L408.1,335.9 L409.6,338.0 L410.7,340.5 L412.8,342.0 L414.6,343.7 L417.1,344.7 L417.5,347.8 L419.5,349.3 L421.5,350.8 L423.7,351.7 L425.8,353.0 L428.4,353.3 L430.2,355.1 L431.5,357.3 L433.8,359.0 L434.5,361.6 L436.7,361.6 L439.0,361.9 L440.9,359.8 L443.1,359.6 L445.4,359.9 L447.6,359.4 L450.1,359.5 L451.7,357.2 L454.0,357.0 L456.3,356.8 L458.2,355.1 L460.6,355.1 L462.4,353.4 L465.1,354.2 L467.2,353.2 L469.3,352.4 L471.5,351.6 L473.6,350.8 L475.2,348.5 L477.8,347.8 L480.0,346.4" stroke="#1414f0" stroke-width="1.1"/><path d="M434.5,361.6 L433.4,364.1 L430.2,364.0 L428.6,365.8 L427.9,368.8 L425.1,369.3 L423.8,371.5 L421.5,372.5 L418.9,372.7 L416.7,373.8 L415.2,376.2 L412.8,376.8 L412.0,378.9 L411.8,381.2 L411.8,383.5 L410.7,385.5 L410.4,388.0 L410.1,390.5 L409.5,393.0 L407.8,395.3 L408.5,398.0 L406.6,399.7 L406.6,402.7 L404.5,404.2 L402.8,406.0" stroke="#1414f0" stroke-width="1.1"/><path d="M325.9,408.5 L328.3,409.1 L330.4,410.0 L330.8,413.1 L333.0,414.0 L335.6,414.3 L336.9,416.8 L339.9,416.4 L341.3,418.7 L342.0,421.6 L344.5,422.2 L347.2,422.5 L349.6,423.3 L349.6,427.1 L351.2,428.7 L354.0,429.0 L356.3,428.8 L358.6,428.4 L360.2,432.0 L362.4,432.1 L364.9,430.9 L367.0,431.5 L370.0,430.9 L371.8,434.1 L374.6,434.0 L374.0,436.9 L377.3,437.8 L378.1,440.0 L377.4,442.9 L379.7,444.4 L381.1,446.5 L382.7,448.3 L385.2,448.6 L387.4,449.5 L389.6,447.3 L392.6,447.0 L393.6,449.7 L395.8,450.5 L397.6,451.9 L400.3,452.0 L402.4,451.1 L404.6,450.6 L407.2,452.8 L409.4,452.3 L411.1,448.9 L413.4,448.5 L415.6,448.4 L418.0,449.5 L419.3,451.4 L422.1,451.6 L424.0,452.8 L424.9,455.2 L425.6,458.0 L428.4,458.0 L431.1,458.2 L432.7,459.8 L433.6,462.3 L435.6,460.9 L437.9,460.3 L440.1,459.1 L442.2,458.0 L444.8,458.2 L446.9,457.1 L449.1,456.3 L451.3,455.2 L454.0,456.0 L456.5,456.3 L459.0,456.0" stroke="#1414f0" stroke-width="1.1"/></g>
</g>
<path d="M10.5,153.8 L12.3,152.6 L14.1,151.4 L16.2,151.0 L17.8,149.4 L19.9,148.9 L21.7,147.7 L23.5,146.5 L25.6,145.9 L27.2,144.5 L29.3,143.9 L31.0,142.5 L32.9,141.6 L35.0,141.0 L36.7,139.9 L38.6,139.2 L39.9,137.4 L41.6,136.5 L43.6,135.8 L45.4,135.0 L46.9,133.6 L48.5,132.3 L50.5,131.8 L51.7,129.9 L53.9,129.5 L55.2,127.9 L56.8,126.7 L58.5,125.6 L60.3,124.8 L62.3,124.2 L63.7,122.5 L65.6,121.8 L67.3,120.8 L68.9,119.5 L70.7,118.5 L72.1,117.0 L73.8,115.9 L75.5,115.0 L77.5,114.4 L79.1,113.1 L80.7,111.9 L82.5,111.0 L84.5,110.2 L86.3,109.2 L88.2,108.2 L90.3,107.9 L92.2,106.9 L94.0,105.6 L96.0,105.0 L96.4,103.0 L96.7,101.0 L97.0,99.0 L99.1,98.9 L101.0,98.0 L102.5,101.0 L104.6,100.8 L106.6,99.9 L108.8,100.2 L110.6,98.8 L112.8,98.7 L114.9,98.6 L116.8,97.5 L118.9,97.4 L121.0,97.0 L123.0,100.0 L123.4,102.3 L122.6,104.5 L122.3,106.7 L122.5,109.0 L122.2,111.5 L122.0,114.0 L122.6,116.2 L124.2,117.9 L125.0,120.0 L127.4,121.4 L130.0,122.5 L132.3,122.5 L134.5,122.3 L136.7,122.1 L139.0,122.0 L140.1,120.1 L141.0,118.2 L141.2,116.0 L142.0,114.0 L144.0,113.8 L145.9,112.8 L148.0,113.1 L150.0,112.5 L152.5,111.0 L154.3,112.0 L156.0,113.2 L158.0,113.9 L160.0,114.5 L162.1,115.1 L164.0,116.1 L166.0,117.0 L168.3,117.8 L170.7,117.7 L172.9,118.8 L175.3,119.0 L177.5,120.0 L178.2,122.1 L178.6,124.3 L178.1,126.6 L179.1,128.7 L179.0,131.0 L181.2,130.5 L183.4,130.5 L185.6,130.8 L187.8,129.7 L190.0,130.0 L190.6,132.0 L191.0,134.0 L192.4,132.4 L194.0,130.9 L195.0,129.0 L197.1,128.7 L199.1,128.2 L200.9,127.0 L203.0,126.5 L205.0,126.0 L206.9,124.9 L209.0,124.0 L211.5,124.4 L214.0,124.0 L216.1,123.4 L217.5,121.5 L219.3,120.4 L221.2,119.4 L223.0,118.3 L225.0,117.5 L226.4,115.8 L227.9,114.2 L229.0,112.3 L230.1,110.5 L231.9,109.1 L233.2,107.4 L234.8,105.9 L236.5,104.5 L237.5,102.5 L237.1,100.4 L236.3,98.4 L235.7,96.3 L238.0,96.3 L240.3,96.2 L242.6,95.4 L244.9,96.2 L247.2,95.9 L249.5,95.5 L252.2,95.9 L252.6,99.1 L254.6,99.7 L256.6,99.5 L258.1,100.7 L261.3,99.9 L264.8,98.3 L264.4,95.9 L263.1,93.7 L261.3,92.0 L260.0,90.1 L258.9,88.0 L258.5,85.7 L259.7,82.5 L257.7,80.9 L258.9,79.4 L260.7,78.5 L262.4,77.4 L264.4,77.0 L266.3,76.3 L267.9,75.0 L270.0,74.6 L273.9,73.8 L276.6,73.1 L279.4,73.4 L280.6,75.4 L279.9,77.9 L278.6,80.1 L279.0,82.9 L278.6,85.7 L280.9,84.7 L283.4,84.1 L285.8,84.0 L288.1,84.9 L290.7,85.2 L292.9,86.5 L294.7,85.3 L296.8,84.9 L296.4,81.7 L297.9,79.5 L300.0,77.8 L301.2,76.1 L302.2,74.3 L303.9,73.0 L306.0,71.3 L307.4,69.1 L310.5,68.3 L312.5,69.0 L314.5,69.5 L316.3,70.6 L317.6,72.3 L319.6,74.6 L320.1,76.6 L320.0,78.6 L318.4,81.0 L317.6,84.1 L314.5,84.1 L312.5,84.1 L310.5,83.7 L309.7,86.5 L311.3,88.8 L314.0,87.9 L316.8,87.2 L319.0,87.1 L321.0,88.1 L323.1,88.0 L325.2,88.1 L327.1,87.2 L329.4,90.4 L330.2,92.0 L332.6,89.6 L334.1,87.7 L335.7,85.9 L337.3,84.1 L339.0,82.1 L341.3,80.9 L341.3,78.1 L342.1,75.4 L343.5,73.7 L345.2,72.3 L347.6,75.4 L351.5,75.8 L353.1,79.4 L354.1,81.7 L354.7,84.1 L353.2,86.3 L352.3,88.8 L351.8,90.9 L350.7,92.8 L352.7,94.0 L353.9,95.9 L354.8,98.0 L356.5,99.6 L357.9,101.4 L359.0,104.0 L360.0,107.5 L362.6,107.9 L365.0,109.0 L367.5,109.0 L370.0,109.0 L371.0,110.9 L371.0,113.0 L371.0,115.1 L371.6,117.1 L372.5,119.0 L375.0,119.5 L377.5,119.4 L380.0,120.0 L382.5,119.0 L384.9,118.0 L387.5,117.5 L389.9,119.0 L392.5,120.0 L395.0,119.5 L397.5,119.0 L399.6,117.6 L401.1,115.6 L402.9,113.9 L405.0,112.5 L407.5,113.1 L410.0,113.0 L410.8,115.3 L412.2,117.2 L413.5,119.2 L415.0,121.0 L415.2,123.6 L416.0,126.0 L417.7,127.2 L419.7,127.7 L421.4,129.0 L423.3,129.9 L425.0,131.0 L427.3,132.1 L429.2,133.7 L430.8,135.6 L433.1,135.5 L435.4,135.5 L437.7,136.1 L440.0,136.0 L441.8,137.2 L444.0,137.4 L446.0,138.2 L447.6,139.6 L449.3,140.7 L451.2,141.7 L453.3,142.2 L455.0,143.3 L454.4,145.4 L453.4,147.3 L452.5,149.2 L451.3,151.0 L451.0,153.6 L450.0,156.0 L449.2,158.6 L448.7,161.3 L447.2,163.5 L446.5,166.0 L445.3,168.6 L444.9,171.5 L444.4,173.6 L443.7,175.6 L443.0,177.6 L443.3,179.9 L442.3,181.8 L440.8,184.3 L439.7,187.0 L438.3,188.5 L437.3,190.2 L436.3,192.0 L435.5,193.8 L434.7,195.7 L433.3,197.2 L432.0,199.1 L431.4,201.4 L429.9,203.2 L428.8,205.1 L428.2,207.4 L429.1,209.4 L429.8,211.5 L430.0,213.8 L431.0,215.7 L432.0,217.7 L433.0,219.5 L433.7,221.4 L434.3,223.4 L434.6,225.4 L437.3,226.1 L440.0,226.0 L442.1,225.7 L443.9,224.3 L446.0,224.0 L448.1,225.0 L450.2,225.8 L452.5,226.0 L455.0,225.8 L457.5,225.2 L460.0,225.0 L462.5,225.4 L465.1,225.3 L467.5,226.0 L470.1,226.0 L472.4,227.5 L475.0,227.5 L477.4,228.9 L480.0,230.0 L482.0,232.0 L484.0,234.0 L486.0,234.5 L488.0,233.9 L490.0,234.0 L491.4,236.3 L493.1,238.2 L495.0,240.0 L496.3,241.9 L497.2,243.9 L498.2,245.9 L499.3,247.9 L500.0,250.0 L502.5,251.3 L505.0,252.5 L507.1,252.7 L509.0,253.4 L511.0,254.0 L514.0,256.0 L513.0,258.4 L510.9,260.1 L510.0,262.5 L507.5,263.4 L505.0,264.0 L504.2,266.0 L503.2,268.0 L502.5,270.0 L502.9,272.6 L504.2,275.0 L505.0,277.5 L507.5,280.0 L509.9,281.3 L512.5,281.7 L515.0,282.5 L517.0,282.5 L519.0,282.5 L521.0,281.9 L523.0,282.4 L524.3,284.0 L525.7,285.5 L527.0,287.1 L527.5,289.2 L529.0,290.7 L529.6,292.7 L529.5,294.8 L529.5,297.0 L530.0,299.0 L529.2,301.3 L528.7,303.7 L527.8,306.0 L529.0,307.8 L530.1,309.6 L531.1,311.5 L533.0,312.9 L533.7,315.0 L535.0,316.7 L533.1,318.0 L531.1,319.1 L529.0,320.0 L527.0,319.4 L525.0,319.3 L523.0,319.0 L521.4,320.6 L519.7,322.0 L518.3,323.8 L517.4,325.7 L517.5,327.7 L517.0,329.7 L515.0,330.4 L513.1,331.2 L511.2,332.0 L509.2,333.6 L507.1,335.0 L505.3,336.8 L504.6,338.8 L503.7,340.7 L503.0,342.7 L503.5,345.6 L504.0,348.6 L501.5,349.4 L499.4,351.0 L499.6,353.4 L499.8,355.7 L500.6,358.0 L498.1,358.2 L495.9,359.3 L496.0,357.3 L496.7,355.4 L497.0,353.4 L494.8,353.7 L492.9,354.6 L491.0,355.7 L488.5,354.3 L486.4,352.2 L483.8,350.7 L481.7,348.6 L479.4,349.9 L477.0,351.0 L476.2,353.5 L474.9,355.8 L473.4,358.0 L471.7,360.0 L469.3,361.1 L467.5,362.8 L466.3,364.5 L465.4,366.2 L465.2,368.4 L464.0,370.0 L463.1,372.0 L462.6,374.0 L462.5,376.3 L461.5,378.2 L459.6,379.9 L458.0,381.7 L456.8,384.0 L457.1,386.3 L456.3,388.7 L456.8,391.0 L455.2,392.7 L453.4,394.3 L451.3,395.5 L450.0,397.5 L449.3,400.0 L449.7,402.5 L449.0,405.0 L447.7,407.0 L446.3,409.0 L445.0,411.0 L447.1,412.9 L449.0,415.0 L446.0,417.5 L446.1,419.7 L445.7,421.8 L445.0,423.8 L445.0,426.0 L446.7,427.3 L447.5,429.3 L448.8,430.8 L450.0,432.5 L451.7,434.1 L452.7,436.1 L453.6,438.2 L455.0,440.0 L456.2,441.9 L457.9,443.5 L458.3,445.9 L460.0,447.5 L461.1,449.4 L462.3,451.2 L464.0,452.5 L465.4,454.8 L466.0,457.5 L467.0,459.9 L467.5,462.5 L467.0,464.7 L465.2,466.4 L464.7,468.6 L463.9,470.7 L462.5,472.5 L463.3,475.0 L464.0,477.5 L462.3,478.9 L461.1,480.6 L460.0,482.5 L458.1,483.3 L456.1,483.9 L453.9,483.6 L452.0,484.4 L450.0,485.0 L447.9,485.3 L446.1,486.4 L444.1,487.0 L441.9,486.8 L440.0,487.5 L438.0,488.1 L436.1,489.0 L433.9,488.5 L432.0,489.4 L430.0,490.0 L428.5,492.4 L427.5,495.0 L424.9,494.6 L422.6,493.0 L420.0,492.5 L417.7,494.2 L415.0,495.0 L412.4,495.1 L410.0,496.0 L408.0,496.1 L406.0,496.0 L405.6,493.8 L405.7,491.6 L405.9,489.4 L404.9,487.2 L405.0,485.0 L403.0,483.6 L401.7,481.6 L400.0,480.0 L398.3,478.7 L396.7,477.3 L395.2,475.8 L393.7,474.3 L392.5,472.5 L390.3,472.8 L388.2,472.7 L386.0,472.5 L385.6,470.5 L385.9,468.5 L385.2,466.5 L385.2,464.5 L385.0,462.5 L383.2,460.8 L381.9,458.9 L380.1,457.2 L379.0,455.0 L376.8,455.3 L374.5,455.5 L372.2,454.7 L370.0,455.0 L367.5,454.1 L364.9,453.7 L362.5,452.5 L360.8,450.9 L359.5,448.8 L357.5,447.5 L356.3,445.5 L356.2,443.0 L355.0,441.0 L353.1,440.2 L351.2,439.3 L349.5,438.0 L347.5,437.5 L345.6,436.3 L343.8,435.0 L342.0,433.6 L340.0,432.5 L337.4,432.5 L335.0,433.7 L332.5,434.0 L330.3,433.9 L328.2,434.3 L326.1,434.6 L324.0,435.0 L323.2,432.8 L322.3,430.6 L321.3,428.4 L321.0,426.0 L321.0,422.5 L322.2,419.8 L324.0,417.5 L324.6,414.8 L326.0,412.5 L325.1,410.7 L323.4,409.3 L322.5,407.5 L321.0,406.0 L319.8,404.4 L319.0,402.5 L317.6,400.6 L316.0,398.9 L314.0,397.5 L314.4,395.5 L314.2,393.5 L314.3,391.5 L314.6,389.5 L315.0,387.5 L317.0,385.7 L319.0,384.0 L318.9,381.7 L319.4,379.5 L319.5,377.2 L320.0,375.0 L321.4,373.4 L322.5,371.5 L323.0,369.4 L324.0,367.5 L324.7,364.9 L326.0,362.5 L325.4,360.5 L324.0,359.0 L321.8,358.7 L319.6,358.2 L317.5,357.5 L315.0,360.0 L313.4,361.5 L311.3,362.1 L309.4,363.0 L307.5,364.0 L306.2,366.1 L305.3,368.4 L303.7,370.4 L302.5,372.5 L301.8,374.5 L300.4,376.0 L299.0,377.5 L299.6,379.7 L299.4,382.0 L300.0,384.2 L300.2,386.5 L300.0,388.7 L300.0,391.0 L297.6,391.8 L295.0,391.9 L292.5,392.5 L290.0,393.0 L287.4,393.2 L285.0,394.0 L282.9,395.1 L280.9,396.2 L278.8,397.2 L277.1,398.9 L275.0,400.0 L272.8,401.2 L270.3,401.5 L268.4,403.4 L266.0,404.0 L264.0,403.0 L261.8,402.4 L259.5,402.2 L257.5,401.0 L255.5,400.1 L253.3,399.6 L251.2,399.4 L249.0,399.0 L246.8,398.4 L244.6,397.9 L242.2,398.3 L240.0,397.5 L237.7,398.1 L235.5,398.7 L233.2,399.0 L231.0,400.0 L229.2,398.1 L227.2,396.4 L225.0,395.0 L224.8,393.0 L224.8,390.9 L224.0,389.0 L224.5,386.9 L224.9,384.7 L225.0,382.5 L227.4,381.0 L230.0,380.0 L231.3,378.0 L233.0,376.4 L235.0,375.0 L234.0,372.5 L232.9,370.1 L232.5,367.5 L231.6,364.8 L230.0,362.5 L228.0,361.6 L226.1,360.7 L224.0,360.0 L224.5,358.0 L225.0,356.0 L225.2,354.0 L225.1,351.9 L226.0,350.0 L226.8,348.1 L227.3,346.1 L227.5,344.0 L229.3,342.0 L231.0,340.0 L233.5,338.8 L236.0,337.5 L235.0,335.3 L233.2,333.4 L232.5,331.0 L230.0,330.7 L227.5,331.0 L226.0,333.2 L224.0,335.0 L225.0,332.5 L223.6,330.8 L222.8,328.9 L222.2,326.8 L221.0,325.0 L218.8,323.6 L217.2,321.5 L215.0,320.0 L213.4,318.3 L211.2,317.5 L209.3,316.4 L207.5,315.0 L205.0,315.4 L202.5,315.5 L200.0,316.0 L197.6,316.7 L195.4,317.9 L193.2,318.9 L191.0,320.0 L187.5,319.0 L185.4,318.8 L183.4,318.2 L181.4,317.5 L179.6,316.3 L177.5,316.0 L175.0,316.2 L172.5,315.9 L170.0,316.0 L169.5,318.1 L168.4,319.8 L167.2,321.5 L165.8,323.1 L165.0,325.0 L163.8,323.2 L162.5,321.5 L161.0,320.0 L160.4,318.0 L160.2,316.0 L159.8,314.0 L159.4,312.0 L159.0,310.0 L158.8,308.0 L159.8,306.0 L159.3,304.0 L160.3,302.1 L160.0,300.0 L160.0,297.4 L159.0,295.0 L157.3,293.7 L156.3,291.7 L155.0,290.0 L153.6,288.1 L152.0,286.3 L150.0,285.0 L147.5,284.2 L144.9,283.6 L142.5,282.5 L140.0,282.8 L137.5,282.5 L136.0,279.0 L134.0,277.5 L131.8,277.8 L130.0,279.0 L127.6,279.8 L125.0,280.0 L122.5,281.2 L120.0,282.5 L117.3,281.6 L115.0,280.0 L113.4,278.3 L112.0,276.3 L110.0,275.0 L109.1,273.1 L109.3,270.9 L108.5,269.0 L108.4,266.9 L107.5,265.0 L107.2,262.9 L106.2,261.1 L106.4,258.9 L105.5,257.0 L105.0,255.0 L103.3,252.7 L102.5,250.0 L102.7,247.3 L104.0,245.0 L103.6,242.8 L103.2,240.5 L102.7,238.3 L102.5,236.0 L100.1,235.2 L98.1,233.8 L96.0,232.5 L94.9,230.7 L94.6,228.6 L92.9,227.1 L92.5,225.0 L91.6,223.2 L90.5,221.5 L89.0,220.0 L87.0,220.4 L85.0,220.0 L82.3,220.8 L80.0,222.5 L77.5,222.8 L74.9,223.1 L72.5,224.0 L70.7,225.1 L68.8,225.9 L66.9,226.7 L65.0,227.5 L62.7,228.3 L61.0,230.0 L60.6,232.0 L60.5,234.0 L60.0,236.0 L58.8,238.0 L57.5,240.0 L55.6,238.2 L54.0,236.0 L51.4,234.8 L49.4,232.7 L47.2,231.6 L45.7,229.5 L43.4,228.5 L41.6,226.8 L40.6,224.9 L38.7,223.8 L37.5,222.0 L36.0,220.5 L35.0,218.7 L33.7,217.0 L31.4,216.3 L29.3,215.1 L27.4,213.5 L25.0,213.0 L21.8,211.0 L20.9,208.8 L19.5,206.8 L17.9,205.0 L17.7,202.7 L17.6,200.4 L17.3,198.2 L16.5,196.0 L16.3,193.6 L15.9,191.3 L17.1,189.4 L17.5,187.1 L18.9,185.4 L18.6,183.4 L17.8,181.5 L17.7,179.4 L17.1,177.5 L16.2,175.6 L15.4,173.7 L15.9,171.5 L14.9,169.6 L14.0,167.7 L13.8,165.6 L13.1,163.7 L12.5,161.7 L12.4,159.6 L12.1,157.6 L10.8,155.8Z" fill="none" stroke="#222" stroke-width="2" stroke-linejoin="round"/>
<path d="M329,84.5 L329.5,80.5 L332.5,77.8 L335.5,78.3 L335,82 L332,85.5Z" fill="#222" stroke="#222" stroke-width="0.8" stroke-linejoin="round"/>
</g>
</svg>
</body></html>
